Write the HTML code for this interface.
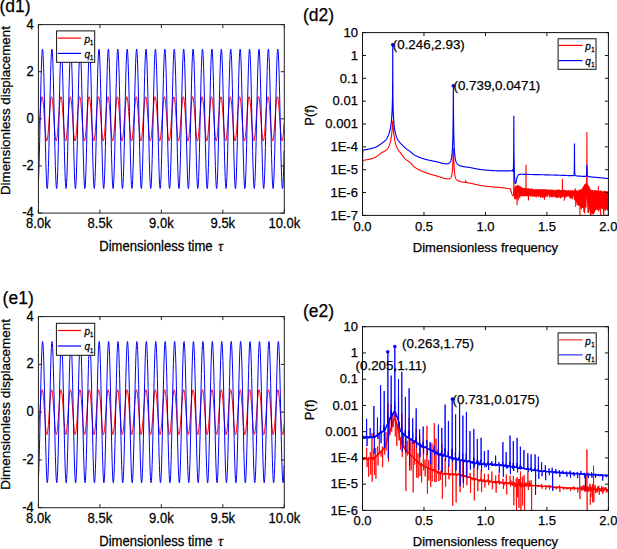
<!DOCTYPE html>
<html><head><meta charset="utf-8"><style>html,body{margin:0;padding:0;background:#fff;overflow:hidden}svg{display:block}</style></head>
<body>
<svg width="617" height="549" viewBox="0 0 617 549">
<rect width="617" height="549" fill="#fff"/>
<clipPath id="cd1"><rect x="38.4" y="24.6" width="245.9" height="188.5"/></clipPath>
<polyline points="38.4,136.19 38.65,133.66 38.9,130.72 39.15,127.45 39.4,123.93 39.65,120.28 39.9,116.59 40.15,112.96 40.4,109.5 40.65,106.29 40.9,103.44 41.15,101.01 41.4,99.08 41.65,97.69 41.9,96.9 42.15,96.71 42.4,97.14 42.65,98.18 42.9,99.79 43.15,101.92 43.4,104.53 43.65,107.54 43.9,110.86 44.15,114.4 44.4,118.07 44.65,121.75 44.9,125.36 45.15,128.79 45.4,131.94 45.65,134.72 45.9,137.07 46.15,138.91 46.4,140.19 46.65,140.88 46.9,140.96 47.15,140.42 47.4,139.28 47.65,137.58 47.9,135.35 48.15,132.67 48.4,129.6 48.65,126.23 48.9,122.66 49.15,118.98 49.4,115.3 49.65,111.72 49.9,108.34 50.15,105.24 50.4,102.53 50.65,100.27 50.9,98.52 51.15,97.34 51.4,96.76 51.65,96.8 51.9,97.44 52.15,98.68 52.4,100.48 52.65,102.79 52.9,105.55 53.15,108.67 53.4,112.08 53.65,115.68 53.9,119.37 54.15,123.04 54.4,126.59 54.65,129.93 54.9,132.96 55.15,135.6 55.4,137.78 55.65,139.43 55.9,140.5 56.15,140.98 56.4,140.84 56.65,140.08 56.9,138.74 57.15,136.85 57.4,134.45 57.65,131.63 57.9,128.44 58.15,124.99 58.4,121.37 58.65,117.68 58.9,114.02 59.15,110.5 59.4,107.21 59.65,104.24 59.9,101.68 60.15,99.59 60.4,98.04 60.65,97.07 60.9,96.7 61.15,96.95 61.4,97.81 61.65,99.25 61.9,101.24 62.15,103.71 62.4,106.61 62.65,109.85 62.9,113.33 63.15,116.97 63.4,120.67 63.65,124.31 63.9,127.8 64.15,131.04 64.4,133.94 64.65,136.43 64.9,138.42 65.15,139.87 65.4,140.74 65.65,141 65.9,140.64 66.15,139.68 66.4,138.14 66.65,136.06 66.9,133.5 67.15,130.54 67.4,127.25 67.65,123.73 67.9,120.08 68.15,116.39 68.4,112.76 68.65,109.31 68.9,106.12 69.15,103.29 69.4,100.89 69.65,98.98 69.9,97.63 70.15,96.87 70.4,96.72 70.65,97.19 70.9,98.25 71.15,99.89 71.4,102.06 71.65,104.69 71.9,107.72 72.15,111.05 72.4,114.6 72.65,118.27 72.9,121.96 73.15,125.56 73.4,128.97 73.65,132.1 73.9,134.87 74.15,137.19 74.4,139 74.65,140.24 74.9,140.9 75.15,140.94 75.4,140.37 75.65,139.2 75.9,137.46 76.15,135.21 76.4,132.5 76.65,129.42 76.9,126.04 77.15,122.46 77.4,118.78 77.65,115.1 77.9,111.52 78.15,108.15 78.4,105.08 78.65,102.39 78.9,100.16 79.15,98.44 79.4,97.3 79.65,96.75 79.9,96.82 80.15,97.49 80.4,98.77 80.65,100.6 80.9,102.93 81.15,105.71 81.4,108.86 81.65,112.28 81.9,115.89 82.15,119.57 82.4,123.24 82.65,126.79 82.9,130.11 83.15,133.12 83.4,135.74 83.65,137.88 83.9,139.5 84.15,140.54 84.4,140.98 84.65,140.81 84.9,140.02 85.15,138.65 85.4,136.73 85.65,134.31 85.9,131.46 86.15,128.26 86.4,124.79 86.65,121.17 86.9,117.48 87.15,113.82 87.4,110.31 87.65,107.03 87.9,104.09 88.15,101.55 88.4,99.49 88.65,97.97 88.9,97.03 89.15,96.7 89.4,96.98 89.65,97.88 89.9,99.35 90.15,101.36 90.4,103.87 90.65,106.78 90.9,110.04 91.15,113.54 91.4,117.18 91.65,120.87 91.9,124.51 92.15,127.99 92.4,131.21 92.65,134.09 92.9,136.55 93.15,138.52 93.4,139.94 93.65,140.77 93.9,140.99 94.15,140.6 94.4,139.61 94.65,138.03 94.9,135.93 95.15,133.35 95.4,130.37 95.65,127.06 95.9,123.53 96.15,119.87 96.4,116.18 96.65,112.56 96.9,109.12 97.15,105.95 97.4,103.14 97.65,100.77 97.9,98.89 98.15,97.57 98.4,96.85 98.65,96.73 98.9,97.23 99.15,98.33 99.4,100 99.65,102.19 99.9,104.85 100.15,107.9 100.4,111.25 100.65,114.81 100.9,118.48 101.15,122.16 101.4,125.76 101.65,129.16 101.9,132.27 102.15,135.01 102.4,137.3 102.65,139.08 102.9,140.3 103.15,140.92 103.4,140.93 103.65,140.32 103.9,139.12 104.15,137.35 104.4,135.07 104.65,132.34 104.9,129.23 105.15,125.84 105.4,122.25 105.65,118.57 105.9,114.89 106.15,111.33 106.4,107.97 106.65,104.92 106.9,102.25 107.15,100.05 107.4,98.36 107.65,97.25 107.9,96.74 108.15,96.84 108.4,97.55 108.65,98.85 108.9,100.71 109.15,103.08 109.4,105.88 109.65,109.04 109.9,112.48 110.15,116.09 110.4,119.78 110.65,123.44 110.9,126.98 111.15,130.29 111.4,133.28 111.65,135.87 111.9,137.99 112.15,139.58 112.4,140.58 112.65,140.99 112.9,140.78 113.15,139.96 113.4,138.56 113.65,136.6 113.9,134.16 114.15,131.29 114.4,128.07 114.65,124.59 114.9,120.96 115.15,117.27 115.4,113.62 115.65,110.12 115.9,106.86 116.15,103.93 116.4,101.42 116.65,99.39 116.9,97.9 117.15,97 117.4,96.7 117.65,97.02 117.9,97.94 118.15,99.45 118.4,101.49 118.65,104.02 118.9,106.96 119.15,110.23 119.4,113.74 119.65,117.39 119.9,121.08 120.15,124.71 120.4,128.18 120.65,131.38 120.9,134.24 121.15,136.67 121.4,138.61 121.65,140 121.9,140.8 122.15,140.99 122.4,140.56 122.65,139.53 122.9,137.93 123.15,135.8 123.4,133.19 123.65,130.19 123.9,126.87 124.15,123.33 124.4,119.66 124.65,115.97 124.9,112.37 125.15,108.94 125.4,105.79 125.65,103 125.9,100.65 126.15,98.8 126.4,97.52 126.65,96.82 126.9,96.74 127.15,97.28 127.4,98.41 127.65,100.11 127.9,102.33 128.15,105.01 128.4,108.08 128.65,111.44 128.9,115.01 129.15,118.69 129.4,122.37 129.65,125.95 129.9,129.34 130.15,132.43 130.4,135.15 130.65,137.42 130.9,139.16 131.15,140.35 131.4,140.93 131.65,140.91 131.9,140.27 132.15,139.03 132.4,137.24 132.65,134.93 132.9,132.18 133.15,129.05 133.4,125.64 133.65,122.05 133.9,118.36 134.15,114.69 134.4,111.13 134.65,107.79 134.9,104.76 135.15,102.12 135.4,99.94 135.65,98.29 135.9,97.2 136.15,96.73 136.4,96.86 136.65,97.61 136.9,98.94 137.15,100.83 137.4,103.23 137.65,106.05 137.9,109.23 138.15,112.68 138.4,116.3 138.65,119.99 138.9,123.65 139.15,127.17 139.4,130.47 139.65,133.44 139.9,136 140.15,138.09 140.4,139.65 140.65,140.62 140.9,141 141.15,140.75 141.4,139.9 141.65,138.46 141.9,136.48 142.15,134.01 142.4,131.11 142.65,127.88 142.9,124.39 143.15,120.76 143.4,117.06 143.65,113.42 143.9,109.93 144.15,106.69 144.4,103.78 144.65,101.29 144.9,99.29 145.15,97.84 145.4,96.97 145.65,96.7 145.9,97.05 146.15,98.01 146.4,99.55 146.65,101.62 146.9,104.17 147.15,107.13 147.4,110.42 147.65,113.94 147.9,117.59 148.15,121.28 148.4,124.91 148.65,128.36 148.9,131.55 149.15,134.39 149.4,136.8 149.65,138.7 149.9,140.06 150.15,140.82 150.4,140.98 150.65,140.52 150.9,139.46 151.15,137.82 151.4,135.66 151.65,133.03 151.9,130.01 152.15,126.68 152.4,123.13 152.65,119.46 152.9,115.77 153.15,112.17 153.4,108.75 153.65,105.62 153.9,102.85 154.15,100.53 154.4,98.72 154.65,97.46 154.9,96.8 155.15,96.76 155.4,97.32 155.65,98.49 155.9,100.22 156.15,102.47 156.4,105.17 156.65,108.26 156.9,111.64 157.15,115.21 157.4,118.89 157.65,122.57 157.9,126.15 158.15,129.52 158.4,132.6 158.65,135.29 158.9,137.53 159.15,139.25 159.4,140.4 159.65,140.95 159.9,140.89 160.15,140.21 160.4,138.95 160.65,137.12 160.9,134.79 161.15,132.01 161.4,128.87 161.65,125.45 161.9,121.84 162.15,118.16 162.4,114.49 162.65,110.94 162.9,107.61 163.15,104.6 163.4,101.98 163.65,99.83 163.9,98.21 164.15,97.16 164.4,96.72 164.65,96.89 164.9,97.67 165.15,99.04 165.4,100.96 165.65,103.37 165.9,106.22 166.15,109.42 166.4,112.88 166.65,116.5 166.9,120.19 167.15,123.85 167.4,127.36 167.65,130.64 167.9,133.59 168.15,136.13 168.4,138.19 168.65,139.72 168.9,140.66 169.15,141 169.4,140.72 169.65,139.83 169.9,138.36 170.15,136.35 170.4,133.86 170.65,130.94 170.9,127.69 171.15,124.19 171.4,120.55 171.65,116.86 171.9,113.22 172.15,109.74 172.4,106.51 172.65,103.63 172.9,101.17 173.15,99.2 173.4,97.77 173.65,96.94 173.9,96.71 174.15,97.09 174.4,98.08 174.65,99.65 174.9,101.75 175.15,104.33 175.4,107.31 175.65,110.61 175.9,114.14 176.15,117.8 176.4,121.49 176.65,125.11 176.9,128.55 177.15,131.72 177.4,134.54 177.65,136.92 177.9,138.79 178.15,140.12 178.4,140.85 178.65,140.97 178.9,140.48 179.15,139.38 179.4,137.72 179.65,135.53 179.9,132.87 180.15,129.83 180.4,126.48 180.65,122.92 180.9,119.25 181.15,115.56 181.4,111.97 181.65,108.57 181.9,105.45 182.15,102.71 182.4,100.41 182.65,98.63 182.9,97.41 183.15,96.78 183.4,96.77 183.65,97.37 183.9,98.57 184.15,100.33 184.4,102.61 184.65,105.34 184.9,108.44 185.15,111.83 185.4,115.42 185.65,119.1 185.9,122.78 186.15,126.34 186.4,129.7 186.65,132.76 186.9,135.43 187.15,137.64 187.4,139.33 187.65,140.44 187.9,140.96 188.15,140.87 188.4,140.16 188.65,138.86 188.9,137 189.15,134.64 189.4,131.84 189.65,128.68 189.9,125.25 190.15,121.64 190.4,117.95 190.65,114.28 190.9,110.75 191.15,107.44 191.4,104.44 191.65,101.85 191.9,99.73 192.15,98.14 192.4,97.12 192.65,96.71 192.9,96.91 193.15,97.73 193.4,99.13 193.65,101.08 193.9,103.52 194.15,106.39 194.4,109.61 194.65,113.08 194.9,116.71 195.15,120.4 195.4,124.05 195.65,127.55 195.9,130.82 196.15,133.75 196.4,136.26 196.65,138.29 196.9,139.79 197.15,140.7 197.4,141 197.65,140.69 197.9,139.77 198.15,138.27 198.4,136.23 198.65,133.7 198.9,130.77 199.15,127.5 199.4,123.99 199.65,120.34 199.9,116.65 200.15,113.02 200.4,109.55 200.65,106.34 200.9,103.48 201.15,101.04 201.4,99.1 201.65,97.71 201.9,96.91 202.15,96.71 202.4,97.13 202.65,98.16 202.9,99.76 203.15,101.89 203.4,104.49 203.65,107.49 203.9,110.8 204.15,114.34 204.4,118.01 204.65,121.7 204.9,125.31 205.15,128.74 205.4,131.89 205.65,134.68 205.9,137.04 206.15,138.88 206.4,140.17 206.65,140.87 206.9,140.96 207.15,140.43 207.4,139.3 207.65,137.61 207.9,135.39 208.15,132.71 208.4,129.65 208.65,126.29 208.9,122.72 209.15,119.04 209.4,115.36 209.65,111.78 209.9,108.39 210.15,105.29 210.4,102.57 210.65,100.3 210.9,98.55 211.15,97.36 211.4,96.77 211.65,96.79 211.9,97.43 212.15,98.66 212.4,100.45 212.65,102.75 212.9,105.5 213.15,108.62 213.4,112.03 213.65,115.62 213.9,119.31 214.15,122.98 214.4,126.54 214.65,129.88 214.9,132.92 215.15,135.57 215.4,137.75 215.65,139.4 215.9,140.49 216.15,140.97 216.4,140.84 216.65,140.1 216.9,138.77 217.15,136.88 217.4,134.5 217.65,131.67 217.9,128.5 218.15,125.05 218.4,121.43 218.65,117.74 218.9,114.08 219.15,110.56 219.4,107.26 219.65,104.28 219.9,101.72 220.15,99.62 220.4,98.06 220.65,97.08 220.9,96.71 221.15,96.94 221.4,97.79 221.65,99.22 221.9,101.2 222.15,103.67 222.4,106.56 222.65,109.79 222.9,113.28 223.15,116.92 223.4,120.61 223.65,124.25 223.9,127.74 224.15,130.99 224.4,133.9 224.65,136.39 224.9,138.39 225.15,139.85 225.4,140.73 225.65,141 225.9,140.65 226.15,139.7 226.4,138.17 226.65,136.1 226.9,133.55 227.15,130.59 227.4,127.31 227.65,123.79 227.9,120.14 228.15,116.44 228.4,112.82 228.65,109.36 228.9,106.17 229.15,103.33 229.4,100.92 229.65,99.01 229.9,97.65 230.15,96.88 230.4,96.72 230.65,97.17 230.9,98.23 231.15,99.86 231.4,102.02 231.65,104.64 231.9,107.66 232.15,111 232.4,114.55 232.65,118.21 232.9,121.9 233.15,125.5 233.4,128.92 233.65,132.06 233.9,134.83 234.15,137.15 234.4,138.97 234.65,140.23 234.9,140.89 235.15,140.95 235.4,140.38 235.65,139.22 235.9,137.5 236.15,135.25 236.4,132.55 236.65,129.47 236.9,126.09 237.15,122.51 237.4,118.84 237.65,115.16 237.9,111.58 238.15,108.21 238.4,105.13 238.65,102.43 238.9,100.19 239.15,98.47 239.4,97.31 239.65,96.75 239.9,96.81 240.15,97.48 240.4,98.74 240.65,100.56 240.9,102.89 241.15,105.67 241.4,108.81 241.65,112.23 241.9,115.83 242.15,119.52 242.4,123.18 242.65,126.73 242.9,130.06 243.15,133.08 243.4,135.7 243.65,137.85 243.9,139.48 244.15,140.53 244.4,140.98 244.65,140.82 244.9,140.04 245.15,138.68 245.4,136.76 245.65,134.35 245.9,131.5 246.15,128.31 246.4,124.85 246.65,121.23 246.9,117.53 247.15,113.88 247.4,110.36 247.65,107.08 247.9,104.13 248.15,101.58 248.4,99.52 248.65,97.99 248.9,97.04 249.15,96.7 249.4,96.98 249.65,97.86 249.9,99.32 250.15,101.33 250.4,103.82 250.65,106.73 250.9,109.98 251.15,113.48 251.4,117.12 251.65,120.81 251.9,124.45 252.15,127.93 252.4,131.16 252.65,134.05 252.9,136.52 253.15,138.49 253.4,139.92 253.65,140.76 253.9,140.99 254.15,140.61 254.4,139.63 254.65,138.06 254.9,135.97 255.15,133.39 255.4,130.42 255.65,127.12 255.9,123.59 256.15,119.93 256.4,116.24 256.65,112.62 256.9,109.18 257.15,106 257.4,103.18 257.65,100.8 257.9,98.92 258.15,97.59 258.4,96.85 258.65,96.73 258.9,97.22 259.15,98.31 259.4,99.97 259.65,102.15 259.9,104.8 260.15,107.84 260.4,111.19 260.65,114.75 260.9,118.42 261.15,122.11 261.4,125.7 261.65,129.1 261.9,132.22 262.15,134.97 262.4,137.27 262.65,139.06 262.9,140.28 263.15,140.91 263.4,140.93 263.65,140.33 263.9,139.14 264.15,137.38 264.4,135.11 264.65,132.39 264.9,129.29 265.15,125.9 265.4,122.31 265.65,118.63 265.9,114.95 266.15,111.38 266.4,108.02 266.65,104.96 266.9,102.29 267.15,100.08 267.4,98.39 267.65,97.26 267.9,96.74 268.15,96.83 268.4,97.53 268.65,98.83 268.9,100.68 269.15,103.04 269.4,105.83 269.65,108.99 269.9,112.42 270.15,116.03 270.4,119.72 270.65,123.39 270.9,126.92 271.15,130.24 271.4,133.24 271.65,135.83 271.9,137.96 272.15,139.55 272.4,140.57 272.65,140.99 272.9,140.79 273.15,139.98 273.4,138.58 273.65,136.64 273.9,134.2 274.15,131.33 274.4,128.12 274.65,124.65 274.9,121.02 275.15,117.33 275.4,113.68 275.65,110.17 275.9,106.91 276.15,103.98 276.4,101.46 276.65,99.42 276.9,97.92 277.15,97.01 277.4,96.7 277.65,97.01 277.9,97.92 278.15,99.42 278.4,101.46 278.65,103.98 278.9,106.91 279.15,110.17 279.4,113.68 279.65,117.33 279.9,121.02 280.15,124.65 280.4,128.12 280.65,131.33 280.9,134.2 281.15,136.64 281.4,138.58 281.65,139.98 281.9,140.79 282.15,140.99 282.4,140.57 282.65,139.55 282.9,137.96 283.15,135.83 283.4,133.24 283.65,130.24 283.9,126.92 284.15,123.39" fill="none" stroke="#ff0000" stroke-width="1.0" stroke-linejoin="round" clip-path="url(#cd1)"/>
<polyline points="38.4,182.97 38.65,177.51 38.9,170.43 39.15,161.92 39.4,152.21 39.65,141.57 39.9,130.3 40.15,118.71 40.4,107.13 40.65,95.87 40.9,85.25 41.15,75.56 41.4,67.08 41.65,60.04 41.9,54.63 42.15,51 42.4,49.26 42.65,49.45 42.9,51.58 43.15,55.57 43.4,61.32 43.65,68.67 43.9,77.41 44.15,87.31 44.4,98.08 44.65,109.43 44.9,121.04 45.15,132.59 45.4,143.76 45.65,154.23 45.9,163.72 46.15,171.97 46.4,178.74 46.65,183.85 46.9,187.14 47.15,188.55 47.4,188.01 47.65,185.55 47.9,181.24 48.15,175.2 48.4,167.59 48.65,158.62 48.9,148.55 49.15,137.66 49.4,126.24 49.65,114.62 49.9,103.11 50.15,92.04 50.4,81.72 50.65,72.43 50.9,64.42 51.15,57.94 51.4,53.14 51.65,50.17 51.9,49.11 52.15,49.98 52.4,52.77 52.65,57.4 52.9,63.73 53.15,71.6 53.4,80.78 53.65,91.01 53.9,102.02 54.15,113.5 54.4,125.13 54.65,136.58 54.9,147.54 55.15,157.7 55.4,166.78 55.65,174.53 55.9,180.74 56.15,185.22 56.4,187.86 56.65,188.58 56.9,187.36 57.15,184.24 57.4,179.31 57.65,172.69 57.9,164.57 58.15,155.19 58.4,144.8 58.65,133.68 58.9,122.15 59.15,110.54 59.4,99.15 59.65,88.31 59.9,78.32 60.15,69.45 60.4,61.96 60.65,56.05 60.9,51.88 61.15,49.57 61.4,49.19 61.65,50.75 61.9,54.2 62.15,59.44 62.4,66.34 62.65,74.69 62.9,84.27 63.15,94.82 63.4,106.03 63.65,117.59 63.9,129.19 64.15,140.51 64.4,151.22 64.65,161.03 64.9,169.67 65.15,176.9 65.4,182.52 65.65,186.36 65.9,188.33 66.15,188.37 66.4,186.48 66.65,182.71 66.9,177.16 67.15,169.99 67.4,161.4 67.65,151.63 67.9,140.95 68.15,129.65 68.4,118.06 68.65,106.48 68.9,95.25 69.15,84.68 69.4,75.05 69.65,66.65 69.9,59.69 70.15,54.37 70.4,50.85 70.65,49.22 70.9,49.52 71.15,51.75 71.4,55.85 71.65,61.69 71.9,69.12 72.15,77.94 72.4,87.89 72.65,98.7 72.9,110.07 73.15,121.69 73.4,133.23 73.65,144.36 73.9,154.79 74.15,164.22 74.4,172.39 74.65,179.07 74.9,184.08 75.15,187.27 75.4,188.57 75.65,187.92 75.9,185.36 76.15,180.95 76.4,174.81 76.65,167.12 76.9,158.09 77.15,147.96 77.4,137.03 77.65,125.59 77.9,113.97 78.15,102.48 78.4,91.44 78.65,81.17 78.9,71.94 79.15,64.02 79.4,57.62 79.65,52.92 79.9,50.06 80.15,49.11 80.4,50.09 80.65,52.98 80.9,57.71 81.15,64.14 81.4,72.08 81.65,81.32 81.9,91.61 82.15,102.66 82.4,114.15 82.65,125.78 82.9,137.21 83.15,148.13 83.4,158.24 83.65,167.25 83.9,174.92 84.15,181.03 84.4,185.42 84.65,187.95 84.9,188.56 85.15,187.24 85.4,184.01 85.65,178.98 85.9,172.27 86.15,164.08 86.4,154.63 86.65,144.19 86.9,133.04 87.15,121.5 87.4,109.89 87.65,98.52 87.9,87.72 88.15,77.79 88.4,68.99 88.65,61.58 88.9,55.77 89.15,51.7 89.4,49.5 89.65,49.23 89.9,50.89 90.15,54.45 90.4,59.79 90.65,66.77 90.9,75.2 91.15,84.84 91.4,95.43 91.65,106.67 91.9,118.24 92.15,129.84 92.4,141.13 92.65,151.8 92.9,161.55 93.15,170.12 93.4,177.26 93.65,182.78 93.9,186.52 94.15,188.39 94.4,188.32 94.65,186.32 94.9,182.44 95.15,176.8 95.4,169.55 95.65,160.89 95.9,151.06 96.15,140.33 96.4,129.01 96.65,117.41 96.9,105.84 97.15,94.64 97.4,84.11 97.65,74.55 97.9,66.22 98.15,59.34 98.4,54.13 98.65,50.71 98.9,49.19 99.15,49.6 99.4,51.93 99.65,56.13 99.9,62.07 100.15,69.58 100.4,78.47 100.65,88.47 100.9,99.33 101.15,110.72 101.4,122.34 101.65,133.86 101.9,144.97 102.15,155.35 102.4,164.71 102.65,172.81 102.9,179.4 103.15,184.31 103.4,187.4 103.65,188.58 103.9,187.83 104.15,185.16 104.4,180.65 104.65,174.42 104.9,166.65 105.15,157.54 105.4,147.37 105.65,136.4 105.9,124.94 106.15,113.32 106.4,101.84 106.65,90.84 106.9,80.62 107.15,71.46 107.4,63.62 107.65,57.31 107.9,52.71 108.15,49.95 108.4,49.11 108.65,50.2 108.9,53.2 109.15,58.03 109.4,64.54 109.65,72.57 109.9,81.88 110.15,92.21 110.4,103.29 110.65,114.8 110.9,126.42 111.15,137.84 111.4,148.72 111.65,158.78 111.9,167.72 112.15,175.31 112.4,181.33 112.65,185.61 112.9,188.03 113.15,188.54 113.4,187.11 113.65,183.78 113.9,178.64 114.15,171.85 114.4,163.58 114.65,154.07 114.9,143.58 115.15,132.41 115.4,120.85 115.65,109.24 115.9,97.9 116.15,87.14 116.4,77.26 116.65,68.54 116.9,61.21 117.15,55.49 117.4,51.53 117.65,49.44 117.9,49.27 118.15,51.04 118.4,54.7 118.65,60.14 118.9,67.2 119.15,75.71 119.4,85.41 119.65,96.04 119.9,107.31 120.15,118.9 120.4,130.48 120.65,141.74 120.9,152.37 121.15,162.06 121.4,170.56 121.65,177.61 121.9,183.04 122.15,186.68 122.4,188.43 122.65,188.25 122.9,186.15 123.15,182.17 123.4,176.43 123.65,169.1 123.9,160.36 124.15,150.48 124.4,139.71 124.65,128.36 124.9,116.76 125.15,105.2 125.4,94.03 125.65,83.55 125.9,74.05 126.15,65.79 126.4,59.01 126.65,53.89 126.9,50.57 127.15,49.16 127.4,49.68 127.65,52.12 127.9,56.42 128.15,62.45 128.4,70.05 128.65,79 128.9,89.06 129.15,99.95 129.4,111.37 129.65,122.99 129.9,134.5 130.15,145.57 130.4,155.9 130.65,165.2 130.9,173.22 131.15,179.72 131.4,184.53 131.65,187.51 131.9,188.59 132.15,187.73 132.4,184.96 132.65,180.34 132.9,174.02 133.15,166.17 133.4,157 133.65,146.77 133.9,135.77 134.15,124.29 134.4,112.67 134.65,101.21 134.9,90.25 135.15,80.08 135.4,70.99 135.65,63.22 135.9,57.01 136.15,52.51 136.4,49.86 136.65,49.12 136.9,50.32 137.15,53.43 137.4,58.35 137.65,64.95 137.9,73.06 138.15,82.43 138.4,92.82 138.65,103.93 138.9,115.45 139.15,127.07 139.4,138.46 139.65,149.31 139.9,159.31 140.15,168.18 140.4,175.69 140.65,181.61 140.9,185.79 141.15,188.11 141.4,188.51 141.65,186.97 141.9,183.54 142.15,178.31 142.4,171.42 142.65,163.08 142.9,153.51 143.15,142.97 143.4,131.77 143.65,120.2 143.9,108.6 144.15,97.28 144.4,86.56 144.65,76.74 144.9,68.09 145.15,60.85 145.4,55.22 145.65,51.36 145.9,49.38 146.15,49.32 146.4,51.2 146.65,54.96 146.9,60.49 147.15,67.64 147.4,76.22 147.65,85.99 147.9,96.66 148.15,107.95 148.4,119.55 148.65,131.12 148.9,142.36 149.15,152.94 149.4,162.57 149.65,170.99 149.9,177.96 150.15,183.29 150.4,186.83 150.65,188.47 150.9,188.19 151.15,185.97 151.4,181.89 151.65,176.06 151.9,168.64 152.15,159.84 152.4,149.89 152.65,139.09 152.9,127.72 153.15,116.1 153.4,104.56 153.65,93.42 153.9,82.99 154.15,73.55 154.4,65.37 154.65,58.68 154.9,53.65 155.15,50.44 155.4,49.14 155.65,49.76 155.9,52.31 156.15,56.71 156.4,62.83 156.65,70.51 156.9,79.54 157.15,89.65 157.4,100.58 157.65,112.02 157.9,123.64 158.15,135.13 158.4,146.17 158.65,156.45 158.9,165.69 159.15,173.62 159.4,180.03 159.65,184.75 159.9,187.63 160.15,188.59 160.4,187.63 160.65,184.75 160.9,180.03 161.15,173.62 161.4,165.69 161.65,156.45 161.9,146.17 162.15,135.13 162.4,123.64 162.65,112.02 162.9,100.58 163.15,89.65 163.4,79.54 163.65,70.51 163.9,62.83 164.15,56.71 164.4,52.31 164.65,49.76 164.9,49.14 165.15,50.44 165.4,53.65 165.65,58.68 165.9,65.37 166.15,73.55 166.4,82.99 166.65,93.42 166.9,104.56 167.15,116.1 167.4,127.72 167.65,139.09 167.9,149.89 168.15,159.84 168.4,168.64 168.65,176.06 168.9,181.89 169.15,185.97 169.4,188.19 169.65,188.47 169.9,186.83 170.15,183.29 170.4,177.96 170.65,170.99 170.9,162.57 171.15,152.94 171.4,142.36 171.65,131.12 171.9,119.55 172.15,107.95 172.4,96.66 172.65,85.99 172.9,76.22 173.15,67.64 173.4,60.49 173.65,54.96 173.9,51.2 174.15,49.32 174.4,49.38 174.65,51.36 174.9,55.22 175.15,60.85 175.4,68.09 175.65,76.74 175.9,86.56 176.15,97.28 176.4,108.6 176.65,120.2 176.9,131.77 177.15,142.97 177.4,153.51 177.65,163.08 177.9,171.42 178.15,178.31 178.4,183.54 178.65,186.97 178.9,188.51 179.15,188.11 179.4,185.79 179.65,181.61 179.9,175.69 180.15,168.18 180.4,159.31 180.65,149.31 180.9,138.46 181.15,127.07 181.4,115.45 181.65,103.93 181.9,92.82 182.15,82.43 182.4,73.06 182.65,64.95 182.9,58.35 183.15,53.43 183.4,50.32 183.65,49.12 183.9,49.86 184.15,52.51 184.4,57.01 184.65,63.22 184.9,70.99 185.15,80.08 185.4,90.25 185.65,101.21 185.9,112.67 186.15,124.29 186.4,135.77 186.65,146.77 186.9,157 187.15,166.17 187.4,174.02 187.65,180.34 187.9,184.96 188.15,187.73 188.4,188.59 188.65,187.51 188.9,184.53 189.15,179.72 189.4,173.22 189.65,165.2 189.9,155.9 190.15,145.57 190.4,134.5 190.65,122.99 190.9,111.37 191.15,99.95 191.4,89.06 191.65,79 191.9,70.05 192.15,62.45 192.4,56.42 192.65,52.12 192.9,49.68 193.15,49.16 193.4,50.57 193.65,53.89 193.9,59.01 194.15,65.79 194.4,74.05 194.65,83.55 194.9,94.03 195.15,105.2 195.4,116.76 195.65,128.36 195.9,139.71 196.15,150.48 196.4,160.36 196.65,169.1 196.9,176.43 197.15,182.17 197.4,186.15 197.65,188.25 197.9,188.43 198.15,186.68 198.4,183.04 198.65,177.61 198.9,170.56 199.15,162.06 199.4,152.37 199.65,141.74 199.9,130.48 200.15,118.9 200.4,107.31 200.65,96.04 200.9,85.41 201.15,75.71 201.4,67.2 201.65,60.14 201.9,54.7 202.15,51.04 202.4,49.27 202.65,49.44 202.9,51.53 203.15,55.49 203.4,61.21 203.65,68.54 203.9,77.26 204.15,87.14 204.4,97.9 204.65,109.24 204.9,120.85 205.15,132.41 205.4,143.58 205.65,154.07 205.9,163.58 206.15,171.85 206.4,178.64 206.65,183.78 206.9,187.11 207.15,188.54 207.4,188.03 207.65,185.61 207.9,181.33 208.15,175.31 208.4,167.72 208.65,158.78 208.9,148.72 209.15,137.84 209.4,126.42 209.65,114.8 209.9,103.29 210.15,92.21 210.4,81.88 210.65,72.57 210.9,64.54 211.15,58.03 211.4,53.2 211.65,50.2 211.9,49.11 212.15,49.95 212.4,52.71 212.65,57.31 212.9,63.62 213.15,71.46 213.4,80.62 213.65,90.84 213.9,101.84 214.15,113.32 214.4,124.94 214.65,136.4 214.9,147.37 215.15,157.54 215.4,166.65 215.65,174.42 215.9,180.65 216.15,185.16 216.4,187.83 216.65,188.58 216.9,187.4 217.15,184.31 217.4,179.4 217.65,172.81 217.9,164.71 218.15,155.35 218.4,144.97 218.65,133.86 218.9,122.34 219.15,110.72 219.4,99.33 219.65,88.47 219.9,78.47 220.15,69.58 220.4,62.07 220.65,56.13 220.9,51.93 221.15,49.6 221.4,49.19 221.65,50.71 221.9,54.13 222.15,59.34 222.4,66.22 222.65,74.55 222.9,84.11 223.15,94.64 223.4,105.84 223.65,117.41 223.9,129.01 224.15,140.33 224.4,151.06 224.65,160.89 224.9,169.55 225.15,176.8 225.4,182.44 225.65,186.32 225.9,188.32 226.15,188.39 226.4,186.52 226.65,182.78 226.9,177.26 227.15,170.12 227.4,161.55 227.65,151.8 227.9,141.13 228.15,129.84 228.4,118.24 228.65,106.67 228.9,95.43 229.15,84.84 229.4,75.2 229.65,66.77 229.9,59.79 230.15,54.45 230.4,50.89 230.65,49.23 230.9,49.5 231.15,51.7 231.4,55.77 231.65,61.58 231.9,68.99 232.15,77.79 232.4,87.72 232.65,98.52 232.9,109.89 233.15,121.5 233.4,133.04 233.65,144.19 233.9,154.63 234.15,164.08 234.4,172.27 234.65,178.98 234.9,184.01 235.15,187.24 235.4,188.56 235.65,187.95 235.9,185.42 236.15,181.03 236.4,174.92 236.65,167.25 236.9,158.24 237.15,148.13 237.4,137.21 237.65,125.78 237.9,114.15 238.15,102.66 238.4,91.61 238.65,81.32 238.9,72.08 239.15,64.14 239.4,57.71 239.65,52.98 239.9,50.09 240.15,49.11 240.4,50.06 240.65,52.92 240.9,57.62 241.15,64.02 241.4,71.94 241.65,81.17 241.9,91.44 242.15,102.48 242.4,113.97 242.65,125.59 242.9,137.03 243.15,147.96 243.4,158.09 243.65,167.12 243.9,174.81 244.15,180.95 244.4,185.36 244.65,187.92 244.9,188.57 245.15,187.27 245.4,184.08 245.65,179.07 245.9,172.39 246.15,164.22 246.4,154.79 246.65,144.36 246.9,133.23 247.15,121.69 247.4,110.07 247.65,98.7 247.9,87.89 248.15,77.94 248.4,69.12 248.65,61.69 248.9,55.85 249.15,51.75 249.4,49.52 249.65,49.22 249.9,50.85 250.15,54.37 250.4,59.69 250.65,66.65 250.9,75.05 251.15,84.68 251.4,95.25 251.65,106.48 251.9,118.06 252.15,129.65 252.4,140.95 252.65,151.63 252.9,161.4 253.15,169.99 253.4,177.16 253.65,182.71 253.9,186.48 254.15,188.37 254.4,188.33 254.65,186.36 254.9,182.52 255.15,176.9 255.4,169.67 255.65,161.03 255.9,151.22 256.15,140.51 256.4,129.19 256.65,117.59 256.9,106.03 257.15,94.82 257.4,84.27 257.65,74.69 257.9,66.34 258.15,59.44 258.4,54.2 258.65,50.75 258.9,49.19 259.15,49.57 259.4,51.88 259.65,56.05 259.9,61.96 260.15,69.45 260.4,78.32 260.65,88.31 260.9,99.15 261.15,110.54 261.4,122.15 261.65,133.68 261.9,144.8 262.15,155.19 262.4,164.57 262.65,172.69 262.9,179.31 263.15,184.24 263.4,187.36 263.65,188.58 263.9,187.86 264.15,185.22 264.4,180.74 264.65,174.53 264.9,166.78 265.15,157.7 265.4,147.54 265.65,136.58 265.9,125.13 266.15,113.5 266.4,102.02 266.65,91.01 266.9,80.78 267.15,71.6 267.4,63.73 267.65,57.4 267.9,52.77 268.15,49.98 268.4,49.11 268.65,50.17 268.9,53.14 269.15,57.94 269.4,64.42 269.65,72.43 269.9,81.72 270.15,92.04 270.4,103.11 270.65,114.62 270.9,126.24 271.15,137.66 271.4,148.55 271.65,158.62 271.9,167.59 272.15,175.2 272.4,181.24 272.65,185.55 272.9,188.01 273.15,188.55 273.4,187.14 273.65,183.85 273.9,178.74 274.15,171.97 274.4,163.72 274.65,154.23 274.9,143.76 275.15,132.59 275.4,121.04 275.65,109.43 275.9,98.08 276.15,87.31 276.4,77.41 276.65,68.67 276.9,61.32 277.15,55.57 277.4,51.58 277.65,49.45 277.9,49.26 278.15,51 278.4,54.63 278.65,60.04 278.9,67.08 279.15,75.56 279.4,85.25 279.65,95.87 279.9,107.13 280.15,118.71 280.4,130.3 280.65,141.57 280.9,152.21 281.15,161.92 281.4,170.43 281.65,177.51 281.9,182.97 282.15,186.63 282.4,188.42 282.65,188.27 282.9,186.2 283.15,182.25 283.4,176.54 283.65,169.23 283.9,160.51 284.15,150.64" fill="none" stroke="#0000ff" stroke-width="1.0" stroke-linejoin="round" clip-path="url(#cd1)"/>
<rect x="56.6" y="30.9" width="38.1" height="31.4" fill="#fff" stroke="#111" stroke-width="1.0"/>
<line x1="57.8" y1="38.1" x2="81.1" y2="38.1" stroke="#ff0000" stroke-width="1.2"/>
<line x1="57.8" y1="53.4" x2="81.1" y2="53.4" stroke="#0000ff" stroke-width="1.2"/>
<text transform="translate(84.4,42.5) scale(1,1.1)" font-family='"Liberation Sans", sans-serif' font-size="10" text-anchor="start" stroke="#000" stroke-width="0.25" font-style="italic">p</text>
<text transform="translate(89.9,44.9) scale(1,1.1)" font-family='"Liberation Sans", sans-serif' font-size="6" text-anchor="start" stroke="#000" stroke-width="0.25">1</text>
<text transform="translate(84.4,57.6) scale(1,1.1)" font-family='"Liberation Sans", sans-serif' font-size="10" text-anchor="start" stroke="#000" stroke-width="0.25" font-style="italic">q</text>
<text transform="translate(89.9,60) scale(1,1.1)" font-family='"Liberation Sans", sans-serif' font-size="6" text-anchor="start" stroke="#000" stroke-width="0.25">1</text>
<rect x="38.4" y="24.6" width="245.9" height="188.5" fill="none" stroke="#222" stroke-width="1.0"/>
<path d="M38.4,213.1v-3.5M38.4,24.6v3.5M99.88,213.1v-3.5M99.88,24.6v3.5M161.35,213.1v-3.5M161.35,24.6v3.5M222.83,213.1v-3.5M222.83,24.6v3.5M284.3,213.1v-3.5M284.3,24.6v3.5M38.4,24.6h3.5M284.3,24.6h-3.5M38.4,71.72h3.5M284.3,71.72h-3.5M38.4,118.85h3.5M284.3,118.85h-3.5M38.4,165.97h3.5M284.3,165.97h-3.5M38.4,213.1h3.5M284.3,213.1h-3.5" stroke="#222" stroke-width="1.0" fill="none"/>
<text transform="translate(38.4,228.1) scale(1,1.07)" font-family='"Liberation Sans", sans-serif' font-size="13" text-anchor="middle" stroke="#000" stroke-width="0.25">8.0k</text>
<text transform="translate(99.88,228.1) scale(1,1.07)" font-family='"Liberation Sans", sans-serif' font-size="13" text-anchor="middle" stroke="#000" stroke-width="0.25">8.5k</text>
<text transform="translate(161.35,228.1) scale(1,1.07)" font-family='"Liberation Sans", sans-serif' font-size="13" text-anchor="middle" stroke="#000" stroke-width="0.25">9.0k</text>
<text transform="translate(222.83,228.1) scale(1,1.07)" font-family='"Liberation Sans", sans-serif' font-size="13" text-anchor="middle" stroke="#000" stroke-width="0.25">9.5k</text>
<text transform="translate(284.3,228.1) scale(1,1.07)" font-family='"Liberation Sans", sans-serif' font-size="13" text-anchor="middle" stroke="#000" stroke-width="0.25">10.0k</text>
<text transform="translate(33.8,28.6) scale(1,1.07)" font-family='"Liberation Sans", sans-serif' font-size="13" text-anchor="end" stroke="#000" stroke-width="0.25">4</text>
<text transform="translate(33.8,75.72) scale(1,1.07)" font-family='"Liberation Sans", sans-serif' font-size="13" text-anchor="end" stroke="#000" stroke-width="0.25">2</text>
<text transform="translate(33.8,122.85) scale(1,1.07)" font-family='"Liberation Sans", sans-serif' font-size="13" text-anchor="end" stroke="#000" stroke-width="0.25">0</text>
<text transform="translate(33.8,169.97) scale(1,1.07)" font-family='"Liberation Sans", sans-serif' font-size="13" text-anchor="end" stroke="#000" stroke-width="0.25">-2</text>
<text transform="translate(33.8,217.1) scale(1,1.07)" font-family='"Liberation Sans", sans-serif' font-size="13" text-anchor="end" stroke="#000" stroke-width="0.25">-4</text>
<text transform="translate(99.2,251.4) scale(1,1.07)" font-family='"Liberation Sans", sans-serif' font-size="13.1" text-anchor="start" stroke="#000" stroke-width="0.25">Dimensionless time</text>
<text transform="translate(218.3,251.4) scale(1,1.07)" font-family='"Liberation Serif", serif' font-size="13.5" text-anchor="start" stroke="#000" stroke-width="0.25" font-style="italic">&#964;</text>
<text transform="translate(10.2,110.6) rotate(-90) scale(1.0262,1)" font-family='"Liberation Sans", sans-serif' font-size="13" text-anchor="middle" stroke="#000" stroke-width="0.25">Dimensionless displacement</text>
<text transform="translate(-0.6,12.2) scale(1,1.0)" font-family='"Liberation Sans", sans-serif' font-size="17.5" text-anchor="start" stroke="#000" stroke-width="0.25">(d1)</text>
<clipPath id="cd2"><rect x="362.5" y="32.6" width="245.9" height="182.8"/></clipPath>
<polyline points="362.5,168.56 362.7,163.32 362.9,160.55 363.1,160.48 363.3,160.41 363.5,160.35 363.7,160.29 363.9,160.23 364.1,160.18 364.3,160.14 364.5,160.1 364.7,160.06 364.9,160.02 365.1,159.99 365.3,159.95 365.5,159.92 365.7,159.89 365.9,159.87 366.1,159.84 366.3,159.81 366.5,159.78 366.7,159.76 366.9,159.73 367.1,159.7 367.3,159.67 367.5,159.64 367.7,159.61 367.9,159.57 368.1,159.53 368.3,159.49 368.5,159.45 368.7,159.41 368.9,159.36 369.1,159.31 369.3,159.26 369.5,159.21 369.7,159.16 369.9,159.11 370.1,159.06 370.3,159.01 370.5,158.96 370.7,158.91 370.9,158.86 371.1,158.8 371.3,158.75 371.5,158.69 371.7,158.64 371.9,158.58 372.1,158.52 372.3,158.46 372.5,158.4 372.7,158.33 372.9,158.27 373.1,158.21 373.3,158.14 373.5,158.07 373.7,158 373.9,157.93 374.1,157.86 374.3,157.78 374.5,157.71 374.7,157.63 374.9,157.55 375.1,157.46 375.3,157.36 375.5,157.26 375.7,157.15 375.9,157.03 376.1,156.91 376.3,156.78 376.5,156.65 376.7,156.51 376.9,156.37 377.1,156.22 377.3,156.07 377.5,155.92 377.7,155.76 377.9,155.6 378.1,155.44 378.3,155.28 378.5,155.12 378.7,154.96 378.9,154.79 379.1,154.63 379.3,154.47 379.5,154.31 379.7,154.15 379.9,153.99 380.1,153.83 380.3,153.67 380.5,153.52 380.7,153.37 380.9,153.23 381.1,153.08 381.3,152.94 381.5,152.81 381.7,152.68 381.9,152.55 382.1,152.43 382.3,152.32 382.5,152.2 382.7,152.1 382.9,152 383.1,151.9 383.3,151.81 383.5,151.72 383.7,151.62 383.9,151.52 384.1,151.41 384.3,151.3 384.5,151.19 384.7,151.07 384.9,150.94 385.1,150.81 385.3,150.68 385.5,150.54 385.7,150.39 385.9,150.23 386.1,150.06 386.3,149.89 386.5,149.7 386.7,149.51 386.9,149.3 387.1,149.08 387.3,148.85 387.5,148.6 387.7,148.34 387.9,148.05 388.1,147.75 388.3,147.43 388.5,147.08 388.7,146.7 388.9,146.3 389.1,145.86 389.3,145.39 389.5,144.87 389.7,144.31 389.9,143.7 390.1,143.03 390.3,142.29 390.5,141.48 390.7,140.58 390.9,139.57 391.1,138.44 391.3,137.17 391.5,135.72 391.7,134.06 391.9,132.13 392.1,129.89 392.3,127.28 392.5,124.31 392.7,121.48 392.75,121.13 392.9,122.84 393.1,125.77 393.3,128.49 393.5,130.87 393.7,132.91 393.9,134.69 394.1,136.25 394.3,137.62 394.5,138.84 394.7,139.94 394.9,140.93 395.1,141.83 395.3,142.65 395.5,143.41 395.7,144.11 395.9,144.75 396.1,145.35 396.3,145.91 396.5,146.43 396.7,146.92 396.9,147.39 397.1,147.82 397.3,148.24 397.5,148.63 397.7,149 397.9,149.36 398.1,149.7 398.3,150.02 398.5,150.33 398.7,150.63 398.9,150.92 399.1,151.2 399.3,151.47 399.5,151.72 399.7,151.97 399.9,152.22 400.1,152.45 400.3,152.7 400.5,152.94 400.7,153.2 400.9,153.45 401.1,153.72 401.3,153.98 401.5,154.25 401.7,154.53 401.9,154.8 402.1,155.08 402.3,155.36 402.5,155.63 402.7,155.91 402.9,156.18 403.1,156.45 403.3,156.72 403.5,156.98 403.7,157.24 403.9,157.49 404.1,157.73 404.3,157.96 404.5,158.18 404.7,158.4 404.9,158.6 405.1,158.79 405.3,158.97 405.5,159.14 405.7,159.31 405.9,159.48 406.1,159.63 406.3,159.79 406.5,159.94 406.7,160.09 406.9,160.23 407.1,160.37 407.3,160.51 407.5,160.65 407.7,160.78 407.9,160.92 408.1,161.05 408.3,161.19 408.5,161.33 408.7,161.46 408.9,161.6 409.1,161.74 409.3,161.89 409.5,162.04 409.7,162.19 409.9,162.34 410.1,162.5 410.3,162.68 410.5,162.86 410.7,163.05 410.9,163.25 411.1,163.46 411.3,163.67 411.5,163.89 411.7,164.11 411.9,164.34 412.1,164.56 412.3,164.79 412.5,165.02 412.7,165.24 412.9,165.46 413.1,165.68 413.3,165.89 413.5,166.1 413.7,166.31 413.9,166.5 414.1,166.69 414.3,166.87 414.5,167.04 414.7,167.2 414.9,167.35 415.1,167.48 415.3,167.62 415.5,167.75 415.7,167.88 415.9,168.01 416.1,168.14 416.3,168.27 416.5,168.39 416.7,168.51 416.9,168.63 417.1,168.75 417.3,168.87 417.5,168.98 417.7,169.1 417.9,169.21 418.1,169.32 418.3,169.43 418.5,169.54 418.7,169.65 418.9,169.76 419.1,169.86 419.3,169.96 419.5,170.06 419.7,170.17 419.9,170.26 420.1,170.36 420.3,170.46 420.5,170.56 420.7,170.65 420.9,170.74 421.1,170.84 421.3,170.93 421.5,171.02 421.7,171.11 421.9,171.2 422.1,171.28 422.3,171.37 422.5,171.46 422.7,171.54 422.9,171.62 423.1,171.71 423.3,171.79 423.5,171.87 423.7,171.95 423.9,172.03 424.1,172.11 424.3,172.19 424.5,172.27 424.7,172.34 424.9,172.42 425.1,172.5 425.3,172.57 425.5,172.64 425.7,172.72 425.9,172.79 426.1,172.86 426.3,172.93 426.5,173 426.7,173.07 426.9,173.13 427.1,173.2 427.3,173.27 427.5,173.33 427.7,173.4 427.9,173.46 428.1,173.52 428.3,173.59 428.5,173.65 428.7,173.71 428.9,173.77 429.1,173.83 429.3,173.89 429.5,173.95 429.7,174.01 429.9,174.07 430.1,174.13 430.3,174.18 430.5,174.24 430.7,174.3 430.9,174.35 431.1,174.41 431.3,174.47 431.5,174.52 431.7,174.58 431.9,174.63 432.1,174.69 432.3,174.75 432.5,174.8 432.7,174.86 432.9,174.91 433.1,174.97 433.3,175.02 433.5,175.08 433.7,175.13 433.9,175.19 434.1,175.25 434.3,175.3 434.5,175.36 434.7,175.41 434.9,175.47 435.1,175.53 435.3,175.59 435.5,175.64 435.7,175.7 435.9,175.76 436.1,175.82 436.3,175.88 436.5,175.94 436.7,176 436.9,176.06 437.1,176.12 437.3,176.19 437.5,176.25 437.7,176.31 437.9,176.38 438.1,176.44 438.3,176.51 438.5,176.57 438.7,176.64 438.9,176.7 439.1,176.77 439.3,176.84 439.5,176.9 439.7,176.97 439.9,177.03 440.1,177.1 440.3,177.17 440.5,177.23 440.7,177.3 440.9,177.36 441.1,177.42 441.3,177.49 441.5,177.55 441.7,177.61 441.9,177.68 442.1,177.74 442.3,177.8 442.5,177.86 442.7,177.91 442.9,177.97 443.1,178.03 443.3,178.08 443.5,178.14 443.7,178.19 443.9,178.24 444.1,178.29 444.3,178.34 444.5,178.39 444.7,178.43 444.9,178.48 445.1,178.52 445.3,178.56 445.5,178.6 445.7,178.64 445.9,178.67 446.1,178.71 446.3,178.74 446.5,178.77 446.7,178.8 446.9,178.83 447.1,178.86 447.3,178.88 447.5,178.9 447.7,178.92 447.9,178.93 448.1,178.94 448.3,178.94 448.5,178.94 448.7,178.93 448.9,178.91 449.1,178.88 449.3,178.84 449.5,178.79 449.7,178.72 449.9,178.63 450.1,178.52 450.3,178.38 450.5,178.2 450.7,177.98 450.9,177.7 451.1,177.34 451.3,176.89 451.5,176.3 451.7,175.54 451.9,174.54 452.1,173.21 452.3,171.42 452.5,168.96 452.7,165.57 452.9,160.86 453.1,154.66 453.3,149.11 453.36,148.66 453.5,150.85 453.7,157.3 453.9,162.96 454.1,167.14 454.3,170.17 454.5,172.41 454.7,174.08 454.9,175.35 455.1,176.33 455.3,177.11 455.5,177.73 455.7,178.24 455.9,178.66 456.1,179.01 456.3,179.31 456.5,179.56 456.7,179.78 456.9,179.98 457.1,180.15 457.3,180.3 457.5,180.44 457.7,180.56 457.9,180.67 458.1,180.78 458.3,180.87 458.5,180.96 458.7,181.04 458.9,181.11 459.1,181.19 459.3,181.25 459.5,181.31 459.7,181.37 459.9,181.43 460.1,181.48 460.3,181.53 460.5,181.58 460.7,181.63 460.9,181.67 461.1,181.72 461.3,181.76 461.5,181.8 461.7,181.84 461.9,181.87 462.1,181.91 462.3,181.94 462.5,181.98 462.7,182.01 462.9,182.04 463.1,182.08 463.3,182.11 463.5,182.14 463.7,182.17 463.9,182.2 464.1,182.23 464.3,182.25 464.5,182.28 464.7,182.31 464.9,182.33 465.1,182.35 465.3,182.36 465.5,182.21 465.7,180.58 465.9,182.39 466.1,182.48 466.3,182.52 466.5,182.56 466.7,182.59 466.9,182.62 467.1,182.65 467.3,182.68 467.5,182.71 467.7,182.74 467.9,182.77 468.1,182.8 468.3,182.83 468.5,182.86 468.7,182.9 468.9,182.93 469.1,182.97 469.3,183 469.5,183.04 469.7,183.08 469.9,183.12 470.1,183.15 470.3,183.19 470.5,183.23 470.7,183.28 470.9,183.32 471.1,183.36 471.3,183.4 471.5,183.44 471.7,183.49 471.9,183.53 472.1,183.58 472.3,183.62 472.5,183.67 472.7,183.71 472.9,183.76 473.1,183.8 473.3,183.85 473.5,183.9 473.7,183.94 473.9,183.99 474.1,184.04 474.3,184.08 474.5,184.13 474.7,184.18 474.9,184.22 475.1,184.27 475.3,184.32 475.5,184.37 475.7,184.41 475.9,184.46 476.1,184.51 476.3,184.55 476.5,184.6 476.7,184.65 476.9,184.69 477.1,184.74 477.3,184.78 477.5,184.83 477.7,184.87 477.9,184.92 478.1,184.96 478.3,185 478.5,185.05 478.7,185.09 478.9,185.13 479.1,185.17 479.3,185.21 479.5,185.25 479.7,185.29 479.9,185.33 480.1,185.37 480.3,185.41 480.5,185.44 480.7,185.48 480.9,185.52 481.1,185.55 481.3,185.58 481.5,185.62 481.7,185.65 481.9,185.68 482.1,185.71 482.3,185.74 482.5,185.77 482.7,185.8 482.9,185.82 483.1,185.85 483.3,185.88 483.5,185.91 483.7,185.93 483.9,185.96 484.1,185.99 484.3,186.01 484.5,186.04 484.7,186.06 484.9,186.09 485.1,186.11 485.3,186.14 485.5,186.16 485.7,186.18 485.9,186.21 486.1,186.23 486.3,186.25 486.5,186.28 486.7,186.3 486.9,186.32 487.1,186.34 487.3,186.36 487.5,186.38 487.7,186.4 487.9,186.42 488.1,186.45 488.3,186.47 488.5,186.49 488.7,186.5 488.9,186.52 489.1,186.54 489.3,186.56 489.5,186.58 489.7,186.6 489.9,186.62 490.1,186.64 490.3,186.66 490.5,186.67 490.7,186.69 490.9,186.71 491.1,186.73 491.3,186.75 491.5,186.76 491.7,186.78 491.9,186.8 492.1,186.82 492.3,186.83 492.5,186.85 492.7,186.87 492.9,186.88 493.1,186.9 493.3,186.92 493.5,186.94 493.7,186.95 493.9,186.97 494.1,186.99 494.3,187 494.5,187.02 494.7,187.04 494.9,187.05 495.1,187.07 495.3,187.09 495.5,187.1 495.7,187.12 495.9,187.14 496.1,187.15 496.3,187.17 496.5,187.19 496.7,187.21 496.9,187.22 497.1,187.24 497.3,187.26 497.5,187.28 497.7,187.29 497.9,187.31 498.1,187.33 498.3,187.35 498.5,187.36 498.7,187.38 498.9,187.4 499.1,187.42 499.3,187.44 499.5,187.46 499.7,187.48 499.9,187.5 500.1,187.52 500.3,187.54 500.5,187.56 500.7,187.58 500.9,187.6 501.1,187.62 501.3,187.64 501.5,187.66 501.7,187.68 501.9,187.7 502.1,187.72 502.3,187.75 502.5,187.77 502.7,187.79 502.9,187.82 503.1,187.84 503.3,187.86 503.5,187.89 503.7,187.91 503.9,187.94 504.1,187.96 504.3,187.99 504.5,188.01 504.7,188.04 504.9,188.07 505.1,188.09 505.3,188.12 505.5,188.15 505.7,188.18 505.9,188.2 506.1,188.23 506.3,188.26 506.5,188.29 506.7,188.32 506.9,188.35 507.1,188.38 507.3,188.42 507.5,188.45 507.7,188.48 507.9,188.51 508.1,188.55 508.3,188.58 508.5,188.61 508.7,188.65 508.9,188.68 509.1,188.72 509.3,188.76 509.5,188.79 509.7,188.83 509.9,188.87 510.1,188.91 510.3,189.11 510.5,189.48 510.7,190 510.9,190.61 511.1,191.28 511.3,191.98 511.5,192.66 511.7,193.32 511.9,193.91 512.1,194.44 512.3,194.89 512.5,195.26 512.7,195.54 512.9,195.74 513.1,195.81 513.3,195.66 513.5,194.85 513.7,190.06 513.85,169.06 513.9,177.47 513.97,188.07 514.04,190.2 514.1,190.07 514.16,189.25 514.22,192.51 514.29,189.89 514.35,190.55 514.41,194.41 514.47,189.98 514.54,196.97 514.6,198.37 514.66,189.04 514.72,194.06 514.79,188.84 514.85,188.32 514.91,189.99 514.97,191.77 515.04,197.92 515.1,188.04 515.16,193.02 515.22,189.43 515.29,187.87 515.35,198.96 515.41,192.79 515.47,186.73 515.54,196.21 515.6,187.34 515.66,187.25 515.72,187.42 515.79,197.44 515.85,185.84 515.91,196.56 515.97,190.69 516.04,185.97 516.1,190.01 516.16,188.66 516.22,189.01 516.29,192.48 516.35,190.95 516.41,197.99 516.47,193.24 516.54,193.55 516.6,187.52 516.66,193.09 516.72,194.69 516.79,197.4 516.85,186.21 516.91,187.36 516.97,196.88 517.04,204.8 517.1,187.01 517.16,197 517.22,187.15 517.29,186.5 517.35,192.97 517.41,187.59 517.47,187.26 517.54,187.16 517.6,187.94 517.66,185.4 517.72,185.31 517.79,192.25 517.85,189.44 517.91,191.39 517.97,193.24 518.04,186.26 518.1,186.32 518.16,186.11 518.22,186.79 518.29,200.05 518.35,187.01 518.41,187.55 518.47,190.09 518.54,186.17 518.6,186.31 518.66,191.48 518.72,192.11 518.79,187.45 518.85,190.33 518.91,186.2 518.97,188.39 519.04,190.38 519.1,187.45 519.16,187.48 519.22,190.6 519.29,190.47 519.35,186.42 519.41,192.33 519.47,186.25 519.54,197.12 519.6,186.77 519.66,186.99 519.72,186.72 519.79,197.8 519.85,187.16 519.91,190.89 519.97,196.78 520.04,196.04 520.1,186.75 520.16,190.09 520.22,189.98 520.29,192.2 520.35,187.91 520.41,188.64 520.47,187.61 520.54,187.1 520.6,189.98 520.66,187.09 520.72,187.66 520.79,187.82 520.85,187.8 520.91,187.72 520.97,195.08 521.04,188.58 521.1,188.51 521.16,191.49 521.22,187.62 521.29,187.71 521.35,195.64 521.41,194.54 521.47,191.14 521.54,187.87 521.6,188.44 521.66,188.44 521.72,188.18 521.79,188 521.85,188.3 521.91,190.89 521.97,188.62 522.04,188.01 522.1,194.28 522.16,189.03 522.22,188.87 522.29,188.94 522.35,192.81 522.41,195.95 522.47,190.47 522.54,191.48 522.6,188.3 522.66,189.34 522.72,191.33 522.79,194.89 522.85,192.91 522.91,191.68 522.97,190.12 523.04,188.31 523.1,193.8 523.16,188.78 523.22,189.21 523.29,192.33 523.35,193.37 523.41,192.88 523.47,190.48 523.54,189.01 523.6,189.19 523.66,194.01 523.72,195.85 523.79,189.24 523.85,193.58 523.91,189.4 523.97,188.77 524.04,190.83 524.1,193.65 524.16,190.05 524.22,188.54 524.29,191.76 524.35,190.28 524.41,193.97 524.47,194.13 524.54,188.87 524.6,189.37 524.66,195.44 524.72,189.89 524.79,188.6 524.85,188.57 524.91,195.97 524.97,191.1 525.04,188.71 525.1,190.89 525.16,190.3 525.22,189.76 525.29,195.65 525.35,195.7 525.41,189.34 525.47,188.58 525.54,189.51 525.6,193.69 525.66,191.97 525.72,192.64 525.79,191.17 525.85,188.91 525.91,191.4 525.97,177.8 526.02,165.02 526.04,167.3 526.1,184.58 526.16,195.41 526.22,190.65 526.29,188.67 526.35,190.6 526.41,191.9 526.47,188.7 526.54,188.88 526.6,189.3 526.66,191.22 526.72,189.91 526.79,190.44 526.85,189.65 526.91,192.4 526.97,189.22 527.04,195.16 527.1,196.06 527.16,190.82 527.22,190.34 527.29,193.84 527.35,189.72 527.41,193.88 527.47,190.02 527.54,192.16 527.6,189.25 527.66,191.58 527.72,195.54 527.79,188.59 527.85,193.72 527.91,190.68 527.97,194.85 528.04,189.64 528.1,188.63 528.16,189.78 528.22,195.77 528.29,189.06 528.35,191.68 528.41,199.91 528.47,195.64 528.54,194.44 528.6,193.73 528.66,189.07 528.72,196.1 528.79,189.83 528.85,194.55 528.91,194.05 528.97,192.24 529.04,190.55 529.1,189.21 529.16,190.93 529.22,189.8 529.29,189.09 529.35,189.21 529.41,193.79 529.47,195.21 529.54,189.07 529.6,189.12 529.66,189.48 529.72,189.09 529.79,189.54 529.85,191.47 529.91,190.24 529.97,190.62 530.04,189.85 530.1,192.38 530.16,189.57 530.22,190.74 530.29,190.17 530.35,195.43 530.41,189.54 530.47,192.68 530.54,190.25 530.6,195.14 530.66,190.8 530.72,191.37 530.79,194.3 530.85,192.36 530.91,189.69 530.97,188.97 531.04,196.47 531.1,189.93 531.16,189.59 531.22,195.51 531.29,189.14 531.35,189.34 531.41,189.39 531.47,189.36 531.54,191.17 531.6,191.71 531.66,190.1 531.72,189.03 531.79,193.47 531.85,194.41 531.91,191.29 531.97,190.05 532.04,191.13 532.1,192.22 532.16,190.76 532.22,194.21 532.29,189.89 532.35,191.06 532.41,189.12 532.47,191.3 532.54,193.15 532.6,192.9 532.66,194.13 532.72,196.36 532.79,192.82 532.85,190.6 532.91,190.78 532.97,193.17 533.04,190.27 533.1,192.16 533.16,193.51 533.22,190.68 533.29,194.39 533.35,190.47 533.41,191.38 533.47,189.94 533.54,195.95 533.6,190.39 533.66,192.36 533.72,190.46 533.79,195.61 533.85,195.94 533.91,189.92 533.97,196.24 534.04,192.5 534.1,189.64 534.16,191.04 534.22,189.89 534.29,191.32 534.35,190.09 534.41,190.37 534.47,194.48 534.54,191.68 534.6,194.01 534.66,196.31 534.72,190.4 534.79,191.69 534.85,194.31 534.91,190.99 534.97,195.87 535.04,190.34 535.1,194.42 535.16,192.64 535.22,189.93 535.29,193.55 535.35,190.18 535.41,195.44 535.47,189.68 535.54,190.04 535.6,194.04 535.66,190.58 535.72,189.54 535.79,191.51 535.85,190.13 535.91,191.44 535.97,193.47 536.04,195.06 536.1,190.23 536.16,192.51 536.22,197 536.29,190.87 536.35,194.21 536.41,190.04 536.47,194.69 536.54,192.45 536.6,194.98 536.66,194.19 536.72,195.23 536.79,190.25 536.85,193.38 536.91,190.53 536.97,189.66 537.04,189.86 537.1,195.96 537.16,192.43 537.22,195.8 537.29,189.32 537.35,189.65 537.41,190.65 537.47,194.27 537.54,192.01 537.6,191.4 537.66,194.13 537.72,192.91 537.79,190.27 537.85,189.68 537.91,190.79 537.97,194.96 538.04,191.95 538.1,193.95 538.16,190.63 538.22,190.67 538.29,191.55 538.35,192.46 538.41,196.27 538.47,190.03 538.54,190.63 538.6,191.99 538.66,194.9 538.72,193.13 538.79,190.84 538.85,193.98 538.91,191.53 538.97,196.32 539.04,190.49 539.1,189.9 539.16,194.59 539.22,190.14 539.29,194.72 539.35,192.24 539.41,191.3 539.47,190.28 539.54,193.77 539.6,189.58 539.66,196.27 539.72,195.53 539.79,190.8 539.85,190.04 539.91,195.16 539.97,191.47 540.04,190.34 540.1,191.14 540.16,190.42 540.22,191.13 540.29,192.44 540.35,195.34 540.41,194.38 540.47,189.71 540.54,191.16 540.6,191.45 540.66,197.37 540.72,189.55 540.79,191.05 540.85,195.79 540.91,191.37 540.97,189.78 541.04,192.04 541.1,189.97 541.16,195.99 541.22,189.53 541.29,190.34 541.35,189.82 541.41,193.47 541.47,190.15 541.54,195.08 541.6,195.11 541.66,195.82 541.72,189.93 541.79,189.62 541.85,190.89 541.91,196.39 541.97,194.25 542.04,189.98 542.1,193.27 542.16,196.05 542.22,196.95 542.29,193.46 542.35,194.56 542.41,194.77 542.47,190.19 542.54,190.15 542.6,193 542.66,190.13 542.72,190.46 542.79,197.4 542.85,191.51 542.91,191.87 542.97,196.51 543.04,190.19 543.1,197.16 543.16,195.58 543.22,190.5 543.29,190.34 543.35,189.54 543.41,196.03 543.47,189.71 543.54,189.68 543.6,195.01 543.66,192.65 543.72,193 543.79,193.56 543.85,190.14 543.91,190.43 543.97,191.71 544.04,190.07 544.1,191.39 544.16,193.66 544.22,193.41 544.29,192.56 544.35,190.04 544.41,190.8 544.47,199.32 544.54,189.63 544.6,192.16 544.66,190.58 544.72,195.68 544.79,189.67 544.85,190.5 544.91,192.03 544.97,193.06 545.04,196.25 545.1,193.86 545.16,190.22 545.22,190.53 545.29,193.09 545.35,196.76 545.41,189.93 545.47,193.92 545.54,190.14 545.6,190.81 545.66,191.71 545.72,192.24 545.79,196.81 545.85,192.8 545.91,190.82 545.97,193.7 546.04,191.98 546.1,190.78 546.16,191.31 546.22,191.74 546.29,190.1 546.35,189.88 546.41,190.68 546.47,190.98 546.54,190.16 546.6,195.06 546.66,195.25 546.72,191.26 546.79,192.59 546.85,195.52 546.91,190.68 546.97,191.73 547.04,191.48 547.1,193.38 547.16,196.08 547.22,190.12 547.29,196.48 547.35,192.55 547.41,194.51 547.47,193.3 547.54,195.08 547.6,191.03 547.66,193.91 547.72,190.29 547.79,192.24 547.85,193.48 547.91,190.56 547.97,189.86 548.04,194.11 548.1,194.13 548.16,193.5 548.22,191.13 548.29,192.51 548.35,190.27 548.41,192.7 548.47,192.59 548.54,192.71 548.6,191.91 548.66,190.74 548.72,193.21 548.79,191.37 548.85,193.97 548.91,191.45 548.97,190.11 549.04,191.69 549.1,192.45 549.16,195.78 549.22,195.21 549.29,190.07 549.35,193.9 549.41,190.62 549.47,193.85 549.54,191.59 549.6,190.44 549.66,191.77 549.72,192.18 549.79,197.17 549.85,192.89 549.91,192.89 549.97,190.96 550.04,193.02 550.1,191.3 550.16,192.29 550.22,191.58 550.29,192.34 550.35,190.08 550.41,192.28 550.47,190.34 550.54,190.94 550.6,190.53 550.66,193.04 550.72,195.98 550.79,190.61 550.85,189.94 550.91,193 550.97,190.25 551.04,196.12 551.1,190.07 551.16,190.75 551.22,192.2 551.29,190.22 551.35,190.43 551.41,190.4 551.47,193.93 551.54,196.8 551.6,191.14 551.66,194.85 551.72,194.72 551.79,192.72 551.85,191.98 551.91,190.56 551.97,195.28 552.04,194.05 552.1,190.09 552.16,190.39 552.22,194.63 552.29,196.76 552.35,193.02 552.41,195.55 552.47,196.54 552.54,194.37 552.6,193.11 552.66,190.55 552.72,190.74 552.79,192.79 552.85,196.71 552.91,190.97 552.97,191.23 553.04,190.5 553.1,193.57 553.16,191.68 553.22,194.26 553.29,190.27 553.35,192.61 553.41,193.67 553.47,191.11 553.54,190.29 553.6,191.43 553.66,194.02 553.72,191.04 553.79,190.11 553.85,191.24 553.91,190.31 553.97,194.65 554.04,194.62 554.1,196.48 554.16,195.35 554.22,192.88 554.29,190.79 554.35,194.38 554.41,193.92 554.47,194.53 554.54,194.06 554.6,195.11 554.66,191.47 554.72,193.02 554.79,191.83 554.85,191.02 554.91,195.19 554.97,190.93 555.04,191.84 555.1,190.71 555.16,191.72 555.22,194.99 555.29,193.87 555.35,193.09 555.41,196.9 555.47,190.3 555.54,191.8 555.6,190.63 555.66,191.09 555.72,196.13 555.79,190.61 555.85,194.5 555.91,195.06 555.97,191.96 556.04,194.19 556.1,191.08 556.16,191.05 556.22,191.79 556.29,191.12 556.35,190.46 556.41,191.18 556.47,197.49 556.54,191.04 556.6,190.78 556.66,196.23 556.72,190.32 556.79,196.38 556.85,195.84 556.91,192.63 556.97,191.17 557.04,190.98 557.1,190.53 557.16,190.59 557.22,190.98 557.29,191.1 557.35,196.66 557.41,191.86 557.47,197.05 557.54,194.18 557.6,190.42 557.66,192.94 557.72,190.3 557.79,190.59 557.85,196.65 557.91,191.19 557.97,191.05 558.04,190.09 558.1,193.3 558.16,192.15 558.22,190.06 558.29,193.91 558.35,190.85 558.41,194.45 558.47,192.04 558.54,192.46 558.6,192.04 558.66,193.94 558.72,197.48 558.79,195.34 558.85,190.8 558.91,191.79 558.97,190.48 559.04,190.16 559.1,190.53 559.16,190.49 559.22,197.08 559.29,194.41 559.35,195.57 559.41,193.6 559.47,191.12 559.54,191.22 559.6,192.23 559.66,190.53 559.72,191.45 559.79,194.59 559.85,190.29 559.91,191.44 559.97,191.98 560.04,193.4 560.1,192.77 560.16,193.79 560.22,190.8 560.29,194.69 560.35,190.65 560.41,191.17 560.47,194.15 560.54,197.85 560.6,193.86 560.66,190.92 560.72,191.59 560.79,195.28 560.85,196.28 560.91,192.95 560.97,191.08 561.04,191.04 561.1,192.87 561.16,195.25 561.22,191.03 561.29,190.55 561.35,195.04 561.41,190.49 561.47,195.03 561.54,193.06 561.6,197.14 561.66,190.93 561.72,191.14 561.79,194.96 561.85,193.13 561.91,190.71 561.97,192.06 562.04,193.07 562.1,193.79 562.16,191.86 562.22,190.4 562.29,196.61 562.35,192.41 562.41,179.38 562.47,192.7 562.54,190.66 562.6,191.41 562.66,190.4 562.72,190.9 562.79,191 562.85,192.08 562.91,190.78 562.97,191.34 563.04,195.19 563.1,190.85 563.16,190.39 563.22,195.17 563.29,192.74 563.35,192.17 563.41,190.83 563.47,192.52 563.54,190.79 563.6,195.64 563.66,195.18 563.72,191.86 563.79,190.22 563.85,196.68 563.91,190.74 563.97,193.08 564.04,195.45 564.1,194.81 564.16,196.26 564.22,192.64 564.29,200.31 564.35,191.95 564.41,190.62 564.47,192.35 564.54,191.9 564.6,194.28 564.66,195.87 564.72,190.34 564.79,191.21 564.85,191.66 564.91,192.58 564.97,197.63 565.04,196.47 565.1,197.36 565.16,194.05 565.22,193.75 565.29,190.73 565.35,191.48 565.41,190.73 565.47,194.99 565.54,191.23 565.6,191.32 565.66,190.9 565.72,191.95 565.79,194.31 565.85,190.52 565.91,191.67 565.97,196.38 566.04,195.79 566.1,193.27 566.16,193.27 566.22,190.7 566.29,195.81 566.35,194.5 566.41,192 566.47,191.4 566.54,191.11 566.6,191.84 566.66,196.2 566.72,190.9 566.79,191.61 566.85,192.14 566.91,191.35 566.97,191.53 567.04,191.22 567.1,191.57 567.16,193.64 567.22,192.05 567.29,191.67 567.35,194.9 567.41,192.29 567.47,191.76 567.54,194.18 567.6,194.57 567.66,196.09 567.72,195.87 567.79,193.58 567.85,194.75 567.91,190.83 567.97,194.07 568.04,190.86 568.1,191.75 568.16,190.86 568.22,192.11 568.29,190.41 568.35,194 568.41,194.41 568.47,194.98 568.54,191.23 568.6,193.27 568.66,195.84 568.72,191.35 568.79,190.77 568.85,191.32 568.91,191.92 568.97,190.71 569.04,192.8 569.1,191.61 569.16,193.97 569.22,193.17 569.29,194.35 569.35,191.13 569.41,194.32 569.47,194.83 569.54,194.88 569.6,191.22 569.66,197.35 569.72,192.72 569.79,191.83 569.85,191.9 569.91,192.58 569.97,193.14 570.04,191.01 570.1,191.87 570.16,191.48 570.22,194.72 570.29,192.2 570.35,191.36 570.41,192.17 570.47,191.63 570.54,190.91 570.6,198.24 570.66,195.4 570.72,192.63 570.79,191.36 570.85,191.33 570.91,196.74 570.97,197.46 571.04,190.93 571.1,192.38 571.16,192.44 571.22,190.71 571.29,193.76 571.35,195.69 571.41,195.41 571.47,194.54 571.54,190.75 571.6,191.42 571.66,192.28 571.72,194.33 571.79,192.06 571.85,192.05 571.91,195.94 571.97,190.93 572.04,191.01 572.1,191.07 572.16,198.55 572.22,190.8 572.29,191.66 572.35,192.61 572.41,194.47 572.47,191.54 572.54,195.48 572.6,190.87 572.66,198.63 572.72,190.88 572.79,196.13 572.85,191.8 572.91,195.24 572.97,196.37 573.04,191.2 573.1,191.57 573.16,193.74 573.22,192.51 573.29,192.15 573.35,194.95 573.41,192.37 573.47,193.08 573.54,192.16 573.6,192.35 573.66,191.98 573.72,191.73 573.79,191.25 573.85,191.72 573.91,191.29 573.97,195.59 574.04,191.59 574.1,191.76 574.16,193.42 574.22,191.53 574.29,191.25 574.35,191.65 574.41,192.67 574.47,190.04 574.47,199.2 574.54,196.51 574.6,192.14 574.66,193 574.72,192.74 574.79,192.1 574.85,199 574.91,190.7 574.97,191.82 575.04,194.66 575.1,200 575.16,191.22 575.22,188.84 575.29,192.67 575.35,194.54 575.41,191.33 575.47,198.97 575.54,191.39 575.6,192.11 575.66,198.6 575.72,206.48 575.79,206 575.85,197.94 575.91,191.3 575.97,191.17 576.04,193.04 576.1,191 576.16,201.95 576.22,191.75 576.29,191.69 576.35,191.57 576.41,190.95 576.43,193.59 576.47,190.75 576.5,200.11 576.54,195.91 576.58,192.16 576.61,199.61 576.65,198.07 576.68,192.73 576.72,200.05 576.75,201.4 576.79,195.77 576.83,193.02 576.86,200.68 576.9,202.29 576.93,192.45 576.97,191.11 577,200.3 577.04,195.98 577.08,191.95 577.11,194.61 577.15,192.16 577.18,202.55 577.22,192.34 577.25,191.43 577.29,191.79 577.33,192.63 577.36,204.35 577.4,191.44 577.43,193.85 577.47,203.82 577.5,191.34 577.54,192.1 577.58,199.67 577.61,191.8 577.65,203.23 577.68,201.12 577.72,191.24 577.75,195.42 577.79,194.68 577.83,197.31 577.86,192.06 577.9,192.57 577.93,191.53 577.97,191.88 578,191.87 578.04,202.69 578.08,202.67 578.11,192.13 578.15,197.28 578.18,194.66 578.22,191.44 578.25,192.02 578.29,204.85 578.33,192.18 578.36,195.16 578.4,204.45 578.43,192.14 578.47,200.15 578.5,191.1 578.54,198.63 578.58,200.92 578.61,200.88 578.65,205.28 578.68,198.3 578.72,205.22 578.75,192.16 578.79,195.12 578.83,191.13 578.86,191.15 578.9,193.09 578.93,199.05 578.97,199.71 579,190.15 579.04,204.51 579.08,191.39 579.11,191.24 579.15,202.24 579.18,203.77 579.22,199.21 579.25,192.24 579.29,193.58 579.33,202.37 579.36,192.56 579.4,201.05 579.43,200.25 579.47,193.35 579.5,203.87 579.54,192.43 579.58,199.24 579.61,197.48 579.65,191.7 579.68,194.86 579.72,195.8 579.75,194.97 579.79,190.68 579.83,207.49 579.86,207.61 579.9,189.95 579.93,216.96 579.97,195.11 580,190.28 580.04,202.6 580.08,192.88 580.11,198.83 580.15,202.7 580.18,195.39 580.22,190.65 580.25,202.19 580.29,198.66 580.33,205.48 580.36,191.39 580.4,201.04 580.43,204.74 580.47,192.3 580.5,192.42 580.54,191.57 580.58,189.84 580.61,191.29 580.65,191.68 580.68,190.27 580.72,201.47 580.75,192.89 580.79,196.2 580.83,190.95 580.86,191.48 580.9,200.26 580.93,193.94 580.97,196.25 581,193.29 581.04,195.52 581.08,206.23 581.11,190.76 581.15,194.78 581.18,199.1 581.22,189.71 581.25,208.95 581.29,194.66 581.33,191.15 581.36,201.09 581.4,202.69 581.43,197.7 581.47,207.11 581.5,190.12 581.54,195 581.58,200.47 581.61,207.64 581.65,197.53 581.68,196.63 581.72,192.35 581.75,195.64 581.79,195.63 581.83,206.68 581.86,203.47 581.9,200.48 581.93,207.55 581.97,189.13 582,201.47 582.04,193.17 582.08,201.15 582.11,190.27 582.15,193.33 582.18,203.82 582.22,188.91 582.25,189.41 582.29,192.61 582.33,204.76 582.36,189.4 582.4,203.86 582.43,189.12 582.47,190.11 582.5,194.21 582.54,197.46 582.58,206.34 582.61,206.27 582.65,188.87 582.68,200.36 582.72,196.66 582.75,190.53 582.79,201.49 582.83,207.26 582.86,192.84 582.9,207.42 582.93,187.96 582.97,188.42 583,200.84 583.04,189.55 583.08,195.25 583.11,193.01 583.15,187.08 583.18,201.05 583.22,200.61 583.25,187.11 583.29,188.44 583.33,201.96 583.36,207.71 583.4,205.79 583.43,192.67 583.47,189.97 583.5,190.78 583.54,186.77 583.58,192.47 583.61,187.03 583.65,186.66 583.68,189.25 583.72,186.77 583.75,191.25 583.79,198.51 583.83,196.68 583.86,211.48 583.9,206.64 583.93,196.21 583.97,206.58 584,190.31 584.04,202.22 584.08,187.72 584.11,192.68 584.15,211.45 584.18,194.16 584.22,191.29 584.25,201.63 584.29,187.98 584.33,203 584.36,185.15 584.4,186.19 584.43,185.87 584.47,186.61 584.5,208.53 584.54,184.95 584.58,186.89 584.61,193.02 584.65,212.95 584.68,200.02 584.72,188.39 584.75,186.56 584.79,204.25 584.83,185.28 584.86,184.73 584.9,185.85 584.93,190.8 584.97,208.15 585,198.26 585.04,192.7 585.08,207.32 585.11,197.1 585.15,193.8 585.18,186.92 585.22,184.31 585.25,185.46 585.29,200.28 585.33,194.08 585.36,200.21 585.4,184.48 585.43,205.26 585.47,187.28 585.5,206.77 585.54,193.34 585.58,191.22 585.61,201.66 585.65,193.58 585.68,195.3 585.72,184.19 585.75,192.57 585.79,187.13 585.83,184.03 585.86,184.05 585.9,189.81 585.93,185.74 585.97,198.46 586,184.01 586.04,183.86 586.08,207.07 586.11,185.7 586.15,189.5 586.18,184.84 586.22,183.97 586.25,187.72 586.29,199.22 586.33,183.42 586.36,198.42 586.4,197.01 586.43,191.57 586.47,186.09 586.5,184.92 586.54,184.34 586.58,186.23 586.61,185.52 586.65,182.74 586.68,179.52 586.72,175.67 586.75,170.91 586.79,164.69 586.83,155.76 586.86,141.16 586.88,132.58 586.9,136.69 586.93,152.92 586.97,162.85 587,169.57 587.04,174.62 587.08,178.65 587.11,182.01 587.15,184.88 587.18,187.39 587.22,189.62 587.25,191.63 587.29,193.45 587.33,184.93 587.36,196.58 587.4,184.5 587.43,186.14 587.47,190.06 587.5,184.72 587.54,201.48 587.58,195.25 587.61,198.58 587.65,188.51 587.68,204.4 587.72,185.58 587.75,192.04 587.79,193.15 587.83,208.31 587.86,185.83 587.9,207.05 587.93,212.25 587.97,187.84 588,199 588.04,203.13 588.08,195.97 588.11,187.85 588.15,195.72 588.18,205.73 588.22,186.15 588.25,190.76 588.29,185.56 588.33,204.19 588.36,201.78 588.4,186.19 588.43,200.57 588.47,198.45 588.5,186.19 588.54,192.33 588.58,197.61 588.61,188.55 588.65,192.74 588.68,212.14 588.72,196.51 588.75,192.81 588.79,186.87 588.83,186.99 588.86,205.73 588.9,200.43 588.93,205.23 588.97,194.75 589,195.07 589.04,193.25 589.08,201.16 589.11,188.95 589.15,193.16 589.18,192.67 589.22,197.62 589.25,188.59 589.29,187.48 589.33,187.62 589.36,187.77 589.4,206.34 589.43,200.09 589.47,201.71 589.5,192.34 589.54,188.21 589.58,193 589.61,206.87 589.65,193.77 589.68,197.95 589.72,191.68 589.75,188.26 589.79,197.53 589.83,209.13 589.86,191.45 589.9,189.22 589.93,200.72 589.97,190.97 590,196.18 590.04,190.25 590.08,202.55 590.11,191.99 590.15,193.93 590.18,211.35 590.22,201.45 590.25,202.6 590.29,207.08 590.33,206.61 590.36,192.99 590.4,213.98 590.43,209.98 590.47,200.26 590.5,206.95 590.54,196.43 590.58,202.68 590.61,190.52 590.65,214.46 590.68,205.76 590.72,190.63 590.75,191.56 590.79,197.48 590.83,204.2 590.86,190.15 590.9,212.76 590.93,192.34 590.97,215.41 591,203.68 591.04,196.11 591.08,192.82 591.11,190.47 591.15,191.26 591.18,199.68 591.22,204.57 591.25,211.1 591.29,193.22 591.33,212.74 591.36,192.29 591.4,212.66 591.43,211.16 591.47,191.76 591.5,208.18 591.54,202.59 591.58,201.82 591.61,207.38 591.65,197.19 591.68,196.36 591.72,193.73 591.75,208.65 591.79,209.78 591.83,190.75 591.86,204.74 591.9,192.4 591.93,191.54 591.97,191.56 592,198.4 592.04,192.11 592.08,192.42 592.11,190.66 592.15,193.12 592.18,204.88 592.22,190.51 592.25,195.97 592.29,198.39 592.33,190.44 592.36,192.42 592.4,210.03 592.43,213.78 592.47,207.79 592.5,190.83 592.54,203.55 592.58,194.78 592.61,191.26 592.65,195.33 592.68,209.78 592.72,207.92 592.75,193.6 592.79,191.19 592.83,209.05 592.86,213.45 592.9,196.12 592.93,191.63 592.97,196.54 593,200.92 593.04,195.99 593.08,193.2 593.11,191.8 593.15,192.21 593.18,191.43 593.22,192.32 593.25,211.45 593.29,191.32 593.33,201.82 593.36,204.54 593.4,193.55 593.43,198.3 593.47,191.59 593.5,213.68 593.54,201.06 593.58,202.07 593.61,195.83 593.65,212.18 593.68,206.9 593.72,197.08 593.75,200.05 593.79,192.48 593.83,210.73 593.86,198.79 593.9,207.93 593.93,192.06 593.97,212.45 594,190.76 594.04,195.9 594.08,204.48 594.11,192.16 594.15,203.27 594.18,190.65 594.22,193.53 594.25,204.49 594.29,206.47 594.33,191.42 594.36,192.49 594.4,206.12 594.43,200.66 594.47,200.88 594.5,212 594.54,204.27 594.58,200.19 594.61,202.46 594.65,202.24 594.68,200.84 594.72,190.75 594.75,190.78 594.79,203.06 594.83,198.45 594.86,192.59 594.9,191.56 594.93,196.04 594.97,191 595,201.64 595.04,193.07 595.08,204.44 595.11,191.51 595.15,195.36 595.18,190.84 595.22,203.31 595.25,197.24 595.29,192.25 595.33,209.52 595.36,199.7 595.4,193.05 595.43,205.88 595.47,193.22 595.5,208.65 595.54,192.01 595.58,209.87 595.61,190.88 595.65,201.59 595.68,192.65 595.72,194.11 595.75,198.36 595.79,190.9 595.83,192.18 595.86,191.27 595.9,200.78 595.93,192.01 595.97,195.95 596,192.36 596.04,192.54 596.08,207.49 596.11,195.31 596.15,199.25 596.18,200.69 596.22,203.39 596.25,192.45 596.29,191.38 596.33,194.7 596.36,191.9 596.4,191.34 596.43,207 596.47,198.11 596.5,194.22 596.54,191.57 596.58,201.88 596.61,196.32 596.65,191.2 596.68,209.3 596.72,208 596.75,207.74 596.79,203.87 596.83,196.41 596.86,193.13 596.9,198.32 596.93,191.38 596.97,197.81 597,191.32 597.04,191.69 597.08,200.6 597.11,192.84 597.15,200.16 597.18,202.22 597.22,204.3 597.25,197.43 597.29,204.71 597.33,198.93 597.36,207.76 597.4,206.52 597.43,191.35 597.47,192.59 597.5,193.25 597.54,192.48 597.58,191.83 597.61,205.8 597.65,191.16 597.68,191.25 597.72,202.3 597.75,192.36 597.79,192.8 597.83,209.14 597.86,202.33 597.9,195.01 597.93,191.58 597.97,192.82 598,210.11 598.04,202.33 598.08,190.93 598.11,200.16 598.15,193.57 598.18,200.81 598.22,192.69 598.25,191.95 598.29,191.65 598.33,186.43 598.36,198.08 598.4,206.67 598.43,199.91 598.47,200.9 598.5,191.99 598.54,192.86 598.58,206.52 598.61,210.51 598.65,194.05 598.68,202.68 598.72,207.8 598.75,210.94 598.79,193.07 598.83,198.38 598.86,193.92 598.9,206.81 598.93,194.6 598.97,192.74 599,191.08 599.04,201.69 599.08,199.79 599.11,204.19 599.15,192.2 599.18,191.87 599.22,197.41 599.25,207.92 599.29,195.26 599.33,192.47 599.36,197.6 599.4,209.17 599.43,204.96 599.47,206.69 599.5,193.71 599.54,192.82 599.58,205.58 599.61,202.29 599.65,205.2 599.68,193.85 599.72,192.6 599.75,191.75 599.79,205.94 599.83,207.28 599.86,193.93 599.9,205.13 599.93,205.35 599.97,194.53 600,196.92 600.04,192.26 600.08,192.85 600.11,192.95 600.15,192.03 600.18,196.28 600.22,191.12 600.25,201.91 600.29,191.62 600.33,194.39 600.36,198.93 600.4,191.76 600.43,193.99 600.47,197.16 600.5,197.06 600.54,206.42 600.58,202.79 600.61,192.06 600.65,215.35 600.68,197.13 600.72,199.18 600.75,191.29 600.79,195.48 600.83,199.76 600.86,202.83 600.9,203.3 600.93,191.7 600.97,204.08 601,196.79 601.04,198.84 601.08,204.92 601.11,194.04 601.15,206.87 601.18,206.18 601.22,203.24 601.25,193.22 601.29,207.96 601.33,191.81 601.36,201.38 601.4,205.96 601.43,191.58 601.47,200.89 601.5,199.8 601.54,191.16 601.58,206.83 601.61,195.47 601.65,192.19 601.68,190.99 601.72,202.17 601.75,193.04 601.79,195.52 601.83,192.17 601.86,198.28 601.9,194.4 601.93,203.28 601.97,199.61 602,201.1 602.04,192.61 602.08,191.95 602.11,205.66 602.15,208.14 602.18,198.74 602.22,207.6 602.25,200.62 602.29,197.34 602.33,194.74 602.36,192.99 602.4,195.41 602.43,192.38 602.47,194.86 602.5,195.32 602.54,203.09 602.58,193.83 602.61,192.25 602.65,198.31 602.68,203.65 602.72,197.57 602.75,199.64 602.79,197.51 602.83,192.25 602.86,204.88 602.9,204.06 602.93,208.73 602.97,192.59 603,192.08 603.04,208.5 603.08,205.47 603.11,197.71 603.15,203.42 603.18,197.82 603.22,206.22 603.25,191.91 603.29,195.28 603.33,199.26 603.36,192.62 603.4,200.52 603.43,192.17 603.47,200.44 603.5,214.12 603.54,194.02 603.58,209.43 603.61,198.36 603.65,201.52 603.68,191.48 603.72,192.35 603.75,200.9 603.79,219.58 603.83,198.11 603.86,207.27 603.9,191.94 603.93,206.24 603.97,205.4 604,198.09 604.04,194.51 604.08,200.09 604.11,192.97 604.15,199.34 604.18,200.27 604.22,196.97 604.25,192.81 604.29,191.32 604.33,192.02 604.36,204.7 604.4,191.81 604.43,191.46 604.47,192.71 604.5,196.53 604.54,197.85 604.58,205.96 604.61,205.15 604.65,208.96 604.68,205.44 604.72,195.11 604.75,191.5 604.79,208.93 604.83,192.05 604.86,197.75 604.9,193.31 604.93,203.29 604.97,192.39 605,194.02 605.04,192.97 605.08,204.56 605.11,198.45 605.15,210.05 605.18,192.99 605.22,191.61 605.25,204.48 605.29,201.56 605.33,201.48 605.36,210.26 605.4,197.41 605.43,192.35 605.47,198.13 605.5,192.64 605.54,206.87 605.58,195.69 605.61,197.56 605.65,207.21 605.68,203.8 605.72,194.73 605.75,203.44 605.79,204.77 605.83,202.63 605.86,197.34 605.9,207.02 605.93,195.54 605.97,191.45 606,192.67 606.04,198.69 606.08,194.57 606.11,194.39 606.15,194.72 606.18,192.03 606.22,192.46 606.25,191.85 606.29,199.94 606.33,193.5 606.36,195.44 606.4,207.29 606.43,197.98 606.47,203.32 606.5,202.44 606.54,208.95 606.58,192.15 606.61,194.22 606.65,207.81 606.68,206.83 606.72,208.43 606.75,192.45 606.79,192.3 606.83,206.03 606.86,194.62 606.9,196.24 606.93,208.11 606.97,192.08 607,209.29 607.04,194.75 607.08,192.89 607.11,192.27 607.15,196.71 607.18,194.89 607.22,205.69 607.25,192.33 607.29,192.03 607.33,192.01 607.36,198.35 607.4,202.76 607.43,195.13 607.47,197.89 607.5,199.21 607.54,192.28 607.58,192.28 607.61,210.21 607.65,193.78 607.68,207.99 607.72,195.29 607.75,192.51 607.79,192.44 607.83,192.84 607.86,193.13 607.9,195.34 607.93,195.26 607.97,196.6 608,195.24 608.04,191.6 608.08,192.85 608.11,208.61 608.15,191.72 608.18,201.66 608.22,195.84 608.25,200.49 608.29,194.12 608.33,194.23 608.36,196.77 608.4,207.19" fill="none" stroke="#ff0000" stroke-width="1.1" stroke-linejoin="round" clip-path="url(#cd2)"/>
<polyline points="362.5,159.42 362.7,153.74 362.9,150.27 363.1,150.21 363.3,150.16 363.5,150.11 363.7,150.06 363.9,150.01 364.1,149.96 364.3,149.92 364.5,149.88 364.7,149.84 364.9,149.8 365.1,149.77 365.3,149.73 365.5,149.7 365.7,149.66 365.9,149.63 366.1,149.59 366.3,149.56 366.5,149.53 366.7,149.5 366.9,149.46 367.1,149.43 367.3,149.39 367.5,149.36 367.7,149.32 367.9,149.29 368.1,149.25 368.3,149.21 368.5,149.17 368.7,149.12 368.9,149.08 369.1,149.04 369.3,148.99 369.5,148.95 369.7,148.91 369.9,148.86 370.1,148.82 370.3,148.77 370.5,148.73 370.7,148.68 370.9,148.63 371.1,148.59 371.3,148.54 371.5,148.49 371.7,148.44 371.9,148.39 372.1,148.34 372.3,148.29 372.5,148.24 372.7,148.18 372.9,148.13 373.1,148.07 373.3,148.01 373.5,147.95 373.7,147.89 373.9,147.83 374.1,147.77 374.3,147.7 374.5,147.64 374.7,147.57 374.9,147.5 375.1,147.42 375.3,147.34 375.5,147.26 375.7,147.17 375.9,147.08 376.1,146.98 376.3,146.88 376.5,146.77 376.7,146.66 376.9,146.55 377.1,146.44 377.3,146.32 377.5,146.2 377.7,146.08 377.9,145.95 378.1,145.83 378.3,145.7 378.5,145.57 378.7,145.43 378.9,145.3 379.1,145.17 379.3,145.03 379.5,144.89 379.7,144.76 379.9,144.62 380.1,144.48 380.3,144.34 380.5,144.2 380.7,144.06 380.9,143.91 381.1,143.77 381.3,143.63 381.5,143.49 381.7,143.34 381.9,143.2 382.1,143.05 382.3,142.91 382.5,142.76 382.7,142.62 382.9,142.47 383.1,142.32 383.3,142.17 383.5,142.02 383.7,141.85 383.9,141.69 384.1,141.51 384.3,141.33 384.5,141.14 384.7,140.95 384.9,140.75 385.1,140.53 385.3,140.31 385.5,140.08 385.7,139.85 385.9,139.6 386.1,139.33 386.3,139.06 386.5,138.77 386.7,138.47 386.9,138.16 387.1,137.83 387.3,137.48 387.5,137.11 387.7,136.72 387.9,136.31 388.1,135.88 388.3,135.42 388.5,134.93 388.7,134.41 388.9,133.86 389.1,133.27 389.3,132.63 389.5,131.95 389.7,131.21 389.9,130.41 390.1,129.54 390.3,128.59 390.5,127.54 390.7,126.37 390.9,125.07 391.1,123.61 391.3,121.93 391.5,119.98 391.7,117.66 391.9,114.81 392.1,111.16 392.3,106.1 392.5,97.93 392.7,75.04 392.75,44.78 392.9,95.73 393.1,107.14 393.3,113.23 393.5,117.37 393.7,120.49 393.9,122.98 394.1,125.03 394.3,126.77 394.5,128.27 394.7,129.59 394.9,130.75 395.1,131.8 395.3,132.74 395.5,133.59 395.7,134.37 395.9,135.08 396.1,135.74 396.3,136.34 396.5,136.9 396.7,137.43 396.9,137.91 397.1,138.37 397.3,138.8 397.5,139.2 397.7,139.58 397.9,139.93 398.1,140.27 398.3,140.59 398.5,140.89 398.7,141.18 398.9,141.45 399.1,141.71 399.3,141.96 399.5,142.19 399.7,142.42 399.9,142.63 400.1,142.84 400.3,143.05 400.5,143.25 400.7,143.46 400.9,143.67 401.1,143.87 401.3,144.08 401.5,144.29 401.7,144.49 401.9,144.7 402.1,144.91 402.3,145.12 402.5,145.33 402.7,145.53 402.9,145.74 403.1,145.94 403.3,146.15 403.5,146.35 403.7,146.54 403.9,146.74 404.1,146.93 404.3,147.12 404.5,147.3 404.7,147.48 404.9,147.65 405.1,147.81 405.3,147.98 405.5,148.14 405.7,148.29 405.9,148.45 406.1,148.6 406.3,148.76 406.5,148.91 406.7,149.06 406.9,149.2 407.1,149.35 407.3,149.5 407.5,149.64 407.7,149.79 407.9,149.93 408.1,150.08 408.3,150.22 408.5,150.36 408.7,150.51 408.9,150.65 409.1,150.79 409.3,150.94 409.5,151.08 409.7,151.23 409.9,151.38 410.1,151.53 410.3,151.68 410.5,151.83 410.7,152 410.9,152.16 411.1,152.32 411.3,152.49 411.5,152.66 411.7,152.83 411.9,153 412.1,153.17 412.3,153.34 412.5,153.51 412.7,153.67 412.9,153.84 413.1,154 413.3,154.16 413.5,154.31 413.7,154.46 413.9,154.61 414.1,154.75 414.3,154.88 414.5,155.01 414.7,155.14 414.9,155.25 415.1,155.36 415.3,155.46 415.5,155.57 415.7,155.67 415.9,155.77 416.1,155.87 416.3,155.97 416.5,156.07 416.7,156.16 416.9,156.26 417.1,156.35 417.3,156.44 417.5,156.53 417.7,156.62 417.9,156.71 418.1,156.8 418.3,156.88 418.5,156.97 418.7,157.05 418.9,157.13 419.1,157.21 419.3,157.29 419.5,157.37 419.7,157.45 419.9,157.53 420.1,157.6 420.3,157.68 420.5,157.75 420.7,157.82 420.9,157.89 421.1,157.97 421.3,158.04 421.5,158.1 421.7,158.17 421.9,158.24 422.1,158.31 422.3,158.37 422.5,158.44 422.7,158.5 422.9,158.57 423.1,158.63 423.3,158.69 423.5,158.76 423.7,158.82 423.9,158.88 424.1,158.94 424.3,159 424.5,159.06 424.7,159.11 424.9,159.17 425.1,159.23 425.3,159.29 425.5,159.34 425.7,159.4 425.9,159.45 426.1,159.5 426.3,159.56 426.5,159.61 426.7,159.66 426.9,159.71 427.1,159.76 427.3,159.8 427.5,159.85 427.7,159.9 427.9,159.95 428.1,159.99 428.3,160.04 428.5,160.08 428.7,160.13 428.9,160.17 429.1,160.21 429.3,160.26 429.5,160.3 429.7,160.34 429.9,160.38 430.1,160.43 430.3,160.47 430.5,160.51 430.7,160.55 430.9,160.59 431.1,160.63 431.3,160.67 431.5,160.71 431.7,160.75 431.9,160.79 432.1,160.83 432.3,160.87 432.5,160.91 432.7,160.95 432.9,160.99 433.1,161.03 433.3,161.07 433.5,161.11 433.7,161.15 433.9,161.19 434.1,161.24 434.3,161.28 434.5,161.32 434.7,161.36 434.9,161.4 435.1,161.45 435.3,161.49 435.5,161.53 435.7,161.58 435.9,161.62 436.1,161.66 436.3,161.71 436.5,161.76 436.7,161.8 436.9,161.85 437.1,161.9 437.3,161.95 437.5,162 437.7,162.05 437.9,162.11 438.1,162.16 438.3,162.21 438.5,162.27 438.7,162.32 438.9,162.38 439.1,162.44 439.3,162.49 439.5,162.55 439.7,162.6 439.9,162.66 440.1,162.71 440.3,162.77 440.5,162.82 440.7,162.88 440.9,162.93 441.1,162.99 441.3,163.04 441.5,163.09 441.7,163.14 441.9,163.19 442.1,163.24 442.3,163.29 442.5,163.34 442.7,163.38 442.9,163.43 443.1,163.47 443.3,163.51 443.5,163.55 443.7,163.58 443.9,163.62 444.1,163.65 444.3,163.68 444.5,163.71 444.7,163.73 444.9,163.75 445.1,163.77 445.3,163.78 445.5,163.8 445.7,163.81 445.9,163.82 446.1,163.82 446.3,163.82 446.5,163.82 446.7,163.82 446.9,163.81 447.1,163.79 447.3,163.77 447.5,163.74 447.7,163.71 447.9,163.67 448.1,163.62 448.3,163.56 448.5,163.48 448.7,163.4 448.9,163.3 449.1,163.18 449.3,163.04 449.5,162.87 449.7,162.67 449.9,162.44 450.1,162.17 450.3,161.84 450.5,161.45 450.7,160.99 450.9,160.43 451.1,159.76 451.3,158.93 451.5,157.92 451.7,156.67 451.9,155.1 452.1,153.11 452.3,150.56 452.5,147.19 452.7,142.61 452.9,135.98 453.1,125.13 453.3,99.03 453.36,85.77 453.5,113.39 453.7,130.26 453.9,138.97 454.1,144.65 454.3,148.7 454.5,151.75 454.7,154.1 454.9,155.95 455.1,157.44 455.3,158.65 455.5,159.64 455.7,160.47 455.9,161.16 456.1,161.75 456.3,162.25 456.5,162.68 456.7,163.06 456.9,163.38 457.1,163.67 457.3,163.93 457.5,164.15 457.7,164.36 457.9,164.54 458.1,164.7 458.3,164.85 458.5,164.99 458.7,165.12 458.9,165.23 459.1,165.34 459.3,165.44 459.5,165.53 459.7,165.62 459.9,165.7 460.1,165.77 460.3,165.84 460.5,165.91 460.7,165.97 460.9,166.03 461.1,166.09 461.3,166.14 461.5,166.19 461.7,166.24 461.9,166.28 462.1,166.33 462.3,166.37 462.5,166.41 462.7,166.45 462.9,166.49 463.1,166.52 463.3,166.56 463.5,166.59 463.7,166.63 463.9,166.66 464.1,166.69 464.3,166.72 464.5,166.75 464.7,166.78 464.9,166.81 465.1,166.84 465.3,166.87 465.5,166.89 465.7,166.92 465.9,166.95 466.1,166.98 466.3,167 466.5,167.03 466.7,167.06 466.9,167.09 467.1,167.11 467.3,167.14 467.5,167.17 467.7,167.2 467.9,167.23 468.1,167.26 468.3,167.29 468.5,167.32 468.7,167.35 468.9,167.38 469.1,167.41 469.3,167.44 469.5,167.48 469.7,167.51 469.9,167.55 470.1,167.58 470.3,167.62 470.5,167.65 470.7,167.69 470.9,167.73 471.1,167.77 471.3,167.8 471.5,167.84 471.7,167.88 471.9,167.92 472.1,167.96 472.3,168 472.5,168.04 472.7,168.08 472.9,168.12 473.1,168.16 473.3,168.2 473.5,168.24 473.7,168.28 473.9,168.32 474.1,168.36 474.3,168.4 474.5,168.44 474.7,168.48 474.9,168.52 475.1,168.56 475.3,168.6 475.5,168.65 475.7,168.69 475.9,168.72 476.1,168.76 476.3,168.8 476.5,168.84 476.7,168.88 476.9,168.92 477.1,168.96 477.3,169 477.5,169.03 477.7,169.07 477.9,169.11 478.1,169.14 478.3,169.18 478.5,169.21 478.7,169.25 478.9,169.28 479.1,169.31 479.3,169.34 479.5,169.38 479.7,169.41 479.9,169.44 480.1,169.47 480.3,169.49 480.5,169.52 480.7,169.55 480.9,169.57 481.1,169.6 481.3,169.62 481.5,169.65 481.7,169.67 481.9,169.69 482.1,169.71 482.3,169.73 482.5,169.75 482.7,169.77 482.9,169.79 483.1,169.81 483.3,169.83 483.5,169.85 483.7,169.87 483.9,169.89 484.1,169.9 484.3,169.92 484.5,169.94 484.7,169.96 484.9,169.98 485.1,170 485.3,170.02 485.5,170.04 485.7,170.05 485.9,170.07 486.1,170.09 486.3,170.11 486.5,170.13 486.7,170.14 486.9,170.16 487.1,170.18 487.3,170.2 487.5,170.22 487.7,170.23 487.9,170.25 488.1,170.27 488.3,170.28 488.5,170.3 488.7,170.32 488.9,170.33 489.1,170.35 489.3,170.36 489.5,170.38 489.7,170.4 489.9,170.41 490.1,170.43 490.3,170.44 490.5,170.46 490.7,170.47 490.9,170.49 491.1,170.5 491.3,170.51 491.5,170.53 491.7,170.54 491.9,170.56 492.1,170.57 492.3,170.58 492.5,170.59 492.7,170.61 492.9,170.62 493.1,170.63 493.3,170.64 493.5,170.66 493.7,170.67 493.9,170.68 494.1,170.69 494.3,170.7 494.5,170.71 494.7,170.72 494.9,170.73 495.1,170.74 495.3,170.75 495.5,170.76 495.7,170.77 495.9,170.78 496.1,170.79 496.3,170.79 496.5,170.8 496.7,170.81 496.9,170.82 497.1,170.82 497.3,170.83 497.5,170.84 497.7,170.84 497.9,170.85 498.1,170.85 498.3,170.86 498.5,170.86 498.7,170.87 498.9,170.87 499.1,170.87 499.3,170.88 499.5,170.88 499.7,170.88 499.9,170.89 500.1,170.89 500.3,170.89 500.5,170.89 500.7,170.89 500.9,170.9 501.1,170.9 501.3,170.9 501.5,170.9 501.7,170.9 501.9,170.9 502.1,170.9 502.3,170.9 502.5,170.9 502.7,170.9 502.9,170.9 503.1,170.9 503.3,170.9 503.5,170.9 503.7,170.9 503.9,170.9 504.1,170.9 504.3,170.9 504.5,170.9 504.7,170.9 504.9,170.9 505.1,170.89 505.3,170.89 505.5,170.89 505.7,170.89 505.9,170.89 506.1,170.89 506.3,170.89 506.5,170.89 506.7,170.89 506.9,170.89 507.1,170.88 507.3,170.88 507.5,170.88 507.7,170.88 507.9,170.88 508.1,170.88 508.3,170.88 508.5,170.87 508.7,170.87 508.9,170.87 509.1,170.87 509.3,170.86 509.5,170.86 509.7,170.85 509.9,170.85 510.1,170.84 510.3,170.83 510.5,170.82 510.7,170.8 510.9,170.79 511.1,170.76 511.3,170.73 511.5,170.69 511.7,170.64 511.9,170.57 512.1,170.47 512.3,170.33 512.5,170.13 512.7,169.82 512.9,170.19 513.1,171.76 513.3,171.33 513.5,165.9 513.7,150.97 513.85,116.17 513.9,130.91 513.97,147.12 514.04,154.83 514.1,160.24 514.16,164.31 514.22,167.53 514.29,170.13 514.35,172.28 514.41,174.08 514.47,175.6 514.54,176.9 514.6,178.01 514.66,178.97 514.72,179.81 514.79,180.53 514.85,181.15 514.91,181.69 514.97,182.14 515.04,182.52 515.1,182.83 515.16,183.07 515.22,183.25 515.29,183.38 515.35,183.45 515.41,183.48 515.47,183.47 515.54,183.43 515.6,183.39 515.66,183.32 515.72,183.21 515.79,183.07 515.85,182.89 515.91,182.68 515.97,182.45 516.04,182.18 516.1,181.89 516.16,181.58 516.22,181.26 516.29,180.92 516.35,180.57 516.41,180.23 516.47,179.88 516.54,179.55 516.6,179.23 516.66,178.94 516.72,178.67 516.79,178.44 516.85,178.23 516.91,178.02 516.97,177.83 517.04,177.63 517.1,177.44 517.16,177.25 517.22,177.07 517.29,176.9 517.35,176.73 517.41,176.57 517.47,176.42 517.54,176.27 517.6,176.13 517.66,176 517.72,175.88 517.79,175.77 517.85,175.66 517.91,175.57 517.97,175.48 518.04,175.41 518.1,175.34 518.16,175.27 518.22,175.2 518.29,175.13 518.35,175.07 518.41,175.01 518.47,174.95 518.54,174.9 518.6,174.84 518.66,174.79 518.72,174.75 518.79,174.7 518.85,174.66 518.91,174.63 518.97,174.59 519.04,174.57 519.1,174.54 519.16,174.52 519.22,174.51 519.29,174.49 519.35,174.48 519.41,174.47 519.47,174.46 519.54,174.45 519.6,174.44 519.66,174.44 519.72,174.43 519.79,174.42 519.85,174.41 519.91,174.4 519.97,174.39 520.04,174.38 520.1,174.38 520.16,174.37 520.22,174.36 520.29,174.35 520.35,174.35 520.41,174.34 520.47,174.33 520.54,174.33 520.6,174.32 520.66,174.32 520.72,174.31 520.79,174.31 520.85,174.3 520.91,174.3 520.97,174.29 521.04,174.29 521.1,174.29 521.16,174.28 521.22,174.28 521.29,174.28 521.35,174.27 521.41,174.27 521.47,174.27 521.54,174.27 521.6,174.27 521.66,174.27 521.72,174.26 521.79,174.26 521.85,174.26 521.91,174.26 521.97,174.26 522.04,174.26 522.1,174.26 522.16,174.27 522.22,174.27 522.29,174.27 522.35,174.27 522.41,174.27 522.47,174.27 522.54,174.28 522.6,174.28 522.66,174.28 522.72,174.28 522.79,174.28 522.85,174.29 522.91,174.29 522.97,174.29 523.04,174.29 523.1,174.29 523.16,174.3 523.22,174.3 523.29,174.3 523.35,174.3 523.41,174.3 523.47,174.3 523.54,174.31 523.6,174.31 523.66,174.31 523.72,174.31 523.79,174.31 523.85,174.32 523.91,174.32 523.97,174.32 524.04,174.32 524.1,174.32 524.16,174.32 524.22,174.33 524.29,174.33 524.35,174.33 524.41,174.33 524.47,174.33 524.54,174.33 524.6,174.34 524.66,174.34 524.72,174.34 524.79,174.34 524.85,174.34 524.91,174.34 524.97,174.35 525.04,174.35 525.1,174.35 525.16,174.35 525.22,174.35 525.29,174.35 525.35,174.36 525.41,174.36 525.47,174.36 525.54,174.36 525.6,174.36 525.66,174.36 525.72,174.37 525.79,174.37 525.85,174.37 525.91,174.37 525.97,174.37 526.02,174.37 526.04,174.37 526.1,174.38 526.16,174.38 526.22,174.38 526.29,174.38 526.35,174.38 526.41,174.38 526.47,174.39 526.54,174.39 526.6,174.39 526.66,174.39 526.72,174.39 526.79,174.39 526.85,174.4 526.91,174.4 526.97,174.4 527.04,174.4 527.1,174.4 527.16,174.4 527.22,174.4 527.29,174.41 527.35,174.41 527.41,174.41 527.47,174.41 527.54,174.41 527.6,174.41 527.66,174.42 527.72,174.42 527.79,174.42 527.85,174.42 527.91,174.42 527.97,174.42 528.04,174.42 528.1,174.43 528.16,174.43 528.22,174.43 528.29,174.43 528.35,174.43 528.41,174.43 528.47,174.43 528.54,174.44 528.6,174.44 528.66,174.44 528.72,174.44 528.79,174.44 528.85,174.44 528.91,174.45 528.97,174.45 529.04,174.45 529.1,174.45 529.16,174.45 529.22,174.45 529.29,174.45 529.35,174.46 529.41,174.46 529.47,174.46 529.54,174.46 529.6,174.46 529.66,174.46 529.72,174.46 529.79,174.47 529.85,174.47 529.91,174.47 529.97,174.47 530.04,174.47 530.1,174.47 530.16,174.47 530.22,174.48 530.29,174.48 530.35,174.48 530.41,174.48 530.47,174.48 530.54,174.48 530.6,174.49 530.66,174.49 530.72,174.49 530.79,174.49 530.85,174.49 530.91,174.49 530.97,174.49 531.04,174.5 531.1,174.5 531.16,174.5 531.22,174.5 531.29,174.5 531.35,174.5 531.41,174.5 531.47,174.51 531.54,174.51 531.6,174.51 531.66,174.51 531.72,174.51 531.79,174.51 531.85,174.51 531.91,174.52 531.97,174.52 532.04,174.52 532.1,174.52 532.16,174.52 532.22,174.52 532.29,174.52 532.35,174.53 532.41,174.53 532.47,174.53 532.54,174.53 532.6,174.53 532.66,174.53 532.72,174.53 532.79,174.54 532.85,174.54 532.91,174.54 532.97,174.54 533.04,174.54 533.1,174.54 533.16,174.54 533.22,174.55 533.29,174.55 533.35,174.55 533.41,174.55 533.47,174.55 533.54,174.55 533.6,174.55 533.66,174.56 533.72,174.56 533.79,174.56 533.85,174.56 533.91,174.56 533.97,174.56 534.04,174.56 534.1,174.57 534.16,174.57 534.22,174.57 534.29,174.57 534.35,174.57 534.41,174.57 534.47,174.57 534.54,174.58 534.6,174.58 534.66,174.58 534.72,174.58 534.79,174.58 534.85,174.58 534.91,174.58 534.97,174.58 535.04,174.59 535.1,174.59 535.16,174.59 535.22,174.59 535.29,174.59 535.35,174.59 535.41,174.59 535.47,174.6 535.54,174.6 535.6,174.6 535.66,174.6 535.72,174.6 535.79,174.6 535.85,174.6 535.91,174.61 535.97,174.61 536.04,174.61 536.1,174.61 536.16,174.61 536.22,174.61 536.29,174.61 536.35,174.62 536.41,174.62 536.47,174.62 536.54,174.62 536.6,174.62 536.66,174.62 536.72,174.62 536.79,174.63 536.85,174.63 536.91,174.63 536.97,174.63 537.04,174.63 537.1,174.63 537.16,174.63 537.22,174.64 537.29,174.64 537.35,174.64 537.41,174.64 537.47,174.64 537.54,174.64 537.6,174.64 537.66,174.65 537.72,174.65 537.79,174.65 537.85,174.65 537.91,174.65 537.97,174.65 538.04,174.65 538.1,174.66 538.16,174.66 538.22,174.66 538.29,174.66 538.35,174.66 538.41,174.66 538.47,174.66 538.54,174.67 538.6,174.67 538.66,174.67 538.72,174.67 538.79,174.67 538.85,174.67 538.91,174.67 538.97,174.68 539.04,174.68 539.1,174.68 539.16,174.68 539.22,174.68 539.29,174.68 539.35,174.68 539.41,174.69 539.47,174.69 539.54,174.69 539.6,174.69 539.66,174.69 539.72,174.69 539.79,174.69 539.85,174.7 539.91,174.7 539.97,174.7 540.04,174.7 540.1,174.7 540.16,174.7 540.22,174.7 540.29,174.71 540.35,174.71 540.41,174.71 540.47,174.71 540.54,174.71 540.6,174.71 540.66,174.71 540.72,174.72 540.79,174.72 540.85,174.72 540.91,174.72 540.97,174.72 541.04,174.72 541.1,174.72 541.16,174.73 541.22,174.73 541.29,174.73 541.35,174.73 541.41,174.73 541.47,174.73 541.54,174.73 541.6,174.74 541.66,174.74 541.72,174.74 541.79,174.74 541.85,174.74 541.91,174.74 541.97,174.75 542.04,174.75 542.1,174.75 542.16,174.75 542.22,174.75 542.29,174.75 542.35,174.75 542.41,174.76 542.47,174.76 542.54,174.76 542.6,174.76 542.66,174.76 542.72,174.76 542.79,174.76 542.85,174.77 542.91,174.77 542.97,174.77 543.04,174.77 543.1,174.77 543.16,174.77 543.22,174.77 543.29,174.78 543.35,174.78 543.41,174.78 543.47,174.78 543.54,174.78 543.6,174.78 543.66,174.79 543.72,174.79 543.79,174.79 543.85,174.79 543.91,174.79 543.97,174.79 544.04,174.79 544.1,174.8 544.16,174.8 544.22,174.8 544.29,174.8 544.35,174.8 544.41,174.8 544.47,174.8 544.54,174.81 544.6,174.81 544.66,174.81 544.72,174.81 544.79,174.81 544.85,174.81 544.91,174.82 544.97,174.82 545.04,174.82 545.1,174.82 545.16,174.82 545.22,174.82 545.29,174.82 545.35,174.83 545.41,174.83 545.47,174.83 545.54,174.83 545.6,174.83 545.66,174.83 545.72,174.84 545.79,174.84 545.85,174.84 545.91,174.84 545.97,174.84 546.04,174.84 546.1,174.84 546.16,174.85 546.22,174.85 546.29,174.85 546.35,174.85 546.41,174.85 546.47,174.85 546.54,174.86 546.6,174.86 546.66,174.86 546.72,174.86 546.79,174.86 546.85,174.86 546.91,174.87 546.97,174.87 547.04,174.87 547.1,174.87 547.16,174.87 547.22,174.87 547.29,174.87 547.35,174.88 547.41,174.88 547.47,174.88 547.54,174.88 547.6,174.88 547.66,174.88 547.72,174.89 547.79,174.89 547.85,174.89 547.91,174.89 547.97,174.89 548.04,174.89 548.1,174.9 548.16,174.9 548.22,174.9 548.29,174.9 548.35,174.9 548.41,174.9 548.47,174.91 548.54,174.91 548.6,174.91 548.66,174.91 548.72,174.91 548.79,174.91 548.85,174.92 548.91,174.92 548.97,174.92 549.04,174.92 549.1,174.92 549.16,174.92 549.22,174.93 549.29,174.93 549.35,174.93 549.41,174.93 549.47,174.93 549.54,174.93 549.6,174.94 549.66,174.94 549.72,174.94 549.79,174.94 549.85,174.94 549.91,174.94 549.97,174.95 550.04,174.95 550.1,174.95 550.16,174.95 550.22,174.95 550.29,174.95 550.35,174.96 550.41,174.96 550.47,174.96 550.54,174.96 550.6,174.96 550.66,174.96 550.72,174.97 550.79,174.97 550.85,174.97 550.91,174.97 550.97,174.97 551.04,174.97 551.1,174.98 551.16,174.98 551.22,174.98 551.29,174.98 551.35,174.98 551.41,174.98 551.47,174.99 551.54,174.99 551.6,174.99 551.66,174.99 551.72,174.99 551.79,174.99 551.85,175 551.91,175 551.97,175 552.04,175 552.1,175 552.16,175.01 552.22,175.01 552.29,175.01 552.35,175.01 552.41,175.01 552.47,175.01 552.54,175.02 552.6,175.02 552.66,175.02 552.72,175.02 552.79,175.02 552.85,175.02 552.91,175.03 552.97,175.03 553.04,175.03 553.1,175.03 553.16,175.03 553.22,175.04 553.29,175.04 553.35,175.04 553.41,175.04 553.47,175.04 553.54,175.04 553.6,175.05 553.66,175.05 553.72,175.05 553.79,175.05 553.85,175.05 553.91,175.06 553.97,175.06 554.04,175.06 554.1,175.06 554.16,175.06 554.22,175.07 554.29,175.07 554.35,175.07 554.41,175.07 554.47,175.07 554.54,175.07 554.6,175.08 554.66,175.08 554.72,175.08 554.79,175.08 554.85,175.08 554.91,175.09 554.97,175.09 555.04,175.09 555.1,175.09 555.16,175.09 555.22,175.09 555.29,175.1 555.35,175.1 555.41,175.1 555.47,175.1 555.54,175.1 555.6,175.11 555.66,175.11 555.72,175.11 555.79,175.11 555.85,175.11 555.91,175.12 555.97,175.12 556.04,175.12 556.1,175.12 556.16,175.12 556.22,175.13 556.29,175.13 556.35,175.13 556.41,175.13 556.47,175.13 556.54,175.14 556.6,175.14 556.66,175.14 556.72,175.14 556.79,175.14 556.85,175.15 556.91,175.15 556.97,175.15 557.04,175.15 557.1,175.15 557.16,175.16 557.22,175.16 557.29,175.16 557.35,175.16 557.41,175.16 557.47,175.17 557.54,175.17 557.6,175.17 557.66,175.17 557.72,175.17 557.79,175.18 557.85,175.18 557.91,175.18 557.97,175.18 558.04,175.18 558.1,175.19 558.16,175.19 558.22,175.19 558.29,175.19 558.35,175.19 558.41,175.2 558.47,175.2 558.54,175.2 558.6,175.2 558.66,175.2 558.72,175.21 558.79,175.21 558.85,175.21 558.91,175.21 558.97,175.21 559.04,175.22 559.1,175.22 559.16,175.22 559.22,175.22 559.29,175.22 559.35,175.23 559.41,175.23 559.47,175.23 559.54,175.23 559.6,175.24 559.66,175.24 559.72,175.24 559.79,175.24 559.85,175.24 559.91,175.25 559.97,175.25 560.04,175.25 560.1,175.25 560.16,175.25 560.22,175.26 560.29,175.26 560.35,175.26 560.41,175.26 560.47,175.27 560.54,175.27 560.6,175.27 560.66,175.27 560.72,175.27 560.79,175.28 560.85,175.28 560.91,175.28 560.97,175.28 561.04,175.28 561.1,175.29 561.16,175.29 561.22,175.29 561.29,175.29 561.35,175.3 561.41,175.3 561.47,175.3 561.54,175.3 561.6,175.3 561.66,175.31 561.72,175.31 561.79,175.31 561.85,175.31 561.91,175.32 561.97,175.32 562.04,175.32 562.1,175.32 562.16,175.33 562.22,175.33 562.29,175.33 562.35,175.33 562.41,175.33 562.47,175.34 562.54,175.34 562.6,175.34 562.66,175.34 562.72,175.35 562.79,175.35 562.85,175.35 562.91,175.35 562.97,175.35 563.04,175.36 563.1,175.36 563.16,175.36 563.22,175.36 563.29,175.37 563.35,175.37 563.41,175.37 563.47,175.37 563.54,175.38 563.6,175.38 563.66,175.38 563.72,175.38 563.79,175.39 563.85,175.39 563.91,175.39 563.97,175.39 564.04,175.39 564.1,175.4 564.16,175.4 564.22,175.4 564.29,175.4 564.35,175.41 564.41,175.41 564.47,175.41 564.54,175.41 564.6,175.42 564.66,175.42 564.72,175.42 564.79,175.42 564.85,175.43 564.91,175.43 564.97,175.43 565.04,175.43 565.1,175.44 565.16,175.44 565.22,175.44 565.29,175.44 565.35,175.45 565.41,175.45 565.47,175.45 565.54,175.45 565.6,175.45 565.66,175.46 565.72,175.46 565.79,175.46 565.85,175.46 565.91,175.47 565.97,175.47 566.04,175.47 566.1,175.47 566.16,175.48 566.22,175.48 566.29,175.48 566.35,175.48 566.41,175.49 566.47,175.49 566.54,175.49 566.6,175.49 566.66,175.5 566.72,175.5 566.79,175.5 566.85,175.5 566.91,175.51 566.97,175.51 567.04,175.51 567.1,175.51 567.16,175.52 567.22,175.52 567.29,175.52 567.35,175.52 567.41,175.53 567.47,175.53 567.54,175.53 567.6,175.54 567.66,175.54 567.72,175.54 567.79,175.54 567.85,175.55 567.91,175.55 567.97,175.55 568.04,175.55 568.1,175.56 568.16,175.56 568.22,175.56 568.29,175.56 568.35,175.57 568.41,175.57 568.47,175.57 568.54,175.57 568.6,175.58 568.66,175.58 568.72,175.58 568.79,175.58 568.85,175.59 568.91,175.59 568.97,175.59 569.04,175.59 569.1,175.6 569.16,175.6 569.22,175.6 569.29,175.6 569.35,175.61 569.41,175.61 569.47,175.61 569.54,175.61 569.6,175.62 569.66,175.62 569.72,175.62 569.79,175.62 569.85,175.63 569.91,175.63 569.97,175.63 570.04,175.63 570.1,175.64 570.16,175.64 570.22,175.64 570.29,175.64 570.35,175.65 570.41,175.65 570.47,175.65 570.54,175.65 570.6,175.66 570.66,175.66 570.72,175.66 570.79,175.66 570.85,175.66 570.91,175.67 570.97,175.67 571.04,175.67 571.1,175.67 571.16,175.67 571.22,175.68 571.29,175.68 571.35,175.68 571.41,175.68 571.47,175.68 571.54,175.69 571.6,175.69 571.66,175.69 571.72,175.69 571.79,175.69 571.85,175.69 571.91,175.69 571.97,175.69 572.04,175.69 572.1,175.69 572.16,175.7 572.22,175.7 572.29,175.69 572.35,175.69 572.41,175.69 572.47,175.69 572.54,175.69 572.6,175.69 572.66,175.69 572.72,175.68 572.79,175.68 572.85,175.67 572.91,175.67 572.97,175.66 573.04,175.65 573.1,175.65 573.16,175.63 573.22,175.62 573.29,175.6 573.35,175.58 573.41,175.56 573.47,175.53 573.54,175.5 573.6,175.45 573.66,175.4 573.72,175.33 573.79,175.24 573.85,175.13 573.91,174.97 573.97,174.75 574.04,174.44 574.1,173.97 574.16,173.24 574.22,172.01 574.29,169.76 574.35,165.25 574.41,155.33 574.47,143.84 574.47,144.43 574.54,158.9 574.6,166.85 574.66,170.54 574.72,172.44 574.79,173.5 574.85,174.15 574.91,174.58 574.97,174.86 575.04,175.07 575.1,175.22 575.16,175.34 575.22,175.43 575.29,175.5 575.35,175.55 575.41,175.6 575.47,175.64 575.54,175.67 575.6,175.7 575.66,175.73 575.72,175.75 575.79,175.77 575.85,175.79 575.91,175.8 575.97,175.82 576.04,175.83 576.1,175.84 576.16,175.85 576.22,175.86 576.29,175.87 576.35,175.88 576.41,175.89 576.43,175.89 576.47,175.9 576.5,175.9 576.54,175.9 576.58,175.91 576.61,175.91 576.65,175.92 576.68,175.92 576.72,175.92 576.75,175.93 576.79,175.93 576.83,175.93 576.86,175.94 576.9,175.94 576.93,175.94 576.97,175.95 577,175.95 577.04,175.95 577.08,175.96 577.11,175.96 577.15,175.96 577.18,175.97 577.22,175.97 577.25,175.97 577.29,175.98 577.33,175.98 577.36,175.98 577.4,175.98 577.43,175.99 577.47,175.99 577.5,175.99 577.54,175.99 577.58,176 577.61,176 577.65,176 577.68,176 577.72,176.01 577.75,176.01 577.79,176.01 577.83,176.01 577.86,176.02 577.9,176.02 577.93,176.02 577.97,176.02 578,176.03 578.04,176.03 578.08,176.03 578.11,176.03 578.15,176.04 578.18,176.04 578.22,176.04 578.25,176.04 578.29,176.05 578.33,176.05 578.36,176.05 578.4,176.05 578.43,176.06 578.47,176.06 578.5,176.06 578.54,176.06 578.58,176.07 578.61,176.07 578.65,176.07 578.68,176.07 578.72,176.07 578.75,176.08 578.79,176.08 578.83,176.08 578.86,176.08 578.9,176.09 578.93,176.09 578.97,176.09 579,176.09 579.04,176.09 579.08,176.1 579.11,176.1 579.15,176.1 579.18,176.1 579.22,176.11 579.25,176.11 579.29,176.11 579.33,176.11 579.36,176.11 579.4,176.12 579.43,176.12 579.47,176.12 579.5,176.12 579.54,176.13 579.58,176.13 579.61,176.13 579.65,176.13 579.68,176.13 579.72,176.14 579.75,176.14 579.79,176.14 579.83,176.14 579.86,176.15 579.9,176.15 579.93,176.15 579.97,176.15 580,176.15 580.04,176.16 580.08,176.16 580.11,176.16 580.15,176.16 580.18,176.17 580.22,176.17 580.25,176.17 580.29,176.17 580.33,176.17 580.36,176.18 580.4,176.18 580.43,176.18 580.47,176.18 580.5,176.18 580.54,176.19 580.58,176.19 580.61,176.19 580.65,176.19 580.68,176.2 580.72,176.2 580.75,176.2 580.79,176.2 580.83,176.2 580.86,176.21 580.9,176.21 580.93,176.21 580.97,176.21 581,176.21 581.04,176.22 581.08,176.22 581.11,176.22 581.15,176.22 581.18,176.23 581.22,176.23 581.25,176.23 581.29,176.23 581.33,176.23 581.36,176.24 581.4,176.24 581.43,176.24 581.47,176.24 581.5,176.25 581.54,176.25 581.58,176.25 581.61,176.25 581.65,176.25 581.68,176.26 581.72,176.26 581.75,176.26 581.79,176.26 581.83,176.26 581.86,176.27 581.9,176.27 581.93,176.27 581.97,176.27 582,176.27 582.04,176.28 582.08,176.28 582.11,176.28 582.15,176.28 582.18,176.29 582.22,176.29 582.25,176.29 582.29,176.29 582.33,176.29 582.36,176.3 582.4,176.3 582.43,176.3 582.47,176.3 582.5,176.3 582.54,176.31 582.58,176.31 582.61,176.31 582.65,176.31 582.68,176.31 582.72,176.32 582.75,176.32 582.79,176.32 582.83,176.32 582.86,176.32 582.9,176.33 582.93,176.33 582.97,176.33 583,176.33 583.04,176.33 583.08,176.34 583.11,176.34 583.15,176.34 583.18,176.34 583.22,176.34 583.25,176.35 583.29,176.35 583.33,176.35 583.36,176.35 583.4,176.35 583.43,176.36 583.47,176.36 583.5,176.36 583.54,176.36 583.58,176.36 583.61,176.36 583.65,176.37 583.68,176.37 583.72,176.37 583.75,176.37 583.79,176.37 583.83,176.37 583.86,176.38 583.9,176.38 583.93,176.38 583.97,176.38 584,176.38 584.04,176.38 584.08,176.39 584.11,176.39 584.15,176.39 584.18,176.39 584.22,176.39 584.25,176.39 584.29,176.39 584.33,176.39 584.36,176.4 584.4,176.4 584.43,176.4 584.47,176.4 584.5,176.4 584.54,176.4 584.58,176.4 584.61,176.4 584.65,176.4 584.68,176.4 584.72,176.4 584.75,176.4 584.79,176.4 584.83,176.4 584.86,176.4 584.9,176.4 584.93,176.4 584.97,176.4 585,176.4 585.04,176.4 585.08,176.4 585.11,176.4 585.15,176.4 585.18,176.4 585.22,176.39 585.25,176.39 585.29,176.39 585.33,176.39 585.36,176.38 585.4,176.38 585.43,176.38 585.47,176.37 585.5,176.37 585.54,176.36 585.58,176.35 585.61,176.35 585.65,176.34 585.68,176.33 585.72,176.32 585.75,176.31 585.79,176.3 585.83,176.28 585.86,176.27 585.9,176.25 585.93,176.23 585.97,176.21 586,176.18 586.04,176.15 586.08,176.12 586.11,176.08 586.15,176.04 586.18,175.99 586.22,175.93 586.25,175.87 586.29,175.79 586.33,175.69 586.36,175.58 586.4,175.45 586.43,175.29 586.47,175.09 586.5,174.85 586.54,174.54 586.58,174.15 586.61,173.66 586.65,173.02 586.68,172.18 586.72,171.11 586.75,169.75 586.79,168.14 586.83,166.49 586.86,165.29 586.88,165.05 586.9,165.14 586.93,166.13 586.97,167.74 587,169.39 587.04,170.82 587.08,171.97 587.11,172.86 587.15,173.54 587.18,174.08 587.22,174.49 587.25,174.82 587.29,175.09 587.33,175.3 587.36,175.48 587.4,175.62 587.43,175.74 587.47,175.84 587.5,175.93 587.54,176.01 587.58,176.07 587.61,176.13 587.65,176.18 587.68,176.22 587.72,176.26 587.75,176.29 587.79,176.33 587.83,176.35 587.86,176.38 587.9,176.4 587.93,176.42 587.97,176.44 588,176.46 588.04,176.48 588.08,176.49 588.11,176.51 588.15,176.52 588.18,176.53 588.22,176.55 588.25,176.56 588.29,176.57 588.33,176.58 588.36,176.59 588.4,176.6 588.43,176.6 588.47,176.61 588.5,176.62 588.54,176.63 588.58,176.64 588.61,176.64 588.65,176.65 588.68,176.66 588.72,176.66 588.75,176.67 588.79,176.67 588.83,176.68 588.86,176.68 588.9,176.69 588.93,176.7 588.97,176.7 589,176.71 589.04,176.71 589.08,176.71 589.11,176.72 589.15,176.72 589.18,176.73 589.22,176.73 589.25,176.74 589.29,176.74 589.33,176.75 589.36,176.75 589.4,176.75 589.43,176.76 589.47,176.76 589.5,176.77 589.54,176.77 589.58,176.77 589.61,176.78 589.65,176.78 589.68,176.79 589.72,176.79 589.75,176.79 589.79,176.8 589.83,176.8 589.86,176.8 589.9,176.81 589.93,176.81 589.97,176.81 590,176.82 590.04,176.82 590.08,176.82 590.11,176.83 590.15,176.83 590.18,176.83 590.22,176.84 590.25,176.84 590.29,176.84 590.33,176.85 590.36,176.85 590.4,176.85 590.43,176.86 590.47,176.86 590.5,176.86 590.54,176.87 590.58,176.87 590.61,176.87 590.65,176.88 590.68,176.88 590.72,176.88 590.75,176.89 590.79,176.89 590.83,176.89 590.86,176.9 590.9,176.9 590.93,176.9 590.97,176.91 591,176.91 591.04,176.91 591.08,176.92 591.11,176.92 591.15,176.92 591.18,176.92 591.22,176.93 591.25,176.93 591.29,176.93 591.33,176.94 591.36,176.94 591.4,176.94 591.43,176.95 591.47,176.95 591.5,176.95 591.54,176.96 591.58,176.96 591.61,176.96 591.65,176.96 591.68,176.97 591.72,176.97 591.75,176.97 591.79,176.98 591.83,176.98 591.86,176.98 591.9,176.99 591.93,176.99 591.97,176.99 592,177 592.04,177 592.08,177 592.11,177 592.15,177.01 592.18,177.01 592.22,177.01 592.25,177.02 592.29,177.02 592.33,177.02 592.36,177.03 592.4,177.03 592.43,177.03 592.47,177.03 592.5,177.04 592.54,177.04 592.58,177.04 592.61,177.05 592.65,177.05 592.68,177.05 592.72,177.06 592.75,177.06 592.79,177.06 592.83,177.07 592.86,177.07 592.9,177.07 592.93,177.07 592.97,177.08 593,177.08 593.04,177.08 593.08,177.09 593.11,177.09 593.15,177.09 593.18,177.1 593.22,177.1 593.25,177.1 593.29,177.1 593.33,177.11 593.36,177.11 593.4,177.11 593.43,177.12 593.47,177.12 593.5,177.12 593.54,177.13 593.58,177.13 593.61,177.13 593.65,177.14 593.68,177.14 593.72,177.14 593.75,177.14 593.79,177.15 593.83,177.15 593.86,177.15 593.9,177.16 593.93,177.16 593.97,177.16 594,177.17 594.04,177.17 594.08,177.17 594.11,177.18 594.15,177.18 594.18,177.18 594.22,177.19 594.25,177.19 594.29,177.19 594.33,177.19 594.36,177.2 594.4,177.2 594.43,177.2 594.47,177.21 594.5,177.21 594.54,177.21 594.58,177.22 594.61,177.22 594.65,177.22 594.68,177.23 594.72,177.23 594.75,177.23 594.79,177.23 594.83,177.24 594.86,177.24 594.9,177.24 594.93,177.25 594.97,177.25 595,177.25 595.04,177.26 595.08,177.26 595.11,177.26 595.15,177.27 595.18,177.27 595.22,177.27 595.25,177.28 595.29,177.28 595.33,177.28 595.36,177.29 595.4,177.29 595.43,177.29 595.47,177.29 595.5,177.3 595.54,177.3 595.58,177.3 595.61,177.31 595.65,177.31 595.68,177.31 595.72,177.32 595.75,177.32 595.79,177.32 595.83,177.33 595.86,177.33 595.9,177.33 595.93,177.34 595.97,177.34 596,177.34 596.04,177.35 596.08,177.35 596.11,177.35 596.15,177.36 596.18,177.36 596.22,177.36 596.25,177.36 596.29,177.37 596.33,177.37 596.36,177.37 596.4,177.38 596.43,177.38 596.47,177.38 596.5,177.39 596.54,177.39 596.58,177.39 596.61,177.4 596.65,177.4 596.68,177.4 596.72,177.41 596.75,177.41 596.79,177.41 596.83,177.42 596.86,177.42 596.9,177.42 596.93,177.43 596.97,177.43 597,177.43 597.04,177.44 597.08,177.44 597.11,177.44 597.15,177.45 597.18,177.45 597.22,177.45 597.25,177.46 597.29,177.46 597.33,177.46 597.36,177.47 597.4,177.47 597.43,177.47 597.47,177.48 597.5,177.48 597.54,177.48 597.58,177.49 597.61,177.49 597.65,177.49 597.68,177.5 597.72,177.5 597.75,177.5 597.79,177.51 597.83,177.51 597.86,177.51 597.9,177.52 597.93,177.52 597.97,177.52 598,177.53 598.04,177.53 598.08,177.53 598.11,177.54 598.15,177.54 598.18,177.54 598.22,177.55 598.25,177.55 598.29,177.55 598.33,177.56 598.36,177.56 598.4,177.56 598.43,177.57 598.47,177.57 598.5,177.57 598.54,177.58 598.58,177.58 598.61,177.58 598.65,177.59 598.68,177.59 598.72,177.59 598.75,177.6 598.79,177.6 598.83,177.6 598.86,177.61 598.9,177.61 598.93,177.61 598.97,177.62 599,177.62 599.04,177.62 599.08,177.63 599.11,177.63 599.15,177.63 599.18,177.64 599.22,177.64 599.25,177.64 599.29,177.65 599.33,177.65 599.36,177.65 599.4,177.66 599.43,177.66 599.47,177.66 599.5,177.67 599.54,177.67 599.58,177.67 599.61,177.68 599.65,177.68 599.68,177.69 599.72,177.69 599.75,177.69 599.79,177.7 599.83,177.7 599.86,177.7 599.9,177.71 599.93,177.71 599.97,177.71 600,177.72 600.04,177.72 600.08,177.72 600.11,177.73 600.15,177.73 600.18,177.73 600.22,177.74 600.25,177.74 600.29,177.74 600.33,177.75 600.36,177.75 600.4,177.75 600.43,177.76 600.47,177.76 600.5,177.77 600.54,177.77 600.58,177.77 600.61,177.78 600.65,177.78 600.68,177.78 600.72,177.79 600.75,177.79 600.79,177.79 600.83,177.8 600.86,177.8 600.9,177.8 600.93,177.81 600.97,177.81 601,177.81 601.04,177.82 601.08,177.82 601.11,177.83 601.15,177.83 601.18,177.83 601.22,177.84 601.25,177.84 601.29,177.84 601.33,177.85 601.36,177.85 601.4,177.85 601.43,177.86 601.47,177.86 601.5,177.86 601.54,177.87 601.58,177.87 601.61,177.88 601.65,177.88 601.68,177.88 601.72,177.89 601.75,177.89 601.79,177.89 601.83,177.9 601.86,177.9 601.9,177.9 601.93,177.91 601.97,177.91 602,177.92 602.04,177.92 602.08,177.92 602.11,177.93 602.15,177.93 602.18,177.93 602.22,177.94 602.25,177.94 602.29,177.94 602.33,177.95 602.36,177.95 602.4,177.96 602.43,177.96 602.47,177.96 602.5,177.97 602.54,177.97 602.58,177.97 602.61,177.98 602.65,177.98 602.68,177.99 602.72,177.99 602.75,177.99 602.79,178 602.83,178 602.86,178 602.9,178.01 602.93,178.01 602.97,178.01 603,178.02 603.04,178.02 603.08,178.03 603.11,178.03 603.15,178.03 603.18,178.04 603.22,178.04 603.25,178.04 603.29,178.05 603.33,178.05 603.36,178.06 603.4,178.06 603.43,178.06 603.47,178.07 603.5,178.07 603.54,178.07 603.58,178.08 603.61,178.08 603.65,178.09 603.68,178.09 603.72,178.09 603.75,178.1 603.79,178.1 603.83,178.1 603.86,178.11 603.9,178.11 603.93,178.12 603.97,178.12 604,178.12 604.04,178.13 604.08,178.13 604.11,178.13 604.15,178.14 604.18,178.14 604.22,178.15 604.25,178.15 604.29,178.15 604.33,178.16 604.36,178.16 604.4,178.17 604.43,178.17 604.47,178.17 604.5,178.18 604.54,178.18 604.58,178.18 604.61,178.19 604.65,178.19 604.68,178.2 604.72,178.2 604.75,178.2 604.79,178.21 604.83,178.21 604.86,178.22 604.9,178.22 604.93,178.22 604.97,178.23 605,178.23 605.04,178.23 605.08,178.24 605.11,178.24 605.15,178.25 605.18,178.25 605.22,178.25 605.25,178.26 605.29,178.26 605.33,178.27 605.36,178.27 605.4,178.27 605.43,178.28 605.47,178.28 605.5,178.28 605.54,178.29 605.58,178.29 605.61,178.3 605.65,178.3 605.68,178.3 605.72,178.31 605.75,178.31 605.79,178.32 605.83,178.32 605.86,178.32 605.9,178.33 605.93,178.33 605.97,178.34 606,178.34 606.04,178.34 606.08,178.35 606.11,178.35 606.15,178.36 606.18,178.36 606.22,178.36 606.25,178.37 606.29,178.37 606.33,178.38 606.36,178.38 606.4,178.38 606.43,178.39 606.47,178.39 606.5,178.4 606.54,178.4 606.58,178.4 606.61,178.41 606.65,178.41 606.68,178.42 606.72,178.42 606.75,178.42 606.79,178.43 606.83,178.43 606.86,178.44 606.9,178.44 606.93,178.44 606.97,178.45 607,178.45 607.04,178.46 607.08,178.46 607.11,178.46 607.15,178.47 607.18,178.47 607.22,178.48 607.25,178.48 607.29,178.48 607.33,178.49 607.36,178.49 607.4,178.5 607.43,178.5 607.47,178.5 607.5,178.51 607.54,178.51 607.58,178.52 607.61,178.52 607.65,178.52 607.68,178.53 607.72,178.53 607.75,178.54 607.79,178.54 607.83,178.55 607.86,178.55 607.9,178.55 607.93,178.56 607.97,178.56 608,178.57 608.04,178.57 608.08,178.57 608.11,178.58 608.15,178.58 608.18,178.59 608.22,178.59 608.25,178.59 608.29,178.6 608.33,178.6 608.36,178.61 608.4,178.61" fill="none" stroke="#0000ff" stroke-width="1.15" stroke-linejoin="round" clip-path="url(#cd2)"/>
<circle cx="392.75" cy="44.78" r="1.8" fill="#0000ff"/>
<text transform="translate(392.8,49.1) scale(1,1.0)" font-family='"Liberation Sans", sans-serif' font-size="13.35" text-anchor="start" stroke="#000" stroke-width="0.25">(0.246,2.93)</text>
<circle cx="453.36" cy="85.77" r="1.8" fill="#0000ff"/>
<text transform="translate(453.5,89.6) scale(1,1.0)" font-family='"Liberation Sans", sans-serif' font-size="13.35" text-anchor="start" stroke="#000" stroke-width="0.25">(0.739,0.0471)</text>
<rect x="558.1" y="38.75" width="37.9" height="30.55" fill="#fff" stroke="#111" stroke-width="1.0"/>
<line x1="558.7" y1="45.4" x2="582.6" y2="45.4" stroke="#ff0000" stroke-width="1.2"/>
<line x1="558.7" y1="60.6" x2="582.6" y2="60.6" stroke="#0000ff" stroke-width="1.2"/>
<text transform="translate(585.3,49.7) scale(1,1.1)" font-family='"Liberation Sans", sans-serif' font-size="10" text-anchor="start" stroke="#000" stroke-width="0.25" font-style="italic">p</text>
<text transform="translate(591.3,52.1) scale(1,1.1)" font-family='"Liberation Sans", sans-serif' font-size="6" text-anchor="start" stroke="#000" stroke-width="0.25">1</text>
<text transform="translate(585.3,64.7) scale(1,1.1)" font-family='"Liberation Sans", sans-serif' font-size="10" text-anchor="start" stroke="#000" stroke-width="0.25" font-style="italic">q</text>
<text transform="translate(591.3,67.1) scale(1,1.1)" font-family='"Liberation Sans", sans-serif' font-size="6" text-anchor="start" stroke="#000" stroke-width="0.25">1</text>
<rect x="362.5" y="32.6" width="245.9" height="182.8" fill="none" stroke="#111" stroke-width="1.0"/>
<path d="M362.5,215.4v-3.5M362.5,32.6v3.5M423.98,215.4v-3.5M423.98,32.6v3.5M485.45,215.4v-3.5M485.45,32.6v3.5M546.92,215.4v-3.5M546.92,32.6v3.5M608.4,215.4v-3.5M608.4,32.6v3.5M362.5,32.6h3.5M608.4,32.6h-3.5M362.5,55.45h3.5M608.4,55.45h-3.5M362.5,78.3h3.5M608.4,78.3h-3.5M362.5,101.15h3.5M608.4,101.15h-3.5M362.5,124h3.5M608.4,124h-3.5M362.5,146.85h3.5M608.4,146.85h-3.5M362.5,169.7h3.5M608.4,169.7h-3.5M362.5,192.55h3.5M608.4,192.55h-3.5M362.5,215.4h3.5M608.4,215.4h-3.5" stroke="#111" stroke-width="1.0" fill="none"/>
<text transform="translate(362.5,231.2) scale(1,1.0)" font-family='"Liberation Sans", sans-serif' font-size="13" text-anchor="middle" stroke="#000" stroke-width="0.25">0.0</text>
<text transform="translate(423.98,231.2) scale(1,1.0)" font-family='"Liberation Sans", sans-serif' font-size="13" text-anchor="middle" stroke="#000" stroke-width="0.25">0.5</text>
<text transform="translate(485.45,231.2) scale(1,1.0)" font-family='"Liberation Sans", sans-serif' font-size="13" text-anchor="middle" stroke="#000" stroke-width="0.25">1.0</text>
<text transform="translate(546.92,231.2) scale(1,1.0)" font-family='"Liberation Sans", sans-serif' font-size="13" text-anchor="middle" stroke="#000" stroke-width="0.25">1.5</text>
<text transform="translate(608.4,231.2) scale(1,1.0)" font-family='"Liberation Sans", sans-serif' font-size="13" text-anchor="middle" stroke="#000" stroke-width="0.25">2.0</text>
<text transform="translate(357.9,36.9) scale(1,1.0)" font-family='"Liberation Sans", sans-serif' font-size="13" text-anchor="end" stroke="#000" stroke-width="0.25">10</text>
<text transform="translate(357.9,59.75) scale(1,1.0)" font-family='"Liberation Sans", sans-serif' font-size="13" text-anchor="end" stroke="#000" stroke-width="0.25">1</text>
<text transform="translate(357.9,82.6) scale(1,1.0)" font-family='"Liberation Sans", sans-serif' font-size="13" text-anchor="end" stroke="#000" stroke-width="0.25">0.1</text>
<text transform="translate(357.9,105.45) scale(1,1.0)" font-family='"Liberation Sans", sans-serif' font-size="13" text-anchor="end" stroke="#000" stroke-width="0.25">0.01</text>
<text transform="translate(357.9,128.3) scale(1,1.0)" font-family='"Liberation Sans", sans-serif' font-size="13" text-anchor="end" stroke="#000" stroke-width="0.25">0.001</text>
<text transform="translate(357.9,151.15) scale(1,1.0)" font-family='"Liberation Sans", sans-serif' font-size="13" text-anchor="end" stroke="#000" stroke-width="0.25">1E-4</text>
<text transform="translate(357.9,174) scale(1,1.0)" font-family='"Liberation Sans", sans-serif' font-size="13" text-anchor="end" stroke="#000" stroke-width="0.25">1E-5</text>
<text transform="translate(357.9,196.85) scale(1,1.0)" font-family='"Liberation Sans", sans-serif' font-size="13" text-anchor="end" stroke="#000" stroke-width="0.25">1E-6</text>
<text transform="translate(357.9,219.7) scale(1,1.0)" font-family='"Liberation Sans", sans-serif' font-size="13" text-anchor="end" stroke="#000" stroke-width="0.25">1E-7</text>
<text transform="translate(485.45,251.5) scale(1,1.0)" font-family='"Liberation Sans", sans-serif' font-size="13" text-anchor="middle" stroke="#000" stroke-width="0.25">Dimensionless frequency</text>
<text transform="translate(314,115.3) rotate(-90)" font-family='"Liberation Sans", sans-serif' font-size="13" text-anchor="middle" stroke="#000" stroke-width="0.25">P(f)</text>
<text transform="translate(303,21) scale(1,1.0)" font-family='"Liberation Sans", sans-serif' font-size="17.5" text-anchor="start" stroke="#000" stroke-width="0.25">(d2)</text>
<clipPath id="ce1"><rect x="38.4" y="316.6" width="245.9" height="191.1"/></clipPath>
<polyline points="38.4,430.56 38.65,428.17 38.9,425.34 39.15,422.15 39.4,418.67 39.65,415.02 39.9,411.29 40.15,407.58 40.4,404 40.65,400.64 40.9,397.61 41.15,394.97 41.4,392.81 41.65,391.19 41.9,390.14 42.15,389.71 42.4,389.89 42.65,390.7 42.9,392.09 43.15,394.05 43.4,396.5 43.65,399.39 43.9,402.62 44.15,406.13 44.4,409.8 44.65,413.53 44.9,417.23 45.15,420.79 45.4,424.1 45.65,427.09 45.9,429.66 46.15,431.75 46.4,433.3 46.65,434.26 46.9,434.6 47.15,434.33 47.4,433.44 47.65,431.96 47.9,429.94 48.15,427.42 48.4,424.48 48.65,421.2 48.9,417.67 49.15,413.98 49.4,410.24 49.65,406.56 49.9,403.03 50.15,399.76 50.4,396.82 50.65,394.31 50.9,392.3 51.15,390.83 51.4,389.96 51.65,389.7 51.9,390.06 52.15,391.03 52.4,392.59 52.65,394.68 52.9,397.27 53.15,400.26 53.4,403.58 53.65,407.14 53.9,410.84 54.15,414.58 54.4,418.24 54.65,421.74 54.9,424.98 55.15,427.85 55.4,430.3 55.65,432.24 55.9,433.62 56.15,434.41 56.4,434.59 56.65,434.14 56.9,433.09 57.15,431.45 57.4,429.28 57.65,426.64 57.9,423.59 58.15,420.23 58.4,416.65 58.65,412.94 58.9,409.2 59.15,405.55 59.4,402.09 59.65,398.9 59.9,396.08 60.15,393.7 60.4,391.83 60.65,390.53 60.9,389.82 61.15,389.74 61.4,390.27 61.65,391.41 61.9,393.12 62.15,395.36 62.4,398.07 62.65,401.16 62.9,404.56 63.15,408.17 63.4,411.89 63.65,415.61 63.9,419.25 64.15,422.68 64.4,425.82 64.65,428.59 64.9,430.9 65.15,432.69 65.4,433.91 65.65,434.53 65.9,434.53 66.15,433.91 66.4,432.69 66.65,430.9 66.9,428.59 67.15,425.82 67.4,422.68 67.65,419.25 67.9,415.61 68.15,411.89 68.4,408.17 68.65,404.56 68.9,401.16 69.15,398.07 69.4,395.36 69.65,393.12 69.9,391.41 70.15,390.27 70.4,389.74 70.65,389.82 70.9,390.53 71.15,391.83 71.4,393.7 71.65,396.08 71.9,398.9 72.15,402.09 72.4,405.55 72.65,409.2 72.9,412.94 73.15,416.65 73.4,420.23 73.65,423.59 73.9,426.64 74.15,429.28 74.4,431.45 74.65,433.09 74.9,434.14 75.15,434.59 75.4,434.41 75.65,433.62 75.9,432.24 76.15,430.3 76.4,427.85 76.65,424.98 76.9,421.74 77.15,418.24 77.4,414.58 77.65,410.84 77.9,407.14 78.15,403.58 78.4,400.26 78.65,397.27 78.9,394.68 79.15,392.59 79.4,391.03 79.65,390.06 79.9,389.7 80.15,389.96 80.4,390.83 80.65,392.3 80.9,394.31 81.15,396.82 81.4,399.76 81.65,403.03 81.9,406.56 82.15,410.24 82.4,413.98 82.65,417.67 82.9,421.2 83.15,424.48 83.4,427.42 83.65,429.94 83.9,431.96 84.15,433.44 84.4,434.33 84.65,434.6 84.9,434.26 85.15,433.3 85.4,431.75 85.65,429.66 85.9,427.09 86.15,424.1 86.4,420.79 86.65,417.23 86.9,413.53 87.15,409.8 87.4,406.13 87.65,402.62 87.9,399.39 88.15,396.5 88.4,394.05 88.65,392.09 88.9,390.7 89.15,389.89 89.4,389.71 89.65,390.14 89.9,391.19 90.15,392.81 90.4,394.97 90.65,397.61 90.9,400.64 91.15,404 91.4,407.58 91.65,411.29 91.9,415.02 92.15,418.67 92.4,422.15 92.65,425.34 92.9,428.17 93.15,430.56 93.4,432.44 93.65,433.75 93.9,434.47 94.15,434.57 94.4,434.05 94.65,432.92 94.9,431.22 95.15,428.99 95.4,426.29 95.65,423.2 95.9,419.81 96.15,416.2 96.4,412.49 96.65,408.76 96.9,405.13 97.15,401.69 97.4,398.54 97.65,395.77 97.9,393.45 98.15,391.65 98.4,390.41 98.65,389.78 98.9,389.77 99.15,390.37 99.4,391.58 99.65,393.36 99.9,395.66 100.15,398.42 100.4,401.55 100.65,404.98 100.9,408.61 101.15,412.34 101.4,416.06 101.65,419.67 101.9,423.07 102.15,426.18 102.4,428.89 102.65,431.14 102.9,432.86 103.15,434.01 103.4,434.56 103.65,434.48 103.9,433.79 104.15,432.5 104.4,430.64 104.65,428.28 104.9,425.46 105.15,422.28 105.4,418.82 105.65,415.17 105.9,411.44 106.15,407.73 106.4,404.14 106.65,400.77 106.9,397.72 107.15,395.07 107.4,392.89 107.65,391.24 107.9,390.17 108.15,389.71 108.4,389.88 108.65,390.65 108.9,392.03 109.15,393.96 109.4,396.39 109.65,399.26 109.9,402.49 110.15,405.98 110.4,409.65 110.65,413.38 110.9,417.08 111.15,420.65 111.4,423.98 111.65,426.98 111.9,429.57 112.15,431.68 112.4,433.24 112.65,434.23 112.9,434.6 113.15,434.35 113.4,433.49 113.65,432.03 113.9,430.03 114.15,427.53 114.4,424.61 114.65,421.34 114.9,417.81 115.15,414.13 115.4,410.39 115.65,406.71 115.9,403.17 116.15,399.88 116.4,396.93 116.65,394.41 116.9,392.37 117.15,390.88 117.4,389.98 117.65,389.7 117.9,390.03 118.15,390.98 118.4,392.51 118.65,394.59 118.9,397.15 119.15,400.13 119.4,403.44 119.65,407 119.9,410.69 120.15,414.43 120.4,418.1 120.65,421.61 120.9,424.85 121.15,427.75 121.4,430.21 121.65,432.17 121.9,433.58 122.15,434.4 122.4,434.59 122.65,434.17 122.9,433.14 123.15,431.53 123.4,429.38 123.65,426.75 123.9,423.72 124.15,420.37 124.4,416.79 124.65,413.08 124.9,409.35 125.15,405.7 125.4,402.22 125.65,399.02 125.9,396.18 126.15,393.78 126.4,391.9 126.65,390.57 126.9,389.84 127.15,389.73 127.4,390.24 127.65,391.35 127.9,393.04 128.15,395.26 128.4,397.95 128.65,401.03 128.9,404.42 129.15,408.02 129.4,411.74 129.65,415.47 129.9,419.1 130.15,422.55 130.4,425.7 130.65,428.48 130.9,430.81 131.15,432.62 131.4,433.87 131.65,434.51 131.9,434.54 132.15,433.94 132.4,432.75 132.65,430.98 132.9,428.69 133.15,425.94 133.4,422.81 133.65,419.39 133.9,415.76 134.15,412.04 134.4,408.32 134.65,404.7 134.9,401.29 135.15,398.18 135.4,395.46 135.65,393.2 135.9,391.47 136.15,390.3 136.4,389.75 136.65,389.81 136.9,390.49 137.15,391.77 137.4,393.61 137.65,395.97 137.9,398.78 138.15,401.95 138.4,405.41 138.65,409.06 138.9,412.79 139.15,416.5 139.4,420.09 139.65,423.46 139.9,426.52 140.15,429.18 140.4,431.37 140.65,433.03 140.9,434.11 141.15,434.58 141.4,434.43 141.65,433.67 141.9,432.31 142.15,430.39 142.4,427.96 142.65,425.1 142.9,421.88 143.15,418.39 143.4,414.73 143.65,410.99 143.9,407.29 144.15,403.72 144.4,400.39 144.65,397.38 144.9,394.78 145.15,392.66 145.4,391.08 145.65,390.09 145.9,389.7 146.15,389.94 146.4,390.79 146.65,392.23 146.9,394.22 147.15,396.71 147.4,399.63 147.65,402.9 147.9,406.42 148.15,410.1 148.4,413.83 148.65,417.52 148.9,421.06 149.15,424.36 149.4,427.31 149.65,429.85 149.9,431.89 150.15,433.39 150.4,434.31 150.65,434.6 150.9,434.28 151.15,433.35 151.4,431.82 151.65,429.76 151.9,427.2 152.15,424.23 152.4,420.92 152.65,417.38 152.9,413.68 153.15,409.95 153.4,406.27 153.65,402.76 153.9,399.51 154.15,396.61 154.4,394.13 154.65,392.16 154.9,390.74 155.15,389.92 155.4,389.7 155.65,390.11 155.9,391.13 156.15,392.74 156.4,394.87 156.65,397.49 156.9,400.52 157.15,403.86 157.4,407.44 157.65,411.14 157.9,414.87 158.15,418.53 158.4,422.01 158.65,425.22 158.9,428.07 159.15,430.47 159.4,432.37 159.65,433.71 159.9,434.45 160.15,434.58 160.4,434.08 160.65,432.98 160.9,431.3 161.15,429.09 161.4,426.41 161.65,423.33 161.9,419.95 162.15,416.35 162.4,412.64 162.65,408.91 162.9,405.27 163.15,401.82 163.4,398.66 163.65,395.87 163.9,393.53 164.15,391.71 164.4,390.45 164.65,389.79 164.9,389.76 165.15,390.34 165.4,391.53 165.65,393.28 165.9,395.56 166.15,398.3 166.4,401.42 166.65,404.84 166.9,408.46 167.15,412.19 167.4,415.91 167.65,419.53 167.9,422.94 168.15,426.06 168.4,428.79 168.65,431.06 168.9,432.8 169.15,433.98 169.4,434.55 169.65,434.5 169.9,433.83 170.15,432.56 170.4,430.73 170.65,428.38 170.9,425.58 171.15,422.41 171.4,418.96 171.65,415.32 171.9,411.59 172.15,407.87 172.4,404.28 172.65,400.9 172.9,397.83 173.15,395.16 173.4,392.96 173.65,391.3 173.9,390.2 174.15,389.72 174.4,389.86 174.65,390.61 174.9,391.96 175.15,393.87 175.4,396.29 175.65,399.14 175.9,402.35 176.15,405.84 176.4,409.5 176.65,413.23 176.9,416.94 177.15,420.51 177.4,423.85 177.65,426.86 177.9,429.47 178.15,431.6 178.4,433.19 178.65,434.2 178.9,434.6 179.15,434.37 179.4,433.54 179.65,432.1 179.9,430.12 180.15,427.64 180.4,424.73 180.65,421.47 180.9,417.96 181.15,414.28 181.4,410.54 181.65,406.85 181.9,403.31 182.15,400.01 182.4,397.04 182.65,394.5 182.9,392.44 183.15,390.93 183.4,390.01 183.65,389.7 183.9,390.01 184.15,390.93 184.4,392.44 184.65,394.5 184.9,397.04 185.15,400.01 185.4,403.31 185.65,406.85 185.9,410.54 186.15,414.28 186.4,417.96 186.65,421.47 186.9,424.73 187.15,427.64 187.4,430.12 187.65,432.1 187.9,433.54 188.15,434.37 188.4,434.6 188.65,434.2 188.9,433.19 189.15,431.6 189.4,429.47 189.65,426.86 189.9,423.85 190.15,420.51 190.4,416.94 190.65,413.23 190.9,409.5 191.15,405.84 191.4,402.35 191.65,399.14 191.9,396.29 192.15,393.87 192.4,391.96 192.65,390.61 192.9,389.86 193.15,389.72 193.4,390.2 193.65,391.3 193.9,392.96 194.15,395.16 194.4,397.83 194.65,400.9 194.9,404.28 195.15,407.87 195.4,411.59 195.65,415.32 195.9,418.96 196.15,422.41 196.4,425.58 196.65,428.38 196.9,430.73 197.15,432.56 197.4,433.83 197.65,434.5 197.9,434.55 198.15,433.98 198.4,432.8 198.65,431.06 198.9,428.79 199.15,426.06 199.4,422.94 199.65,419.53 199.9,415.91 200.15,412.19 200.4,408.46 200.65,404.84 200.9,401.42 201.15,398.3 201.4,395.56 201.65,393.28 201.9,391.53 202.15,390.34 202.4,389.76 202.65,389.79 202.9,390.45 203.15,391.71 203.4,393.53 203.65,395.87 203.9,398.66 204.15,401.82 204.4,405.27 204.65,408.91 204.9,412.64 205.15,416.35 205.4,419.95 205.65,423.33 205.9,426.41 206.15,429.09 206.4,431.3 206.65,432.98 206.9,434.08 207.15,434.58 207.4,434.45 207.65,433.71 207.9,432.37 208.15,430.47 208.4,428.07 208.65,425.22 208.9,422.01 209.15,418.53 209.4,414.87 209.65,411.14 209.9,407.44 210.15,403.86 210.4,400.52 210.65,397.49 210.9,394.87 211.15,392.74 211.4,391.13 211.65,390.11 211.9,389.7 212.15,389.92 212.4,390.74 212.65,392.16 212.9,394.13 213.15,396.61 213.4,399.51 213.65,402.76 213.9,406.27 214.15,409.95 214.4,413.68 214.65,417.38 214.9,420.92 215.15,424.23 215.4,427.2 215.65,429.76 215.9,431.82 216.15,433.35 216.4,434.28 216.65,434.6 216.9,434.31 217.15,433.39 217.4,431.89 217.65,429.85 217.9,427.31 218.15,424.36 218.4,421.06 218.65,417.52 218.9,413.83 219.15,410.1 219.4,406.42 219.65,402.9 219.9,399.63 220.15,396.71 220.4,394.22 220.65,392.23 220.9,390.79 221.15,389.94 221.4,389.7 221.65,390.09 221.9,391.08 222.15,392.66 222.4,394.78 222.65,397.38 222.9,400.39 223.15,403.72 223.4,407.29 223.65,410.99 223.9,414.73 224.15,418.39 224.4,421.88 224.65,425.1 224.9,427.96 225.15,430.39 225.4,432.31 225.65,433.67 225.9,434.43 226.15,434.58 226.4,434.11 226.65,433.03 226.9,431.37 227.15,429.18 227.4,426.52 227.65,423.46 227.9,420.09 228.15,416.5 228.4,412.79 228.65,409.06 228.9,405.41 229.15,401.95 229.4,398.78 229.65,395.97 229.9,393.61 230.15,391.77 230.4,390.49 230.65,389.81 230.9,389.75 231.15,390.3 231.4,391.47 231.65,393.2 231.9,395.46 232.15,398.18 232.4,401.29 232.65,404.7 232.9,408.32 233.15,412.04 233.4,415.76 233.65,419.39 233.9,422.81 234.15,425.94 234.4,428.69 234.65,430.98 234.9,432.75 235.15,433.94 235.4,434.54 235.65,434.51 235.9,433.87 236.15,432.62 236.4,430.81 236.65,428.48 236.9,425.7 237.15,422.55 237.4,419.1 237.65,415.47 237.9,411.74 238.15,408.02 238.4,404.42 238.65,401.03 238.9,397.95 239.15,395.26 239.4,393.04 239.65,391.35 239.9,390.24 240.15,389.73 240.4,389.84 240.65,390.57 240.9,391.9 241.15,393.78 241.4,396.18 241.65,399.02 241.9,402.22 242.15,405.7 242.4,409.35 242.65,413.08 242.9,416.79 243.15,420.37 243.4,423.72 243.65,426.75 243.9,429.38 244.15,431.53 244.4,433.14 244.65,434.17 244.9,434.59 245.15,434.4 245.4,433.58 245.65,432.17 245.9,430.21 246.15,427.75 246.4,424.85 246.65,421.61 246.9,418.1 247.15,414.43 247.4,410.69 247.65,407 247.9,403.44 248.15,400.13 248.4,397.15 248.65,394.59 248.9,392.51 249.15,390.98 249.4,390.03 249.65,389.7 249.9,389.98 250.15,390.88 250.4,392.37 250.65,394.41 250.9,396.93 251.15,399.88 251.4,403.17 251.65,406.71 251.9,410.39 252.15,414.13 252.4,417.81 252.65,421.34 252.9,424.61 253.15,427.53 253.4,430.03 253.65,432.03 253.9,433.49 254.15,434.35 254.4,434.6 254.65,434.23 254.9,433.24 255.15,431.68 255.4,429.57 255.65,426.98 255.9,423.98 256.15,420.65 256.4,417.08 256.65,413.38 256.9,409.65 257.15,405.98 257.4,402.49 257.65,399.26 257.9,396.39 258.15,393.96 258.4,392.03 258.65,390.65 258.9,389.88 259.15,389.71 259.4,390.17 259.65,391.24 259.9,392.89 260.15,395.07 260.4,397.72 260.65,400.77 260.9,404.14 261.15,407.73 261.4,411.44 261.65,415.17 261.9,418.82 262.15,422.28 262.4,425.46 262.65,428.28 262.9,430.64 263.15,432.5 263.4,433.79 263.65,434.48 263.9,434.56 264.15,434.01 264.4,432.86 264.65,431.14 264.9,428.89 265.15,426.18 265.4,423.07 265.65,419.67 265.9,416.06 266.15,412.34 266.4,408.61 266.65,404.98 266.9,401.55 267.15,398.42 267.4,395.66 267.65,393.36 267.9,391.58 268.15,390.37 268.4,389.77 268.65,389.78 268.9,390.41 269.15,391.65 269.4,393.45 269.65,395.77 269.9,398.54 270.15,401.69 270.4,405.13 270.65,408.76 270.9,412.49 271.15,416.2 271.4,419.81 271.65,423.2 271.9,426.29 272.15,428.99 272.4,431.22 272.65,432.92 272.9,434.05 273.15,434.57 273.4,434.47 273.65,433.75 273.9,432.44 274.15,430.56 274.4,428.17 274.65,425.34 274.9,422.15 275.15,418.67 275.4,415.02 275.65,411.29 275.9,407.58 276.15,404 276.4,400.64 276.65,397.61 276.9,394.97 277.15,392.81 277.4,391.19 277.65,390.14 277.9,389.71 278.15,389.89 278.4,390.7 278.65,392.09 278.9,394.05 279.15,396.5 279.4,399.39 279.65,402.62 279.9,406.13 280.15,409.8 280.4,413.53 280.65,417.23 280.9,420.79 281.15,424.1 281.4,427.09 281.65,429.66 281.9,431.75 282.15,433.3 282.4,434.26 282.65,434.6 282.9,434.33 283.15,433.44 283.4,431.96 283.65,429.94 283.9,427.42 284.15,424.48" fill="none" stroke="#ff0000" stroke-width="1.0" stroke-linejoin="round" clip-path="url(#ce1)"/>
<polyline points="38.4,478.73 38.65,473.87 38.9,467.29 39.15,459.19 39.4,449.79 39.65,439.34 39.9,428.15 40.15,416.51 40.4,404.74 40.65,393.19 40.9,382.16 41.15,371.95 41.4,362.87 41.65,355.14 41.9,349 42.15,344.6 42.4,342.07 42.65,341.48 42.9,342.85 43.15,346.14 43.4,351.25 43.65,358.05 43.9,366.35 44.15,375.92 44.4,386.48 44.65,397.76 44.9,409.44 45.15,421.19 45.4,432.7 45.65,443.63 45.9,453.69 46.15,462.6 46.4,470.12 46.65,476.03 46.9,480.17 47.15,482.43 47.4,482.74 47.65,481.1 47.9,477.55 48.15,472.19 48.4,465.17 48.65,456.68 48.9,446.96 49.15,436.27 49.4,424.92 49.65,413.21 49.9,401.47 50.15,390.03 50.4,379.2 50.65,369.29 50.9,360.56 51.15,353.25 51.4,347.58 51.65,343.7 51.9,341.71 52.15,341.67 52.4,343.58 52.65,347.39 52.9,352.99 53.15,360.23 53.4,368.91 53.65,378.79 53.9,389.58 54.15,401.01 54.4,412.74 54.65,424.45 54.9,435.83 55.15,446.55 55.4,456.31 55.65,464.86 55.9,471.94 56.15,477.37 56.4,481 56.65,482.72 56.9,482.48 57.15,480.3 57.4,476.23 57.65,470.39 57.9,462.93 58.15,454.07 58.4,444.05 58.65,433.15 58.9,421.66 59.15,409.91 59.4,398.23 59.65,386.92 59.9,376.32 60.15,366.71 60.4,358.36 60.65,351.49 60.9,346.31 61.15,342.95 61.4,341.5 61.65,342.01 61.9,344.46 62.15,348.78 62.4,354.86 62.65,362.53 62.9,371.57 63.15,381.73 63.4,392.73 63.65,404.28 63.9,416.03 64.15,427.69 64.4,438.91 64.65,449.39 64.9,458.84 65.15,467 65.4,473.64 65.65,478.57 65.9,481.67 66.15,482.85 66.4,482.06 66.65,479.35 66.9,474.77 67.15,468.45 67.4,460.58 67.65,451.37 67.9,441.07 68.15,429.98 68.4,418.38 68.65,406.62 68.9,395.01 69.15,383.87 69.4,373.52 69.65,364.23 69.9,356.28 70.15,349.87 70.4,345.18 70.65,342.35 70.9,341.44 71.15,342.5 71.4,345.49 71.65,350.32 71.9,356.86 72.15,364.93 72.4,374.31 72.65,384.74 72.9,395.92 73.15,407.56 73.4,419.32 73.65,430.89 73.9,441.93 74.15,452.15 74.4,461.27 74.65,469.02 74.9,475.2 75.15,479.63 75.4,482.2 75.65,482.83 75.9,481.5 76.15,478.25 76.4,473.17 76.65,466.4 76.9,458.13 77.15,448.59 77.4,438.03 77.65,426.77 77.9,415.09 78.15,403.34 78.4,391.83 78.65,380.88 78.9,370.8 79.15,361.86 79.4,354.32 79.65,348.37 79.9,344.19 80.15,341.9 80.4,341.54 80.65,343.15 80.9,346.66 81.15,351.98 81.4,358.97 81.65,367.44 81.9,377.14 82.15,387.81 82.4,399.15 82.65,410.85 82.9,422.59 83.15,434.04 83.4,444.89 83.65,454.83 83.9,463.58 84.15,470.92 84.4,476.62 84.65,480.54 84.9,482.57 85.15,482.65 85.4,480.78 85.65,477 85.9,471.43 86.15,464.23 86.4,455.57 86.65,445.72 86.9,434.94 87.15,423.52 87.4,411.8 87.65,400.08 87.9,388.69 88.15,377.96 88.4,368.17 88.65,359.6 88.9,352.48 89.15,347.02 89.4,343.36 89.65,341.6 89.9,341.8 90.15,343.94 90.4,347.97 90.65,353.78 90.9,361.2 91.15,370.04 91.4,380.04 91.65,390.93 91.9,402.41 92.15,414.15 92.4,425.84 92.65,437.16 92.9,447.78 93.15,457.41 93.4,465.79 93.65,472.69 93.9,477.91 94.15,481.31 94.4,482.79 94.65,482.32 94.9,479.91 95.15,475.62 95.4,469.57 95.65,461.94 95.9,452.93 96.15,442.78 96.4,431.79 96.65,420.26 96.9,408.5 97.15,396.84 97.4,385.61 97.65,375.11 97.9,365.64 98.15,357.45 98.4,350.78 98.65,345.81 98.9,342.67 99.15,341.46 99.4,342.2 99.65,344.88 99.9,349.42 100.15,355.7 100.4,363.55 100.65,372.73 100.9,383.01 101.15,394.1 101.4,405.68 101.65,417.45 101.9,429.06 102.15,440.21 102.4,450.58 102.65,459.89 102.9,467.88 103.15,474.32 103.4,479.05 103.65,481.92 103.9,482.86 104.15,481.84 104.4,478.89 104.65,474.1 104.9,467.59 105.15,459.54 105.4,450.19 105.65,439.78 105.9,428.6 106.15,416.98 106.4,405.21 106.65,393.64 106.9,382.58 107.15,372.34 107.4,363.2 107.65,355.42 107.9,349.21 108.15,344.74 108.4,342.13 108.65,341.47 108.9,342.76 109.15,345.97 109.4,351.01 109.65,357.75 109.9,365.99 110.15,375.51 110.4,386.05 110.65,397.3 110.9,408.97 111.15,420.73 111.4,432.25 111.65,443.21 111.9,453.31 112.15,462.27 112.4,469.85 112.65,475.83 112.9,480.04 113.15,482.38 113.4,482.77 113.65,481.21 113.9,477.73 114.15,472.44 114.4,465.48 114.65,457.05 114.9,447.37 115.15,436.71 115.4,425.38 115.65,413.68 115.9,401.94 116.15,390.48 116.4,379.62 116.65,369.66 116.9,360.88 117.15,353.52 117.4,347.77 117.65,343.82 117.9,341.75 118.15,341.63 118.4,343.47 118.65,347.2 118.9,352.74 119.15,359.92 119.4,368.54 119.65,378.37 119.9,389.14 120.15,400.54 120.4,412.27 120.65,423.99 120.9,435.38 121.15,446.13 121.4,455.95 121.65,464.54 121.9,471.69 122.15,477.19 122.4,480.89 122.65,482.68 122.9,482.53 123.15,480.42 123.4,476.43 123.65,470.65 123.9,463.26 124.15,454.45 124.4,444.47 124.65,433.6 124.9,422.13 125.15,410.38 125.4,398.69 125.65,387.37 125.9,376.73 126.15,367.07 126.4,358.66 126.65,351.74 126.9,346.48 127.15,343.04 127.4,341.52 127.65,341.95 127.9,344.33 128.15,348.58 128.4,354.59 128.65,362.19 128.9,371.18 129.15,381.3 129.4,392.28 129.65,403.81 129.9,415.56 130.15,427.23 130.4,438.47 130.65,448.99 130.9,458.49 131.15,466.7 131.4,473.4 131.65,478.41 131.9,481.59 132.15,482.84 132.4,482.13 132.65,479.49 132.9,474.98 133.15,468.74 133.4,460.93 133.65,451.76 133.9,441.5 134.15,430.43 134.4,418.85 134.65,407.09 134.9,395.47 135.15,384.3 135.4,373.91 135.65,364.58 135.9,356.57 136.15,350.09 136.4,345.33 136.65,342.42 136.9,341.44 137.15,342.42 137.4,345.33 137.65,350.09 137.9,356.57 138.15,364.58 138.4,373.91 138.65,384.3 138.9,395.47 139.15,407.09 139.4,418.85 139.65,430.43 139.9,441.5 140.15,451.76 140.4,460.93 140.65,468.74 140.9,474.98 141.15,479.49 141.4,482.13 141.65,482.84 141.9,481.59 142.15,478.41 142.4,473.4 142.65,466.7 142.9,458.49 143.15,448.99 143.4,438.47 143.65,427.23 143.9,415.56 144.15,403.81 144.4,392.28 144.65,381.3 144.9,371.18 145.15,362.19 145.4,354.59 145.65,348.58 145.9,344.33 146.15,341.95 146.4,341.52 146.65,343.04 146.9,346.48 147.15,351.74 147.4,358.66 147.65,367.07 147.9,376.73 148.15,387.37 148.4,398.69 148.65,410.38 148.9,422.13 149.15,433.6 149.4,444.47 149.65,454.45 149.9,463.26 150.15,470.65 150.4,476.43 150.65,480.42 150.9,482.53 151.15,482.68 151.4,480.89 151.65,477.19 151.9,471.69 152.15,464.54 152.4,455.95 152.65,446.13 152.9,435.38 153.15,423.99 153.4,412.27 153.65,400.54 153.9,389.14 154.15,378.37 154.4,368.54 154.65,359.92 154.9,352.74 155.15,347.2 155.4,343.47 155.65,341.63 155.9,341.75 156.15,343.82 156.4,347.77 156.65,353.52 156.9,360.88 157.15,369.66 157.4,379.62 157.65,390.48 157.9,401.94 158.15,413.68 158.4,425.38 158.65,436.71 158.9,447.37 159.15,457.05 159.4,465.48 159.65,472.44 159.9,477.73 160.15,481.21 160.4,482.77 160.65,482.38 160.9,480.04 161.15,475.83 161.4,469.85 161.65,462.27 161.9,453.31 162.15,443.21 162.4,432.25 162.65,420.73 162.9,408.97 163.15,397.3 163.4,386.05 163.65,375.51 163.9,365.99 164.15,357.75 164.4,351.01 164.65,345.97 164.9,342.76 165.15,341.47 165.4,342.13 165.65,344.74 165.9,349.21 166.15,355.42 166.4,363.2 166.65,372.34 166.9,382.58 167.15,393.64 167.4,405.21 167.65,416.98 167.9,428.6 168.15,439.78 168.4,450.19 168.65,459.54 168.9,467.59 169.15,474.1 169.4,478.89 169.65,481.84 169.9,482.86 170.15,481.92 170.4,479.05 170.65,474.32 170.9,467.88 171.15,459.89 171.4,450.58 171.65,440.21 171.9,429.06 172.15,417.45 172.4,405.68 172.65,394.1 172.9,383.01 173.15,372.73 173.4,363.55 173.65,355.7 173.9,349.42 174.15,344.88 174.4,342.2 174.65,341.46 174.9,342.67 175.15,345.81 175.4,350.78 175.65,357.45 175.9,365.64 176.15,375.11 176.4,385.61 176.65,396.84 176.9,408.5 177.15,420.26 177.4,431.79 177.65,442.78 177.9,452.93 178.15,461.94 178.4,469.57 178.65,475.62 178.9,479.91 179.15,482.32 179.4,482.79 179.65,481.31 179.9,477.91 180.15,472.69 180.4,465.79 180.65,457.41 180.9,447.78 181.15,437.16 181.4,425.84 181.65,414.15 181.9,402.41 182.15,390.93 182.4,380.04 182.65,370.04 182.9,361.2 183.15,353.78 183.4,347.97 183.65,343.94 183.9,341.8 184.15,341.6 184.4,343.36 184.65,347.02 184.9,352.48 185.15,359.6 185.4,368.17 185.65,377.96 185.9,388.69 186.15,400.08 186.4,411.8 186.65,423.52 186.9,434.94 187.15,445.72 187.4,455.57 187.65,464.23 187.9,471.43 188.15,477 188.4,480.78 188.65,482.65 188.9,482.57 189.15,480.54 189.4,476.62 189.65,470.92 189.9,463.58 190.15,454.83 190.4,444.89 190.65,434.04 190.9,422.59 191.15,410.85 191.4,399.15 191.65,387.81 191.9,377.14 192.15,367.44 192.4,358.97 192.65,351.98 192.9,346.66 193.15,343.15 193.4,341.54 193.65,341.9 193.9,344.19 194.15,348.37 194.4,354.32 194.65,361.86 194.9,370.8 195.15,380.88 195.4,391.83 195.65,403.34 195.9,415.09 196.15,426.77 196.4,438.03 196.65,448.59 196.9,458.13 197.15,466.4 197.4,473.17 197.65,478.25 197.9,481.5 198.15,482.83 198.4,482.2 198.65,479.63 198.9,475.2 199.15,469.02 199.4,461.27 199.65,452.15 199.9,441.93 200.15,430.89 200.4,419.32 200.65,407.56 200.9,395.92 201.15,384.74 201.4,374.31 201.65,364.93 201.9,356.86 202.15,350.32 202.4,345.49 202.65,342.5 202.9,341.44 203.15,342.35 203.4,345.18 203.65,349.87 203.9,356.28 204.15,364.23 204.4,373.52 204.65,383.87 204.9,395.01 205.15,406.62 205.4,418.38 205.65,429.98 205.9,441.07 206.15,451.37 206.4,460.58 206.65,468.45 206.9,474.77 207.15,479.35 207.4,482.06 207.65,482.85 207.9,481.67 208.15,478.57 208.4,473.64 208.65,467 208.9,458.84 209.15,449.39 209.4,438.91 209.65,427.69 209.9,416.03 210.15,404.28 210.4,392.73 210.65,381.73 210.9,371.57 211.15,362.53 211.4,354.86 211.65,348.78 211.9,344.46 212.15,342.01 212.4,341.5 212.65,342.95 212.9,346.31 213.15,351.49 213.4,358.36 213.65,366.71 213.9,376.32 214.15,386.92 214.4,398.23 214.65,409.91 214.9,421.66 215.15,433.15 215.4,444.05 215.65,454.07 215.9,462.93 216.15,470.39 216.4,476.23 216.65,480.3 216.9,482.48 217.15,482.72 217.4,481 217.65,477.37 217.9,471.94 218.15,464.86 218.4,456.31 218.65,446.55 218.9,435.83 219.15,424.45 219.4,412.74 219.65,401.01 219.9,389.58 220.15,378.79 220.4,368.91 220.65,360.23 220.9,352.99 221.15,347.39 221.4,343.58 221.65,341.67 221.9,341.71 222.15,343.7 222.4,347.58 222.65,353.25 222.9,360.56 223.15,369.29 223.4,379.2 223.65,390.03 223.9,401.47 224.15,413.21 224.4,424.92 224.65,436.27 224.9,446.96 225.15,456.68 225.4,465.17 225.65,472.19 225.9,477.55 226.15,481.1 226.4,482.74 226.65,482.43 226.9,480.17 227.15,476.03 227.4,470.12 227.65,462.6 227.9,453.69 228.15,443.63 228.4,432.7 228.65,421.19 228.9,409.44 229.15,397.76 229.4,386.48 229.65,375.92 229.9,366.35 230.15,358.05 230.4,351.25 230.65,346.14 230.9,342.85 231.15,341.48 231.4,342.07 231.65,344.6 231.9,349 232.15,355.14 232.4,362.87 232.65,371.95 232.9,382.16 233.15,393.19 233.4,404.74 233.65,416.51 233.9,428.15 234.15,439.34 234.4,449.79 234.65,459.19 234.9,467.29 235.15,473.87 235.4,478.73 235.65,481.76 235.9,482.85 236.15,481.99 236.4,479.2 236.65,474.55 236.9,468.17 237.15,460.24 237.4,450.98 237.65,440.64 237.9,429.52 238.15,417.91 238.4,406.15 238.65,394.55 238.9,383.44 239.15,373.12 239.4,363.89 239.65,355.99 239.9,349.64 240.15,345.03 240.4,342.27 240.65,341.45 240.9,342.58 241.15,345.64 241.4,350.55 241.65,357.15 241.9,365.28 242.15,374.71 242.4,385.17 242.65,396.38 242.9,408.03 243.15,419.79 243.4,431.34 243.65,442.36 243.9,452.54 244.15,461.6 244.4,469.3 244.65,475.41 244.9,479.77 245.15,482.26 245.4,482.81 245.65,481.4 245.9,478.08 246.15,472.93 246.4,466.1 246.65,457.77 246.9,448.18 247.15,437.6 247.4,426.31 247.65,414.62 247.9,402.87 248.15,391.38 248.4,380.46 248.65,370.42 248.9,361.53 249.15,354.05 249.4,348.17 249.65,344.07 249.9,341.84 250.15,341.57 250.4,343.25 250.65,346.84 250.9,352.23 251.15,359.29 251.4,367.8 251.65,377.55 251.9,388.25 252.15,399.61 252.4,411.33 252.65,423.06 252.9,434.49 253.15,445.31 253.4,455.2 253.65,463.91 253.9,471.18 254.15,476.81 254.4,480.66 254.65,482.61 254.9,482.61 255.15,480.66 255.4,476.81 255.65,471.18 255.9,463.91 256.15,455.2 256.4,445.31 256.65,434.49 256.9,423.06 257.15,411.33 257.4,399.61 257.65,388.25 257.9,377.55 258.15,367.8 258.4,359.29 258.65,352.23 258.9,346.84 259.15,343.25 259.4,341.57 259.65,341.84 259.9,344.07 260.15,348.17 260.4,354.05 260.65,361.53 260.9,370.42 261.15,380.46 261.4,391.38 261.65,402.87 261.9,414.62 262.15,426.31 262.4,437.6 262.65,448.18 262.9,457.77 263.15,466.1 263.4,472.93 263.65,478.08 263.9,481.4 264.15,482.81 264.4,482.26 264.65,479.77 264.9,475.41 265.15,469.3 265.4,461.6 265.65,452.54 265.9,442.36 266.15,431.34 266.4,419.79 266.65,408.03 266.9,396.38 267.15,385.17 267.4,374.71 267.65,365.28 267.9,357.15 268.15,350.55 268.4,345.64 268.65,342.58 268.9,341.45 269.15,342.27 269.4,345.03 269.65,349.64 269.9,355.99 270.15,363.89 270.4,373.12 270.65,383.44 270.9,394.55 271.15,406.15 271.4,417.91 271.65,429.52 271.9,440.64 272.15,450.98 272.4,460.24 272.65,468.17 272.9,474.55 273.15,479.2 273.4,481.99 273.65,482.85 273.9,481.76 274.15,478.73 274.4,473.87 274.65,467.29 274.9,459.19 275.15,449.79 275.4,439.34 275.65,428.15 275.9,416.51 276.15,404.74 276.4,393.19 276.65,382.16 276.9,371.95 277.15,362.87 277.4,355.14 277.65,349 277.9,344.6 278.15,342.07 278.4,341.48 278.65,342.85 278.9,346.14 279.15,351.25 279.4,358.05 279.65,366.35 279.9,375.92 280.15,386.48 280.4,397.76 280.65,409.44 280.9,421.19 281.15,432.7 281.4,443.63 281.65,453.69 281.9,462.6 282.15,470.12 282.4,476.03 282.65,480.17 282.9,482.43 283.15,482.74 283.4,481.1 283.65,477.55 283.9,472.19 284.15,465.17" fill="none" stroke="#0000ff" stroke-width="1.0" stroke-linejoin="round" clip-path="url(#ce1)"/>
<rect x="56.4" y="323.3" width="38.3" height="32" fill="#fff" stroke="#111" stroke-width="1.0"/>
<line x1="57.8" y1="330.5" x2="81.1" y2="330.5" stroke="#ff0000" stroke-width="1.2"/>
<line x1="57.8" y1="346" x2="81.1" y2="346" stroke="#0000ff" stroke-width="1.2"/>
<text transform="translate(84.4,334.9) scale(1,1.1)" font-family='"Liberation Sans", sans-serif' font-size="10" text-anchor="start" stroke="#000" stroke-width="0.25" font-style="italic">p</text>
<text transform="translate(89.9,337.3) scale(1,1.1)" font-family='"Liberation Sans", sans-serif' font-size="6" text-anchor="start" stroke="#000" stroke-width="0.25">1</text>
<text transform="translate(84.4,350.4) scale(1,1.1)" font-family='"Liberation Sans", sans-serif' font-size="10" text-anchor="start" stroke="#000" stroke-width="0.25" font-style="italic">q</text>
<text transform="translate(89.9,352.8) scale(1,1.1)" font-family='"Liberation Sans", sans-serif' font-size="6" text-anchor="start" stroke="#000" stroke-width="0.25">1</text>
<rect x="38.4" y="316.6" width="245.9" height="191.1" fill="none" stroke="#222" stroke-width="1.0"/>
<path d="M38.4,507.7v-3.5M38.4,316.6v3.5M99.88,507.7v-3.5M99.88,316.6v3.5M161.35,507.7v-3.5M161.35,316.6v3.5M222.83,507.7v-3.5M222.83,316.6v3.5M284.3,507.7v-3.5M284.3,316.6v3.5M38.4,316.6h3.5M284.3,316.6h-3.5M38.4,364.38h3.5M284.3,364.38h-3.5M38.4,412.15h3.5M284.3,412.15h-3.5M38.4,459.93h3.5M284.3,459.93h-3.5M38.4,507.7h3.5M284.3,507.7h-3.5" stroke="#222" stroke-width="1.0" fill="none"/>
<text transform="translate(38.4,523.1) scale(1,1.07)" font-family='"Liberation Sans", sans-serif' font-size="13" text-anchor="middle" stroke="#000" stroke-width="0.25">8.0k</text>
<text transform="translate(99.88,523.1) scale(1,1.07)" font-family='"Liberation Sans", sans-serif' font-size="13" text-anchor="middle" stroke="#000" stroke-width="0.25">8.5k</text>
<text transform="translate(161.35,523.1) scale(1,1.07)" font-family='"Liberation Sans", sans-serif' font-size="13" text-anchor="middle" stroke="#000" stroke-width="0.25">9.0k</text>
<text transform="translate(222.83,523.1) scale(1,1.07)" font-family='"Liberation Sans", sans-serif' font-size="13" text-anchor="middle" stroke="#000" stroke-width="0.25">9.5k</text>
<text transform="translate(284.3,523.1) scale(1,1.07)" font-family='"Liberation Sans", sans-serif' font-size="13" text-anchor="middle" stroke="#000" stroke-width="0.25">10.0k</text>
<text transform="translate(33.8,320.6) scale(1,1.07)" font-family='"Liberation Sans", sans-serif' font-size="13" text-anchor="end" stroke="#000" stroke-width="0.25">4</text>
<text transform="translate(33.8,368.38) scale(1,1.07)" font-family='"Liberation Sans", sans-serif' font-size="13" text-anchor="end" stroke="#000" stroke-width="0.25">2</text>
<text transform="translate(33.8,416.15) scale(1,1.07)" font-family='"Liberation Sans", sans-serif' font-size="13" text-anchor="end" stroke="#000" stroke-width="0.25">0</text>
<text transform="translate(33.8,463.93) scale(1,1.07)" font-family='"Liberation Sans", sans-serif' font-size="13" text-anchor="end" stroke="#000" stroke-width="0.25">-2</text>
<text transform="translate(33.8,511.7) scale(1,1.07)" font-family='"Liberation Sans", sans-serif' font-size="13" text-anchor="end" stroke="#000" stroke-width="0.25">-4</text>
<text transform="translate(99.2,546.2) scale(1,1.07)" font-family='"Liberation Sans", sans-serif' font-size="13.1" text-anchor="start" stroke="#000" stroke-width="0.25">Dimensionless time</text>
<text transform="translate(218.3,546.2) scale(1,1.07)" font-family='"Liberation Serif", serif' font-size="13.5" text-anchor="start" stroke="#000" stroke-width="0.25" font-style="italic">&#964;</text>
<text transform="translate(10.2,404.3) rotate(-90) scale(1.0369,1)" font-family='"Liberation Sans", sans-serif' font-size="13" text-anchor="middle" stroke="#000" stroke-width="0.25">Dimensionless displacement</text>
<text transform="translate(2.6,304.1) scale(1,1.0)" font-family='"Liberation Sans", sans-serif' font-size="17.5" text-anchor="start" stroke="#000" stroke-width="0.25">(e1)</text>
<clipPath id="ce2"><rect x="362.5" y="326.7" width="245.9" height="183.7"/></clipPath>
<polyline points="362.5,460.45 362.75,459.08 363,459.35 363.25,458.37 363.5,459.2 363.75,460.2 364,457.52 364.25,459.01 364.5,458.88 364.75,459.93 365,457.75 365.25,457.9 365.5,457.95 365.75,458.56 366,458.19 366.25,458.25 366.42,458.79 366.5,459.72 366.66,447.81 366.75,457.87 366.87,458.79 367,459.56 367.12,467.2 367.25,458.28 367.36,458.79 367.5,460.31 367.75,458.09 368,459.76 368.21,458.6 368.25,457.95 368.38,456.95 368.5,458.26 368.63,476.75 368.75,458.3 368.87,458.6 369,458.74 369.25,458.34 369.5,457.86 369.75,458.98 370,459.16 370.02,458.41 370.25,457.69 370.27,452.26 370.48,458.41 370.5,459.81 370.72,474.74 370.75,457.55 370.97,458.41 371,459.77 371.25,458.36 371.5,457.39 371.75,457.44 371.81,458.21 371.98,433.13 372,459.16 372.23,481.71 372.25,458.49 372.47,458.21 372.5,457.51 372.75,457.54 373,460.11 373.25,457.78 373.5,458.71 373.72,458.01 373.75,456.76 373.97,448.53 374,458.48 374.18,458.01 374.25,456.68 374.42,474.85 374.5,457.54 374.67,458.01 374.75,457.21 375,457.07 375.25,457.11 375.5,457.53 375.51,456.96 375.69,447.89 375.75,457.24 375.93,478.76 376,457.06 376.18,456.96 376.25,457.08 376.5,456.33 376.75,455.74 377,455.71 377.25,454.57 377.32,455.03 377.5,455.19 377.57,446.32 377.75,454.11 377.78,455.03 378,454.16 378.02,465.46 378.25,453.15 378.27,455.03 378.5,453.55 378.75,452.85 379,452.88 379.11,453.12 379.25,453.11 379.29,431.94 379.5,452.18 379.53,454.19 379.75,453.3 379.78,453.12 380,452.19 380.25,451.91 380.42,451.72 380.5,451.15 380.67,451.2 380.75,452.45 380.88,451.72 381,451.25 381.12,456.73 381.25,450.55 381.37,451.72 381.5,450.16 381.75,450.81 382,449.92 382.21,449.81 382.25,450.83 382.39,446.52 382.5,449.59 382.63,467.23 382.75,449.41 382.88,449.81 383,448.96 383.25,447.98 383.5,447.96 383.75,448 384,447.57 384.03,447.88 384.25,447.86 384.27,429.57 384.48,447.88 384.5,447.26 384.73,454.62 384.75,446.81 384.97,447.88 385,446.61 385.25,445.41 385.5,443.57 385.75,444.06 385.81,443.36 385.99,432.21 386,443.14 386.23,450.4 386.25,443.14 386.48,443.36 386.5,442.33 386.75,441.82 387,440.76 387.25,438.5 387.5,437.88 387.73,437.64 387.75,438.02 387.97,403.44 388,438.7 388.18,437.64 388.25,435.74 388.43,461.77 388.5,436.18 388.67,437.64 388.75,435.71 389,433.38 389.25,433.5 389.5,431.57 389.51,432.3 389.69,417.17 389.75,431.9 389.93,435.21 390,431.76 390.18,432.3 390.25,431.01 390.5,431.14 390.75,429.02 391,428.7 391.02,427.79 391.25,427.18 391.27,404.27 391.48,427.79 391.5,426.93 391.72,431.68 391.75,424.9 391.97,427.79 392,425.67 392.25,424.33 392.5,422.63 392.75,422.58 392.81,422.42 392.98,414.14 393,421.3 393.23,427 393.25,420.6 393.47,422.42 393.5,420.92 393.75,420.36 394,420.85 394.25,418.56 394.5,417.89 394.62,417.53 394.75,417.1 394.87,405.67 395,417.1 395.08,417.53 395.25,419.16 395.32,436.44 395.5,420.07 395.57,417.53 395.75,420.4 396,421.71 396.25,422.75 396.41,423.67 396.5,423.81 396.59,420.64 396.75,424.18 396.83,445.91 397,424.79 397.08,423.67 397.25,426.51 397.5,427.08 397.75,427.56 398,429.05 398.25,428.99 398.32,431.01 398.5,430.38 398.57,397.6 398.75,432.58 398.78,431.01 399,432.13 399.02,440.38 399.25,434.59 399.27,431.01 399.5,436.3 399.75,437.83 400,438.72 400.11,440.11 400.25,439.02 400.29,437.02 400.5,440.2 400.53,449.57 400.75,439.33 400.78,440.11 401,441.43 401.25,442.3 401.5,442.98 401.62,443.09 401.75,443.23 401.86,413.22 402,443.56 402.07,443.09 402.25,444.16 402.32,457.1 402.5,444.79 402.56,443.09 402.75,444.53 403,446.21 403.25,446.75 403.41,446.62 403.5,446.41 403.58,433.19 403.75,447.46 403.83,448.01 404,446.12 404.07,446.62 404.25,448.05 404.5,448.15 404.75,449.68 405,447.21 405.22,449.73 405.25,449.75 405.47,438.01 405.5,449.18 405.68,449.73 405.75,449.88 405.92,490.9 406,449.88 406.17,449.73 406.25,450.89 406.5,452.34 406.75,451.98 407,450.24 407.01,451.5 407.19,440.68 407.25,451.16 407.43,455.41 407.5,451.35 407.68,451.5 407.75,452.36 408,452.45 408.25,452.74 408.5,453.48 408.75,452.54 408.92,453.39 409,453.68 409.17,417.54 409.25,454.58 409.38,453.39 409.5,453.7 409.62,470.64 409.75,454.05 409.87,453.39 410,454.65 410.25,454.32 410.5,454.36 410.71,455.16 410.75,454.26 410.89,441.35 411,455.58 411.13,470.29 411.25,455.91 411.38,455.16 411.5,455.28 411.75,455.92 412,456.46 412.25,455.92 412.5,455.84 412.53,456.95 412.75,456.51 412.77,431.62 412.98,456.95 413,457.82 413.23,492.45 413.25,459.15 413.47,456.95 413.5,457.12 413.75,458.11 414,458.25 414.25,457.09 414.31,458.72 414.49,440.34 414.5,458.13 414.73,464.63 414.75,458.8 414.98,458.72 415,459.17 415.25,460.47 415.5,459.29 415.75,460.02 416,459.92 416.03,460.42 416.25,459.53 416.27,428.36 416.48,460.42 416.5,461.14 416.73,477.76 416.75,460.58 416.97,460.42 417,462.53 417.25,462.58 417.5,461.4 417.75,461.37 417.82,462.19 417.99,453.3 418,462.58 418.24,478.14 418.25,461.67 418.48,462.19 418.5,462.65 418.75,462.19 419,463.63 419.25,463.95 419.42,463.77 419.5,462.86 419.67,435.06 419.75,463.02 419.88,463.77 420,464.72 420.12,476.01 420.25,463.35 420.37,463.77 420.5,465.29 420.75,464.23 421,465.26 421.21,464.83 421.25,465.24 421.39,462.67 421.5,464.88 421.63,482.39 421.75,464.58 421.88,464.83 422,464.98 422.25,465.63 422.5,465.6 422.75,465.03 423,465.65 423.03,465.66 423.25,465.15 423.27,441.2 423.48,465.66 423.5,466.52 423.73,470.52 423.75,465.8 423.97,465.66 424,466.71 424.25,466.61 424.5,467.07 424.75,466.59 424.81,466.48 424.99,459.46 425,468.11 425.23,476.38 425.25,467.18 425.48,466.48 425.5,467.42 425.75,467.76 426,467.05 426.25,467.73 426.5,467.31 426.73,467.36 426.75,468.2 426.97,425.78 427,467.8 427.18,467.36 427.25,467.1 427.43,493.86 427.5,467.46 427.67,467.36 427.75,468.11 428,468.89 428.25,468.45 428.5,467.62 428.51,468.18 428.69,459.98 428.75,467.9 428.93,480.51 429,469.81 429.18,468.18 429.25,468.44 429.5,469.36 429.75,467.94 430,468.83 430.02,468.87 430.25,468.31 430.27,443.95 430.48,468.87 430.5,468.23 430.72,486.75 430.75,469.06 430.97,468.87 431,469.09 431.25,468.86 431.5,469.96 431.75,469.94 431.81,469.69 431.98,443.37 432,470.99 432.23,481.3 432.25,469.81 432.47,469.69 432.5,469.63 432.75,470.47 433,470.43 433.25,469.12 433.5,470.32 433.75,469.84 434,471.3 434.03,470.7 434.25,470.15 434.27,423.07 434.48,470.7 434.5,470.1 434.73,482.1 434.75,469.25 434.97,470.7 435,471.41 435.25,471.73 435.5,471.27 435.75,471.36 435.82,471.52 435.99,438.5 436,472.03 436.24,482.03 436.25,470.92 436.48,471.52 436.5,471.84 436.75,471.86 437,471.42 437.25,472.01 437.5,472.07 437.75,473.73 438,472.15 438.22,472.63 438.25,473.55 438.47,448.05 438.5,472.51 438.68,472.63 438.75,472.96 438.92,481.04 439,472.36 439.17,472.63 439.25,472.45 439.5,473.71 439.75,472.42 440,474.07 440.01,473.4 440.19,470.91 440.25,473.27 440.43,479.72 440.5,472.27 440.68,473.4 440.75,473.01 441,474.01 441.25,473.59 441.5,474.08 441.63,473.51 441.75,472.84 441.87,443.76 442,473.73 442.08,473.51 442.25,473.36 442.33,498.74 442.5,473.72 442.57,473.51 442.75,473.15 443,473.36 443.25,473.38 443.5,473.5 443.75,474.3 444,472.99 444.25,473.15 444.5,474.62 444.75,474.84 444.92,473.73 445,474.58 445.17,458.2 445.25,473.85 445.38,473.73 445.5,473.3 445.62,486.69 445.75,474.65 445.87,473.73 446,473.34 446.25,473.27 446.5,473.15 446.75,473.94 447,473.36 447.25,474.16 447.5,474.13 447.75,473.78 448,473.98 448.23,473.95 448.25,473.83 448.48,464.68 448.5,473.2 448.69,473.95 448.75,473.71 448.93,479.33 449,474.06 449.18,473.95 449.25,474.41 449.5,475.58 449.75,473.3 450,473.74 450.25,473.9 450.5,474.24 450.75,475.62 451,474.22 451.25,473.73 451.5,474.03 451.75,474.44 452,474.48 452.03,474.2 452.25,472.81 452.27,448.7 452.48,474.2 452.5,474.54 452.73,505.72 452.75,474.04 452.97,474.2 453,474.7 453.25,473.05 453.5,475.28 453.75,474.84 454,473.98 454.25,475.38 454.5,473.98 454.75,474.7 455,474.44 455.25,474.36 455.42,474.42 455.5,473.82 455.67,457.44 455.75,475.08 455.88,474.42 456,473.67 456.12,502.49 456.25,474.57 456.37,474.42 456.5,475.49 456.75,475.43 457,476.07 457.25,474.89 457.5,474.32 457.75,473.85 458,474.13 458.25,474.71 458.5,473.18 458.75,474.17 459,474.92 459.25,474.92 459.43,474.68 459.5,473.3 459.68,460.47 459.75,474.48 459.89,474.68 460,475.15 460.13,492.24 460.25,475.03 460.38,474.68 460.5,475.37 460.75,475.71 461,475.91 461.25,475.93 461.5,475.43 461.75,474.47 462,476.53 462.25,477.25 462.5,475.71 462.73,475.55 462.75,475.47 462.97,459.39 463,474.29 463.18,475.55 463.25,474.41 463.43,487.54 463.5,476.13 463.67,475.55 463.75,474.95 464,475.78 464.25,476.74 464.5,476.65 464.75,476.29 465,475.12 465.25,476.15 465.5,475.43 465.75,476.7 466,475.72 466.23,476.56 466.25,476.94 466.48,462.54 466.5,476.07 466.69,476.56 466.75,476.58 466.93,485.26 467,476.7 467.18,476.56 467.25,478.1 467.5,477.65 467.75,477.79 468,477.99 468.25,477.4 468.5,476.3 468.75,477.81 469,477.08 469.25,477 469.5,476.8 469.75,477.03 469.82,477.59 470,478.01 470.07,472.88 470.25,477.62 470.28,477.59 470.5,477.55 470.52,492.88 470.75,478.1 470.77,477.59 471,477.35 471.25,478.54 471.5,477.78 471.75,479.32 472,478.58 472.25,478.82 472.5,479.05 472.75,478.18 473,480.33 473.25,478.52 473.5,477.98 473.62,478.68 473.75,480.06 473.86,457.99 474,478.03 474.07,478.68 474.25,479.04 474.32,500.44 474.5,479.08 474.56,478.68 474.75,479.43 475,478.69 475.25,478.46 475.5,479.16 475.75,479.47 476,478.6 476.25,479.47 476.5,479.33 476.75,479.81 477,479.41 477.12,479.69 477.25,479.38 477.37,468.41 477.5,480.25 477.58,479.69 477.75,480.69 477.82,491.24 478,480.03 478.07,479.69 478.25,480.81 478.5,480.14 478.75,479.45 479,480.37 479.25,481.86 479.5,480.95 479.75,480.27 480,480.36 480.25,481.01 480.5,478.25 480.75,480.21 480.92,480.59 481,481.07 481.17,469.91 481.25,479.62 481.38,480.59 481.5,480.06 481.62,492.11 481.75,479.02 481.87,480.59 482,480.31 482.25,480.55 482.5,481.49 482.75,480.71 483,481.49 483.25,480.14 483.5,481.3 483.75,479.24 484,480.94 484.23,480.91 484.25,479.41 484.47,473.78 484.5,481.88 484.68,480.91 484.75,481.24 484.93,487.38 485,481.79 485.17,480.91 485.25,481.73 485.5,481.02 485.75,482.19 486,480.67 486.25,481.16 486.5,481.47 486.75,481.39 487,481.48 487.25,479.43 487.5,481.37 487.75,481.35 488,481.56 488.03,481.29 488.25,480.64 488.27,474.07 488.48,481.29 488.5,481.14 488.73,485.21 488.75,481.22 488.97,481.29 489,482.54 489.25,481.46 489.5,480.73 489.75,482 490,480.72 490.25,481.29 490.5,481.33 490.75,482.93 491,481.17 491.25,481.92 491.5,481.7 491.62,481.64 491.75,480.94 491.86,471.51 492,480.74 492.07,481.64 492.25,480.93 492.32,489.23 492.5,481.51 492.56,481.64 492.75,481.69 493,482 493.25,482.73 493.5,481.68 493.75,481.41 494,483.09 494.25,480.93 494.5,481.94 494.75,482.58 495,481.87 495.25,483.11 495.43,482.02 495.5,483.84 495.68,475.46 495.75,482.21 495.89,482.02 496,481.1 496.13,492.61 496.25,482.28 496.38,482.02 496.5,481.12 496.75,481.74 497,482.4 497.25,482.72 497.5,481.79 497.75,482.43 498,481.95 498.25,481.8 498.5,481.35 498.73,482.34 498.75,481.79 498.97,473.49 499,482.3 499.18,482.34 499.25,480.53 499.43,484.44 499.5,482.06 499.67,482.34 499.75,483.34 500,482.73 500.25,483.33 500.5,481.67 500.75,482.52 501,483.66 501.25,482.31 501.5,482.48 501.75,482.98 502,483.11 502.25,482.39 502.5,482.5 502.72,482.73 502.75,483.01 502.97,478.74 503,483.99 503.18,482.73 503.25,482.56 503.42,488.74 503.5,483.15 503.67,482.73 503.75,483.62 504,482.94 504.25,482.34 504.5,485.17 504.75,482.76 505,482.89 505.25,482.5 505.5,481.84 505.75,482.47 506,483.14 506.03,483.06 506.25,482.17 506.27,474.34 506.48,483.06 506.5,482.75 506.73,494.44 506.75,483.21 506.97,483.06 507,483.03 507.25,482.55 507.5,482.31 507.75,483.6 508,483.43 508.25,484.15 508.5,482.71 508.75,483.44 509,482.29 509.25,482.42 509.5,483.24 509.75,483.23 509.83,483.43 510,483.9 510.07,475.69 510.25,484.7 510.28,483.43 510.5,483.37 510.53,486.63 510.75,483.92 510.77,483.43 511,480.38 511.25,484.69 511.5,482.41 511.75,483.93 512,483.37 512.25,482.88 512.5,485.68 512.75,482.28 513,481.39 513.12,483.76 513.25,481.69 513.37,475.92 513.5,484.05 513.58,483.76 513.75,485.28 513.82,505.33 514,482.19 514.07,483.76 514.25,484.76 514.5,483.42 514.75,487.11 515,486.61 515.25,484.26 515.5,484.33 515.75,485.76 515.89,484.04 516,487.14 516.19,478.8 516.25,483.39 516.49,515.54 516.5,487.05 516.75,485.38 516.79,484.04 516.92,484.13 517,482.76 517.17,477.07 517.25,484.2 517.38,484.13 517.5,483.53 517.62,497.24 517.75,483.94 517.87,484.13 518,483.9 518.25,484.57 518.35,484.29 518.5,486.04 518.65,479.04 518.75,482.29 518.95,507.9 519,483.96 519.25,484.29 519.25,484.11 519.5,478.99 519.75,486.21 520,482.39 520.23,484.45 520.25,484.02 520.47,471.44 520.5,486.75 520.68,484.45 520.75,485.49 520.93,518.41 521,485.19 521.17,484.45 521.25,487.11 521.5,485.42 521.75,483.05 522,482.19 522.03,484.6 522.25,484.01 522.34,476.73 522.5,484.37 522.63,505.6 522.75,484.88 522.93,484.6 523,485.95 523.25,485.36 523.5,484.02 523.75,487.21 523.82,484.73 524,485.11 524.06,474.9 524.25,484.51 524.27,484.73 524.5,484.33 524.52,526.2 524.75,487.45 524.76,484.73 525,482.04 525.25,483.81 525.5,486.38 525.75,485.65 526,483.46 526.25,483.15 526.5,486.24 526.75,486.66 527,482.67 527.25,484.06 527.5,485.12 527.62,485.03 527.75,485.88 527.86,472.27 528,485.3 528.07,485.03 528.25,486.75 528.32,489.99 528.5,483.34 528.56,485.03 528.75,484.69 529,484.48 529.25,480.69 529.5,484.43 529.75,487.04 530,486.24 530.25,483.29 530.5,482.89 530.75,484.82 530.93,485.29 531,485.82 531.17,480.25 531.25,483.65 531.38,485.29 531.5,487.15 531.63,532.43 531.75,486.96 531.87,485.29 532,485.58 532.25,485.08 532.5,485.27 532.75,485.22 533,486.22 533.25,485.7 533.5,485.52 533.75,485.74 534,485.89 534.25,485.17 534.5,485.74 534.75,485.84 534.92,485.61 535,485.26 535.17,485.06 535.25,485.58 535.38,485.61 535.5,486.15 535.62,488.43 535.75,485.52 535.87,485.61 536,485.06 536.25,485.41 536.5,485.35 536.75,485.32 537,485.62 537.25,485.98 537.5,485.46 537.75,486.17 538,485.8 538.23,485.87 538.25,485.66 538.47,484.89 538.5,485.77 538.68,485.87 538.75,486 538.93,486.14 539,486.26 539.17,485.87 539.25,485.33 539.5,485.72 539.75,486.14 540,486.31 540.25,485.96 540.5,486 540.75,485.99 541,485.62 541.25,486.31 541.43,486.12 541.5,485.96 541.67,483.96 541.75,485.54 541.88,486.12 542,486.64 542.13,488.63 542.25,486.24 542.37,486.12 542.5,485.72 542.75,486.6 543,485.97 543.25,486.86 543.5,486.38 543.75,486.33 544,486.47 544.25,486.16 544.5,486.16 544.75,486.06 545,486.49 545.13,486.41 545.25,486.62 545.37,485.46 545.5,486.05 545.58,486.41 545.75,486.62 545.83,489.6 546,486.28 546.07,486.41 546.25,486.68 546.5,486.33 546.75,485.61 547,486.29 547.25,485.64 547.5,486.8 547.75,486.57 548,486.53 548.25,486.65 548.5,486.4 548.75,486.42 548.83,486.71 549,486.61 549.07,484.96 549.25,486.19 549.28,486.71 549.5,487 549.53,489.48 549.75,486.94 549.77,486.71 550,487.46 550.25,486.72 550.5,486.9 550.75,486.69 551,487.08 551.25,487.13 551.5,486.87 551.75,487.1 552,486.83 552.05,486.96 552.25,486.85 552.3,485.3 552.5,486.99 552.51,486.96 552.75,486.75 552.75,490.68 553,486.96 553,487.44 553.25,487.06 553.5,486.63 553.75,486.81 554,487.21 554.25,487.55 554.5,487.1 554.75,487.12 555,487.09 555.25,487.58 555.5,487.42 555.63,487.24 555.75,486.92 555.88,486.92 556,488.33 556.09,487.24 556.25,486.98 556.33,489.36 556.5,486.75 556.58,487.24 556.75,487.12 557,487.27 557.25,487.18 557.5,487.97 557.75,487.78 558,487.63 558.25,487.73 558.5,487.8 558.75,486.64 559,487.75 559.21,487.52 559.25,487.19 559.45,485.33 559.5,488.13 559.66,487.52 559.75,488.2 559.91,491.91 560,487.53 560.15,487.52 560.25,487.36 560.5,487.95 560.75,487.67 561,487.17 561.25,487.23 561.5,487.91 561.75,487.06 562,487.15 562.25,487.35 562.5,488.14 562.75,487.91 562.78,487.72 563,487.56 563.03,486.46 563.24,487.72 563.25,487.73 563.48,489.73 563.5,487.7 563.73,487.72 563.75,487.58 564,487.67 564.25,487.51 564.5,487.26 564.75,487.7 565,487.91 565.25,487.8 565.5,488.18 565.75,487.79 566,487.46 566.25,488.48 566.36,487.89 566.5,488.45 566.61,487.45 566.75,487.56 566.82,487.89 567,488.1 567.06,489.49 567.25,487.94 567.31,487.89 567.5,487.77 567.75,487.36 568,487.63 568.25,487.64 568.5,487.74 568.75,488.24 569,487.84 569.25,487.51 569.5,488.84 569.75,488.65 569.94,488.06 570,487.85 570.18,487.39 570.25,488.42 570.39,488.06 570.5,488.16 570.64,491.18 570.75,487.98 570.88,488.06 571,487.54 571.25,488.1 571.5,488.03 571.75,487.7 572,488.36 572.25,488.59 572.5,487.74 572.75,488.86 573,488.69 573.25,488.59 573.5,487.96 573.51,488.24 573.75,487.96 573.76,486.3 573.97,488.24 574,488.06 574.21,490.11 574.25,487.9 574.46,488.24 574.5,488.51 574.75,488.34 575,488.47 575.25,488.28 575.5,488.3 575.75,488.69 576,488.22 576.25,488.15 576.5,488.12 576.75,488.42 577,488.31 577.09,488.41 577.25,488.49 577.34,487.51 577.5,488.99 577.55,488.41 577.75,488.03 577.79,492.46 578,488.03 578.04,488.41 578.25,488.74 578.5,488.54 578.75,488.39 579,488.33 579.25,488.45 579.33,488.53 579.5,488.51 579.63,474.88 579.75,488.43 579.93,499.02 580,488.99 580.23,488.53 580.25,488.46 580.5,488.62 580.67,488.59 580.75,487.91 580.91,486.27 581,488.03 581.12,488.59 581.25,488.45 581.37,490.93 581.5,489.16 581.61,488.59 581.75,486.97 582,490.15 582.25,485.92 582.5,489.05 582.75,488.37 583,490.3 583.25,489.98 583.5,485.24 583.75,487.57 584,489.13 584.24,488.76 584.25,486.68 584.49,485.78 584.5,488.98 584.7,488.76 584.75,488.18 584.94,491.87 585,487.99 585.19,488.76 585.25,485.18 585.5,489.03 585.75,488.21 586,488.45 586.25,486.1 586.5,490.75 586.58,488.88 586.75,490.25 586.88,449.52 587,489.99 587.18,511.19 587.25,486.73 587.48,488.88 587.5,491.57 587.75,486.72 587.82,488.94 588,491.58 588.07,486.74 588.25,488.54 588.28,488.94 588.5,486.92 588.52,491.7 588.75,487.55 588.77,488.94 589,489.83 589.25,488.83 589.5,489.7 589.66,489.03 589.75,488.82 589.96,483.78 590,491.18 590.25,485.03 590.26,504.78 590.5,491.01 590.56,489.03 590.75,489.51 591,491.21 591.25,489.25 591.4,489.11 591.5,491.14 591.64,487.3 591.75,486.99 591.85,489.11 592,490.15 592.1,496.94 592.12,489.15 592.25,489.6 592.34,489.11 592.42,483.9 592.5,487.01 592.72,502.27 592.75,489.83 593,487.16 593.02,489.15 593.22,489.21 593.25,488.64 593.5,490.45 593.52,465.59 593.75,490.25 593.82,502.33 594,488.2 594.12,489.21 594.25,487.73 594.5,487.68 594.75,486.8 594.97,489.28 595,487.8 595.22,484.94 595.25,488.07 595.43,489.28 595.5,489.58 595.67,493.12 595.75,489.23 595.92,489.28 596,491.1 596.25,490.23 596.5,489.22 596.75,489.89 597,492.69 597.25,491.41 597.5,486.57 597.75,491.61 598,486.98 598.25,488.66 598.5,488.21 598.55,489.46 598.75,488.16 598.8,485.68 599,490.17 599.01,489.46 599.25,490.81 599.25,494.9 599.5,489.46 599.5,490.29 599.75,488.06 600,491.36 600.25,489.29 600.5,488.89 600.75,488.47 601,488.7 601.25,491.91 601.5,486.12 601.75,490.58 602,488.22 602.13,489.63 602.25,489.66 602.37,488.42 602.5,489.83 602.58,489.63 602.75,490.55 602.83,493.88 603,486.8 603.07,489.63 603.25,490.2 603.5,491.83 603.75,491.97 604,490.7 604.25,487.67 604.5,490.27 604.75,489.48 605,487.61 605.25,488.15 605.5,488 605.7,489.81 605.75,488.49 605.95,487.29 606,489.58 606.16,489.81 606.25,489.26 606.4,492.69 606.5,488.76 606.65,489.81 606.75,489.26 607,489.52 607.25,490.62 607.5,491.37 607.75,490.18 608,491.17 608.25,492.48" fill="none" stroke="#ff0000" stroke-width="0.85" stroke-linejoin="round" clip-path="url(#ce2)"/>
<polyline points="362.5,459.69 363,459.03 363.5,459.26 364,458.74 364.5,458.86 365,458.79 365.5,458.85 366,458.5 366.5,458.89 367,459.01 367.5,458.6 368,459.37 368.5,458.68 369,458.47 369.5,458.59 370,458.08 370.5,458.18 371,458.29 371.5,458.37 372,457.91 372.5,458.34 373,458.22 373.5,457.85 374,457.84 374.5,457.39 375,457.75 375.5,457.67 376,456.45 376.5,455.75 377,455.6 377.5,454.6 378,454.01 378.5,454.14 379,453.55 379.5,453.23 380,452.21 380.5,451.63 381,451.13 381.5,451.09 382,450.43 382.5,450.08 383,449.59 383.5,448.99 384,448.52 384.5,447.6 385,446.2 385.5,444.65 386,443.33 386.5,442.01 387,440.34 387.5,438.69 388,437.43 388.5,435.84 389,434.44 389.5,433.01 390,431.36 390.5,430.18 391,428.1 391.5,427.3 392,425.26 392.5,424.25 393,421.97 393.5,420.64 394,419.6 394.5,418 395,418.53 395.5,419.95 396,421.54 396.5,422.68 397,425.45 397.5,426.46 398,428.67 398.5,430.93 399,433.62 399.5,436.55 400,439.43 400.5,440.59 401,441.52 401.5,442.47 402,443.17 402.5,444.88 403,445.6 403.5,446.79 404,447.7 404.5,448.64 405,449.04 405.5,449.25 406,449.96 406.5,451.14 407,451.29 407.5,452.11 408,452.18 408.5,452.45 409,453.13 409.5,453.55 410,454.32 410.5,455.31 411,455.81 411.5,455.79 412,456.1 412.5,456.41 413,457.34 413.5,457.72 414,458.17 414.5,458.45 415,459.25 415.5,460.02 416,459.92 416.5,460.6 417,461.1 417.5,462.04 418,462.2 418.5,463.15 419,463.72 419.5,463.74 420,464.29 420.5,464.27 421,464.26 421.5,464.89 422,464.63 422.5,465.5 423,465.36 423.5,466.14 424,465.99 424.5,466.34 425,466.54 425.5,466.56 426,467.45 426.5,467.14 427,467.62 427.5,467.6 428,467.75 428.5,468.19 429,468.42 429.5,468.86 430,468.63 430.5,469.19 431,469.12 431.5,469.85 432,469.33 432.5,470.2 433,469.84 433.5,470.5 434,470.46 434.5,470.88 435,470.89 435.5,471.3 436,471.19 436.5,471.58 437,471.8 437.5,471.77 438,472.63 438.5,472.32 439,472.88 439.5,473.53 440,473.23 440.5,473.48 441,473 441.5,473.62 442,473.51 442.5,473.49 443,474.1 443.5,473.49 444,473.92 444.5,473.31 445,473.27 445.5,473.76 446,474.21 446.5,473.77 447,473.81 447.5,473.69 448,474 448.5,474.27 449,474.02 449.5,474.27 450,473.57 450.5,474.27 451,474.29 451.5,474.16 452,474.52 452.5,474.34 453,474.29 453.5,474.41 454,474.38 454.5,474.01 455,474.26 455.5,474.77 456,474.56 456.5,474.28 457,474.69 457.5,474.52 458,474.59 458.5,474.47 459,474.69 459.5,474.71 460,474.94 460.5,474.76 461,475.25 461.5,474.68 462,475.29 462.5,475.49 463,475.36 463.5,475.74 464,475.84 464.5,476.02 465,476.35 465.5,476.54 466,476.63 466.5,476.28 467,476.9 467.5,476.98 468,477.14 468.5,476.97 469,476.77 469.5,477.7 470,477.44 470.5,477.7 471,477.96 471.5,477.89 472,478.51 472.5,478.09 473,478.4 473.5,478.87 474,478.31 474.5,478.66 475,478.72 475.5,479.57 476,479.39 476.5,479.6 477,479.44 477.5,479.39 478,480.41 478.5,480.03 479,480.22 479.5,480.06 480,480.48 480.5,480.87 481,480.63 481.5,480.91 482,480.89 482.5,480.71 483,480.9 483.5,480.75 484,481.28 484.5,480.3 485,480.63 485.5,480.83 486,481.42 486.5,481.7 487,481.4 487.5,481.28 488,480.67 488.5,480.97 489,481.51 489.5,481.09 490,481.14 490.5,481.51 491,481.24 491.5,481.52 492,481.84 492.5,482.03 493,481.79 493.5,481.54 494,482.22 494.5,482.34 495,481.81 495.5,482.74 496,481.57 496.5,482.22 497,481.96 497.5,481.7 498,482.64 498.5,482.58 499,481.75 499.5,482.48 500,482.48 500.5,482.44 501,482.26 501.5,482.24 502,482.62 502.5,482.79 503,482.75 503.5,482.71 504,482.49 504.5,482.86 505,482.45 505.5,483.22 506,482.9 506.5,482.62 507,482.79 507.5,483.1 508,483.47 508.5,483.48 509,483.38 509.5,483.3 510,483.5 510.5,483.87 511,483.73 511.5,483.44 512,483.41 512.5,484.06 513,483.83 513.5,484.23 514,483.98 514.5,482.93 515,483.91 515.5,484.07 516,484.18 516.5,484.4 517,484.62 517.5,484.18 518,484.3 518.5,483.88 519,484.76 519.5,484.25 520,484.06 520.5,484.98 521,484.32 521.5,484.97 522,484.44 522.5,484.22 523,484.66 523.5,484.62 524,484.92 524.5,484.7 525,484.51 525.5,484.9 526,484.93 526.5,484.83 527,484.75 527.5,485.45 528,485.03 528.5,485.27 529,485 529.5,484.89 530,485.12 530.5,484.9 531,485.55 531.5,485.44 532,485.63 532.5,485.39 533,485.42 533.5,485.54 534,485.85 534.5,485.58 535,485.72 535.5,485.48 536,485.75 536.5,485.41 537,485.7 537.5,486.3 538,485.88 538.5,486.26 539,485.66 539.5,485.57 540,486 540.5,485.92 541,486.46 541.5,486.72 542,486.3 542.5,486.26 543,486.64 543.5,486.25 544,486.23 544.5,486.18 545,485.97 545.5,486.21 546,486.57 546.5,486.48 547,486.39 547.5,486.87 548,486.27 548.5,486.42 549,486.77 549.5,486.92 550,485.76 550.5,486.6 551,486.61 551.5,486.42 552,486.68 552.5,486.92 553,486.83 553.5,487.3 554,486.91 554.5,487.55 555,487.06 555.5,487.07 556,487.67 556.5,486.78 557,487.64 557.5,487.09 558,487.55 558.5,487.37 559,487.67 559.5,486.86 560,487.29 560.5,487.11 561,487.41 561.5,487.45 562,487.62 562.5,487.75 563,487.55 563.5,487.69 564,487.8 564.5,488.16 565,487.89 565.5,487.67 566,487.98 566.5,487.79 567,487.95 567.5,488.21 568,488.2 568.5,488.18 569,488.08 569.5,488.1 570,487.75 570.5,488.37 571,488.65 571.5,487.94 572,488.27 572.5,488.21 573,487.51 573.5,487.83 574,488.09 574.5,488.02 575,488.26 575.5,488.06 576,488.51 576.5,488.56 577,488.52 577.5,487.99 578,488.02 578.5,488.63 579,488.18 579.5,488.56 580,488.25 580.5,488.65 581,488.33 581.5,488.64 582,488.71 582.5,488.67 583,488.64 583.5,488.86 584,489.1 584.5,488.3 585,488.89 585.5,489.29 586,489.44 586.5,489.61 587,489.04 587.5,488.54 588,489.37 588.5,489.04 589,489.47 589.5,488.7 590,488.93 590.5,488.96 591,488.71 591.5,488.65 592,488.84 592.5,489.3 593,489.53 593.5,489.48 594,489.69 594.5,488.76 595,489.32 595.5,489.26 596,489.26 596.5,488.8 597,489.52 597.5,489.07 598,489.33 598.5,489.48 599,489.98 599.5,489.24 600,489.71 600.5,489.66 601,489.5 601.5,489.56 602,489.3 602.5,489.81 603,489.61 603.5,489.61 604,489.7 604.5,489.55 605,489.82 605.5,489.45 606,489.99 606.5,490.22 607,489.86 607.5,489.56 608,490.04" fill="none" stroke="#ff0000" stroke-width="1.2" stroke-linejoin="round" clip-path="url(#ce2)"/>
<polyline points="362.5,438.37 362.75,436.74 363,438.24 363.25,435.67 363.5,438.67 363.75,438.57 364,437.48 364.25,436.39 364.5,437.87 364.75,436.77 365,438.99 365.25,437.31 365.5,437.33 365.75,437.97 366,436.28 366.25,437.82 366.38,434.65 366.5,437.97 366.59,418.8 366.75,437.03 366.8,437.45 367,436.76 367.01,446.06 367.25,436.73 367.29,437.45 367.5,437.75 367.75,436.58 368,436.97 368.25,438.5 368.5,436.7 368.75,437.5 369,437.71 369.25,437.95 369.5,437.59 369.75,436.68 369.99,435.83 370,435.79 370.2,428 370.25,436.86 370.41,437.21 370.5,436.19 370.62,437.38 370.75,436.39 370.9,437.21 371,436.03 371.25,437.68 371.5,437.48 371.75,437.65 372,436.66 372.25,437.86 372.5,436.99 372.75,437.19 373,438.27 373.25,437.28 373.5,437.29 373.69,432.33 373.75,436.65 373.9,406 374,437.05 374.11,436.98 374.25,437.62 374.32,453.51 374.5,436.97 374.6,436.98 374.75,435.96 375,437.51 375.25,435.95 375.5,435.65 375.75,436.34 376,435.52 376.25,435.64 376.5,435.88 376.75,435.71 377,435.59 377.25,436.91 377.29,432.47 377.5,417.5 377.5,435.61 377.71,435.12 377.75,435.6 377.92,438.94 378,435.49 378.2,435.12 378.25,433.69 378.5,433.51 378.75,435.22 379,433.18 379.25,433.32 379.5,434.18 379.75,432.61 380,432.73 380.25,432.58 380.39,425.87 380.5,432.24 380.6,385.2 380.75,432.24 380.81,433.05 381,432.13 381.02,443.11 381.25,433.49 381.3,433.05 381.5,433.51 381.75,430.94 382,431.38 382.25,431.42 382.5,431.29 382.75,431.02 383,430.57 383.25,430.73 383.5,430.95 383.75,430.75 383.99,424.7 384,431.17 384.2,391 384.25,429.64 384.41,430.65 384.5,429.81 384.62,448.01 384.75,430.94 384.9,430.65 385,428.52 385.25,430.4 385.5,428.98 385.75,427.98 386,427.9 386.25,427.31 386.5,426.39 386.75,424.79 387,425.33 387.25,425.81 387.5,425.83 387.69,412.52 387.75,424.77 387.9,351 388,421.39 388.11,423.38 388.25,423.67 388.32,458.28 388.5,421.94 388.6,423.38 388.75,421.56 389,420.91 389.25,420.77 389.5,419.01 389.75,419.86 390,419.31 390.25,418.65 390.5,419.14 390.75,417.83 390.99,410.4 391,415.9 391.2,375.6 391.25,416.55 391.41,416.54 391.5,415.44 391.62,426.99 391.75,415.63 391.9,416.54 392,415.43 392.25,416.01 392.5,414.54 392.75,414.18 393,412.79 393.25,414.1 393.5,412.66 393.75,412.49 394,412.1 394.25,411.03 394.5,411.74 394.59,401.23 394.75,408.98 394.8,346.4 395,411.71 395.01,410.91 395.22,416.97 395.25,412.7 395.5,410.91 395.5,413.18 395.75,412.85 396,414.65 396.25,414.69 396.5,415.45 396.75,416.65 397,417.55 397.25,417.57 397.5,418.56 397.75,418.88 398,419.58 398.25,419.28 398.29,415.43 398.5,379.2 398.5,421.71 398.71,421.82 398.75,422.97 398.92,426.47 399,424.58 399.2,421.82 399.25,425.31 399.5,427.79 399.75,427.19 400,429.52 400.25,430.11 400.5,430.69 400.75,431.62 401,431.17 401.25,430.61 401.5,431.94 401.58,423.22 401.75,432.19 401.79,371.9 402,432.06 402,432.28 402.21,451.4 402.25,433.2 402.49,432.28 402.5,433.1 402.75,432.56 403,433.43 403.25,433.41 403.5,433.93 403.75,434.79 404,435.14 404.25,435.08 404.5,434.41 404.75,434.6 405,436.47 405.19,430.06 405.25,435.83 405.4,396.9 405.5,435.83 405.61,435.91 405.75,437.01 405.82,452.37 406,436.28 406.1,435.91 406.25,436.29 406.5,437.23 406.75,435.99 407,437.19 407.25,437.36 407.5,437.36 407.75,437.33 408,436.49 408.25,438.68 408.5,437.42 408.75,437.39 408.89,430.73 409,436.53 409.1,388.3 409.25,437.79 409.31,438.22 409.5,438.77 409.52,465.61 409.75,438.3 409.8,438.22 410,438.83 410.25,439.26 410.5,438.65 410.75,438.48 411,440.75 411.25,439.67 411.5,438.91 411.75,439.94 412,439.06 412.25,440.41 412.49,437.16 412.5,439.97 412.7,418.4 412.75,440.2 412.91,440.47 413,441.05 413.12,443.99 413.25,440.8 413.4,440.47 413.5,440.64 413.75,441.05 414,440.44 414.25,440.68 414.5,441.03 414.75,441.36 415,441.68 415.25,441.23 415.5,442.4 415.75,442.99 415.99,437.52 416,443.03 416.2,408.4 416.25,442.02 416.41,442.66 416.5,442.44 416.62,447.57 416.75,442.79 416.9,442.66 417,442.07 417.25,443.01 417.5,442.91 417.75,443.23 418,443.47 418.25,443.65 418.5,444.16 418.75,445.14 419,444.76 419.25,444.88 419.39,442.46 419.5,444.89 419.6,429.3 419.75,444.26 419.81,444.78 420,443.89 420.02,457.26 420.25,444.77 420.3,444.78 420.5,443.52 420.75,446.44 421,445.74 421.25,445.32 421.5,447.43 421.75,445.75 422,445.25 422.25,446.26 422.5,447.43 422.75,445.56 422.99,443.54 423,444.89 423.2,426.5 423.25,447.89 423.41,446.54 423.5,445.89 423.62,453.95 423.75,448 423.9,446.54 424,446.37 424.25,447.28 424.5,448.03 424.75,447.15 425,447.88 425.25,446.18 425.5,447.72 425.75,447.45 426,447.78 426.25,447.28 426.5,448.58 426.69,447.08 426.75,446.63 426.9,440.2 427,448.11 427.11,448.29 427.25,448.21 427.32,455.23 427.5,448.46 427.6,448.29 427.75,448.47 428,448.96 428.25,449.18 428.5,449.23 428.75,448.87 429,448.44 429.25,449.07 429.5,449.58 429.75,449.21 429.99,448.67 430,448.97 430.2,442 430.25,449.38 430.41,449.84 430.5,448.61 430.62,464.37 430.75,449.99 430.9,449.84 431,450.09 431.25,450.71 431.5,450.97 431.75,450.3 432,450.87 432.25,450.21 432.5,451.02 432.75,450.89 433,449.66 433.25,450.55 433.5,451.86 433.75,452.13 433.99,450.83 434,451.89 434.2,445.7 434.25,450.76 434.41,451.73 434.5,452.54 434.62,455.32 434.75,451.84 434.9,451.73 435,450.82 435.25,452.43 435.5,452.24 435.75,451.91 436,453.68 436.25,451.63 436.5,452.93 436.75,453.06 437,454.31 437.25,453.66 437.5,455.18 437.75,452.4 438,452.38 438.19,449.36 438.25,454.19 438.4,424.7 438.5,452.88 438.61,453.71 438.75,453.43 438.82,470.06 439,454.59 439.1,453.71 439.25,454.83 439.5,455.48 439.75,455.44 440,455.78 440.25,454.05 440.5,452.97 440.75,454.22 441,456.13 441.25,455.07 441.5,455.93 441.59,450.9 441.75,455.6 441.8,427.8 442,454.71 442.01,454.98 442.22,472.3 442.25,455.31 442.5,455.7 442.5,454.98 442.75,456.54 443,454.59 443.25,455.02 443.5,453.91 443.75,456.51 444,455.05 444.25,455.08 444.5,455.59 444.75,456.33 444.89,448.2 445,456.16 445.1,404.6 445.25,455.86 445.31,455.89 445.5,457.47 445.52,461.12 445.75,455.5 445.8,455.89 446,456.03 446.25,456.43 446.5,456.14 446.75,456.21 447,456.04 447.25,456.3 447.5,457.16 447.75,457.07 448,456.57 448.2,451.43 448.25,456.77 448.41,421 448.5,455.66 448.62,456.81 448.75,457.35 448.83,466.74 449,457.23 449.11,456.81 449.25,457.24 449.5,458.15 449.75,457.04 450,457.95 450.25,457.62 450.5,458.01 450.75,457.55 451,457.37 451.25,459.49 451.5,457.7 451.75,457.47 451.99,449.01 452,458.63 452.2,398.9 452.25,458.21 452.41,457.86 452.5,456.55 452.62,461.72 452.75,458.34 452.9,457.86 453,457.67 453.25,458.93 453.5,457.43 453.75,459.65 454,458.21 454.25,458.7 454.5,458.35 454.75,458.58 455,458.21 455.25,459.58 455.39,452.14 455.5,459.78 455.6,414.4 455.75,458.5 455.81,458.8 456,458.77 456.02,470.5 456.25,460.64 456.3,458.8 456.5,457.81 456.75,459.27 457,459.26 457.25,460.52 457.5,459.24 457.75,459.09 458,458.95 458.25,460.31 458.5,457.17 458.75,459.05 459,459 459.25,458.32 459.4,451.41 459.5,459.96 459.61,403.3 459.75,461.57 459.82,459.9 460,461.37 460.03,486.1 460.25,460.15 460.31,459.9 460.5,459.99 460.75,460.25 461,460.52 461.25,459.76 461.5,459.78 461.75,460.59 462,460.32 462.25,460.06 462.5,460.29 462.69,453.8 462.75,461.63 462.9,415.6 463,460.83 463.11,460.55 463.25,460.97 463.32,482.97 463.5,459.6 463.6,460.55 463.75,461.36 464,460.88 464.25,461.01 464.5,461.15 464.75,462.1 465,459.56 465.25,461.05 465.5,460.65 465.75,460.84 466,461.44 466.2,453.79 466.25,459.15 466.41,411.9 466.5,462.83 466.62,461.19 466.75,461.33 466.83,477.26 467,460.35 467.11,461.19 467.25,462.4 467.5,461.45 467.75,461.23 468,461.78 468.25,461.83 468.5,461.13 468.75,461.78 469,460.15 469.25,461.25 469.5,460.64 469.75,461.29 469.79,457.23 470,431.1 470,462.54 470.21,461.85 470.25,462 470.42,469.82 470.5,461.94 470.7,461.85 470.75,461.98 471,463.33 471.25,461.64 471.5,461.75 471.75,462.13 472,463.18 472.25,461.01 472.5,462.6 472.75,462.76 473,464.05 473.25,461.94 473.5,462.98 473.58,457.5 473.75,461.79 473.79,428.9 474,462.73 474,462.54 474.21,467.74 474.25,463.17 474.49,462.54 474.5,461.94 474.75,463.68 475,463.83 475.25,464.19 475.5,464.17 475.75,464.08 476,462.16 476.25,461.99 476.5,462.98 476.75,462.62 477,462.29 477.09,459.54 477.25,462.3 477.3,438.9 477.5,462.71 477.51,463.19 477.72,469.63 477.75,463.62 478,463.19 478,463.57 478.25,462.72 478.5,460.88 478.75,462.48 479,465.5 479.25,462.4 479.5,463 479.75,464.02 480,465.17 480.25,464.23 480.5,463.19 480.75,463.49 480.89,459.86 481,463.81 481.1,437.8 481.25,463.59 481.31,463.76 481.5,463.66 481.52,471.17 481.75,464 481.8,463.76 482,465.14 482.25,463.43 482.5,464.75 482.75,464.08 483,464.86 483.25,463.48 483.5,464.38 483.75,464.53 484,463.59 484.19,462.04 484.25,463.2 484.4,451.1 484.5,463.09 484.61,463.98 484.75,464.09 484.82,467.4 485,464.31 485.1,463.98 485.25,464.37 485.5,463.81 485.75,465.21 486,464.49 486.25,463.74 486.5,466.75 486.75,464.74 487,465.14 487.25,464.72 487.5,463.66 487.75,464.26 487.99,462.09 488,464.09 488.2,450 488.25,464.27 488.41,464.23 488.5,463.62 488.62,470.1 488.75,463.24 488.9,464.23 489,465.08 489.25,464.88 489.5,464.03 489.75,464.81 490,463.77 490.25,464.77 490.5,463.32 490.75,464.47 491,463.39 491.25,464.36 491.5,465.46 491.58,463.96 491.75,464.58 491.79,461.1 492,465.46 492,464.46 492.21,465.74 492.25,464.5 492.49,464.46 492.5,465.31 492.75,463.59 493,465.73 493.25,464.17 493.5,465.75 493.75,465.37 494,465.57 494.25,465.27 494.5,465.35 494.75,464.49 495,463.84 495.25,464.37 495.4,463.35 495.5,466.12 495.61,455.6 495.75,464.9 495.82,464.71 496,464.2 496.03,466.21 496.25,464.99 496.31,464.71 496.5,464.45 496.75,465.47 497,465.03 497.25,464.21 497.5,465.71 497.75,464.9 498,465 498.25,465.21 498.5,464.61 498.69,464.52 498.75,463.95 498.9,462.2 499,465.12 499.11,464.93 499.25,465.45 499.32,472.93 499.5,465.17 499.6,464.93 499.75,463.94 500,465.68 500.25,465.85 500.5,465.51 500.75,464.57 501,465.15 501.25,464.66 501.5,466.1 501.75,465.43 502,466.1 502.25,466.1 502.5,465.1 502.69,461.94 502.75,465.57 502.9,442.2 503,463.85 503.11,465.42 503.25,464.56 503.32,476.84 503.5,465.48 503.6,465.42 503.75,465.74 504,466.7 504.25,466.95 504.5,464.8 504.75,466.94 505,465.58 505.25,465.45 505.5,465.14 505.75,465.84 505.99,463.84 506,467.17 506.2,452.2 506.25,466.89 506.41,465.9 506.5,464.12 506.62,468.59 506.75,467.02 506.9,465.9 507,466.01 507.25,465.21 507.5,468.19 507.75,466.53 508,465.06 508.25,467.29 508.5,466.2 508.75,465.1 509,466.69 509.25,466.72 509.5,466.21 509.75,466.61 509.79,461.82 510,466.83 510,435.6 510.21,466.45 510.25,466.61 510.42,474.09 510.5,466.3 510.7,466.45 510.75,466.78 511,466.79 511.25,466.65 511.5,466.91 511.75,466.87 512,466.95 512.25,466.48 512.5,468.11 512.75,468.93 513,466.02 513.09,463.05 513.25,466.82 513.3,441.1 513.5,467 513.51,466.92 513.72,470.95 513.75,468.22 514,466.92 514,467.51 514.25,465.77 514.5,466.82 514.75,467.76 515,467.78 515.25,467.47 515.5,467.4 515.75,466.91 516,466.63 516.25,467.32 516.5,468.03 516.75,466.94 516.89,463.02 517,466.86 517.1,437.8 517.25,467.52 517.31,467.47 517.5,466.77 517.52,472.31 517.75,468.32 517.8,467.47 518,467.19 518.25,467.51 518.5,467.79 518.75,468.85 519,468.26 519.25,468.98 519.5,468.49 519.75,468.67 520,467.17 520.19,464.76 520.25,469.6 520.4,446.7 520.5,467.3 520.61,467.95 520.75,467.49 520.82,468.71 521,468.85 521.1,467.95 521.25,468.47 521.5,466.39 521.75,468.77 522,468.28 522.25,468.47 522.5,468.26 522.75,468.41 523,467.72 523.25,468.63 523.5,468.23 523.75,468.13 523.78,465.74 523.99,450 524,468.43 524.2,468.52 524.25,468.68 524.41,468.68 524.5,469.38 524.69,468.52 524.75,468.59 525,468.73 525.25,468.88 525.5,468.86 525.75,469.17 526,468.34 526.25,469.16 526.5,468.98 526.75,468.8 527,469.62 527.25,469.76 527.5,469.68 527.58,466.75 527.75,469.2 527.79,453.3 528,470.01 528,469.12 528.21,472.04 528.25,469.22 528.49,469.12 528.5,469.27 528.75,469.56 529,469.77 529.25,469.11 529.5,469.05 529.75,468.89 530,469.06 530.25,469.76 530.5,469.47 530.75,470.16 530.89,467.36 531,469.84 531.1,454.4 531.25,470.41 531.31,469.64 531.5,469.63 531.52,472.02 531.75,470.28 531.8,469.64 532,469.25 532.25,469.96 532.5,469.87 532.75,469.62 533,469.61 533.25,469.96 533.5,469.99 533.75,470.31 534,469.74 534.25,470.63 534.5,469.81 534.75,470.17 534.89,467.89 535,470.34 535.1,454.4 535.25,469.99 535.31,470.27 535.5,470.45 535.52,494.97 535.75,470.26 535.8,470.27 536,470.01 536.25,470.31 536.5,470.93 536.75,470.2 537,470.31 537.25,470.04 537.5,470.41 537.75,470.99 538,470.56 538.19,468.68 538.25,470.54 538.4,456.7 538.5,471.1 538.61,470.8 538.75,470.42 538.82,478.78 539,471 539.1,470.8 539.25,470.61 539.5,471.49 539.75,470.66 540,471.18 540.25,471.36 540.5,470.83 540.75,470.77 541,471.56 541.25,470.68 541.39,469.82 541.5,470.47 541.6,462.2 541.75,471.12 541.81,471.17 542,472.15 542.02,476.22 542.25,470.94 542.3,471.17 542.5,471.59 542.75,471.06 543,471.52 543.25,470.6 543.5,471.21 543.75,472 544,471.96 544.25,470.74 544.5,471.08 544.75,471.27 545,471.87 545.09,470.53 545.25,471.12 545.3,465.3 545.5,471.63 545.51,471.46 545.72,480.22 545.75,470.89 546,471.81 546,471.46 546.25,471.42 546.5,471.31 546.75,471.53 547,471.06 547.25,471.2 547.5,471.19 547.75,471.51 548,471.87 548.25,471.58 548.5,471.88 548.75,472.33 548.79,471.25 549,471.73 549,468.4 549.21,471.75 549.25,472.67 549.42,475.16 549.5,472.44 549.7,471.75 549.75,471.54 550,471.97 550.25,472 550.5,471.59 550.75,471.79 551,472.15 551.25,471.15 551.5,471.45 551.75,471.38 552,471.77 552.02,471.35 552.23,467.67 552.25,472.07 552.44,472 552.5,472.3 552.65,490.6 552.75,472.18 552.93,472 553,472.08 553.25,472.21 553.5,472.43 553.75,471.95 554,472.42 554.25,471.76 554.5,472.02 554.75,472.38 555,472.62 555.25,472.69 555.5,471.7 555.6,471.79 555.75,473.08 555.81,468.99 556,472.58 556.02,472.28 556.23,473.85 556.25,472.32 556.5,472.18 556.51,472.28 556.75,472.39 557,472.75 557.25,471.79 557.5,472.34 557.75,472.56 558,472.14 558.25,472.32 558.5,471.75 558.75,472.44 559,472.43 559.17,472.2 559.25,472.3 559.38,470.12 559.5,472.22 559.59,472.57 559.75,472.49 559.8,476.8 560,471.86 560.08,472.57 560.25,472.79 560.5,472.44 560.75,472.01 561,473.34 561.25,472.08 561.5,472.48 561.75,472.34 562,472.41 562.25,473.04 562.5,472.39 562.75,472.46 562.75,473.41 562.96,470.48 563,472.76 563.17,472.81 563.25,472.89 563.38,474.1 563.5,472.86 563.66,472.81 563.75,472.61 564,472.87 564.25,473.04 564.5,473.08 564.75,472.91 565,473.21 565.25,472.87 565.5,473.19 565.75,472.95 566,472.77 566.25,473.12 566.33,472.8 566.5,473.07 566.54,471.44 566.75,473.04 566.75,473.53 566.96,476.61 567,472.83 567.24,473.04 567.25,473.31 567.5,473.77 567.75,473.23 568,473.53 568.25,473.39 568.5,473.53 568.75,473.33 569,473.24 569.25,473.03 569.5,472.89 569.75,473.38 569.9,472.87 570,473.39 570.11,470.59 570.25,473.78 570.32,473.27 570.5,473.22 570.53,477.86 570.75,472.67 570.81,473.27 571,473.1 571.25,473.52 571.5,473.73 571.75,472.95 572,473.38 572.25,473.69 572.5,473.36 572.75,474.35 573,472.88 573.25,473.32 573.48,473.31 573.5,473.16 573.69,472.19 573.75,473.42 573.9,473.5 574,473.48 574.11,476.34 574.25,472.8 574.39,473.5 574.5,473.79 574.75,473.64 575,473.53 575.25,473.32 575.5,473.45 575.75,473.37 576,473.01 576.25,473.47 576.5,473.23 576.75,473.58 577,474.34 577.06,473.54 577.25,473.83 577.27,472.42 577.48,473.74 577.5,472.78 577.69,478.05 577.75,473.72 577.97,473.74 578,473.38 578.25,474.27 578.5,473.54 578.75,473.13 579,473.74 579.25,473.94 579.5,474.11 579.75,474.06 580,474.44 580.25,473.72 580.5,474.29 580.63,473.53 580.75,474.34 580.84,471.03 581,474.56 581.05,473.97 581.25,474.28 581.26,474.89 581.5,474.08 581.54,473.97 581.75,473.62 582,474.12 582.25,473.21 582.5,473.99 582.75,473.94 583,473.6 583.25,474.08 583.5,473.59 583.75,474.16 584,473.58 584.21,474 584.25,474.52 584.42,472.89 584.5,473.97 584.63,474.2 584.75,473.61 584.84,478.17 585,474.9 585.11,474.26 585.12,474.2 585.25,474.24 585.41,491.06 585.5,474.24 585.71,474.26 585.75,474.08 586,474.82 586.25,474.41 586.5,473.35 586.75,474.7 587,474.59 587.25,474.33 587.5,474.88 587.75,475.11 587.79,474.17 588,472.67 588,473.87 588.21,474.43 588.25,475.06 588.42,478.13 588.5,474 588.7,474.43 588.75,474.37 589,474.33 589.25,473.73 589.5,474.93 589.75,475.12 590,474.09 590.25,474.1 590.5,474.41 590.75,474.91 591,475.1 591.25,474.71 591.36,474.32 591.5,474.39 591.57,472.36 591.75,473.9 591.78,474.67 591.99,477.75 592,474.31 592.25,473.99 592.27,474.67 592.5,473.97 592.75,475.06 593,473.98 593.25,474.8 593.5,474.68 593.75,474.85 594,474.95 594.25,475.18 594.5,474.78 594.75,474.48 594.94,474.7 595,474.6 595.15,473.59 595.25,474.94 595.36,474.9 595.5,475.24 595.57,477.8 595.75,474.6 595.85,474.9 596,474.74 596.25,474.39 596.5,474.79 596.75,474.6 597,475.38 597.25,475.12 597.5,474.8 597.75,475.91 598,474.92 598.25,474.94 598.5,474.88 598.52,474.93 598.73,473.82 598.75,474.45 598.94,475.13 599,475.6 599.15,475.86 599.25,475.04 599.43,475.13 599.5,475.25 599.75,475.44 600,475.33 600.25,475.48 600.5,474.37 600.75,474.64 601,476.09 601.25,475.59 601.5,475.7 601.75,475.91 602,474.85 602.09,475.17 602.25,476 602.3,474.05 602.5,475.54 602.51,475.36 602.72,480.56 602.75,475.06 603,475.5 603,475.36 603.25,476.12 603.5,475.22 603.75,475.67 604,475.38 604.25,475.14 604.5,475.45 604.75,475.38 605,475.99 605.25,475.43 605.5,476.08 605.67,475.4 605.75,474.72 605.88,474.28 606,476.14 606.09,475.6 606.25,475.61 606.3,477.3 606.5,475.69 606.58,475.6 606.75,475.8 607,475.91 607.25,475.25 607.5,475.4 607.75,475.83 608,475.2 608.25,475.23" fill="none" stroke="#0000ff" stroke-width="0.9" stroke-linejoin="round" clip-path="url(#ce2)"/>
<polyline points="362.5,437.87 363,437.76 363.5,437.59 364,437.65 364.5,437.48 365,438 365.5,437.1 366,437.31 366.5,437.67 367,437.04 367.5,437.25 368,436.95 368.5,437.63 369,436.83 369.5,437.24 370,437.77 370.5,436.98 371,437.23 371.5,437.39 372,437.15 372.5,437.58 373,436.87 373.5,437.05 374,437.03 374.5,436.55 375,436.76 375.5,436.62 376,436.36 376.5,435.79 377,435.15 377.5,435.26 378,435.05 378.5,434.19 379,434.09 379.5,433.78 380,432.87 380.5,433.43 381,432.72 381.5,432.92 382,432.18 382.5,431.61 383,431.13 383.5,431.45 384,430.54 384.5,430.22 385,429.59 385.5,427.83 386,427.43 386.5,426.6 387,425.18 387.5,424.73 388,422.74 388.5,421.82 389,421.13 389.5,419.79 390,418.74 390.5,417.3 391,417.02 391.5,416.37 392,415.74 392.5,414.44 393,413.95 393.5,412.74 394,411.74 394.5,411.14 395,411.69 395.5,412.44 396,414.15 396.5,415.37 397,416.51 397.5,418.45 398,419.69 398.5,421.14 399,424.7 399.5,427.79 400,430.42 400.5,431.04 401,431.75 401.5,432.06 402,432.49 402.5,433.02 403,433.41 403.5,434.55 404,435.02 404.5,434.94 405,435.77 405.5,435.63 406,436.19 406.5,436.97 407,436.75 407.5,437.48 408,437.45 408.5,437.5 409,437.58 409.5,438.48 410,438.58 410.5,439 411,439.18 411.5,440.4 412,440.13 412.5,440.26 413,440.52 413.5,441.16 414,441.05 414.5,441.29 415,441.88 415.5,442.27 416,442.62 416.5,442.8 417,442.83 417.5,443.05 418,443.9 418.5,444.33 419,444.61 419.5,444.44 420,444.96 420.5,445.18 421,445.37 421.5,445.63 422,446 422.5,446.48 423,446.61 423.5,446.64 424,446.81 424.5,447.25 425,447.49 425.5,447.25 426,447.98 426.5,448.03 427,448.41 427.5,448.79 428,449.2 428.5,449.18 429,449.49 429.5,449.28 430,450.05 430.5,450.09 431,450.03 431.5,450.48 432,450.55 432.5,450.69 433,451.6 433.5,451.5 434,451.88 434.5,451.5 435,452.13 435.5,452.2 436,452.11 436.5,452.9 437,453.02 437.5,453.17 438,453.58 438.5,453.41 439,453.76 439.5,453.95 440,454.44 440.5,454.7 441,454.84 441.5,454.98 442,455.46 442.5,455.06 443,455.08 443.5,455.44 444,455.71 444.5,455.7 445,455.79 445.5,455.9 446,455.65 446.5,456.5 447,456.31 447.5,456.36 448,456.66 448.5,456.88 449,457.23 449.5,457.26 450,457.05 450.5,456.99 451,457.69 451.5,457.53 452,457.65 452.5,457.66 453,458 453.5,458.09 454,458.11 454.5,458.79 455,458.61 455.5,459.23 456,459.42 456.5,459.25 457,459.58 457.5,459.18 458,459.19 458.5,459.67 459,459.76 459.5,459.93 460,460.07 460.5,460.06 461,460.09 461.5,460.4 462,460.58 462.5,460.6 463,460.34 463.5,460.76 464,460.35 464.5,460.89 465,460.56 465.5,461.33 466,461.29 466.5,461.07 467,461.16 467.5,461.42 468,460.93 468.5,461.54 469,461.58 469.5,461.9 470,461.4 470.5,461.7 471,461.91 471.5,462.55 472,462.11 472.5,462.42 473,462.28 473.5,462.24 474,462.77 474.5,462.61 475,462.52 475.5,462.8 476,463.02 476.5,463.31 477,463.3 477.5,463.55 478,463.04 478.5,463.37 479,463.81 479.5,463.58 480,464.01 480.5,464.58 481,463.42 481.5,463.47 482,464.2 482.5,464.03 483,463.82 483.5,464.01 484,464.17 484.5,464.11 485,464.07 485.5,464.18 486,464.02 486.5,464.17 487,464.34 487.5,464.16 488,464.64 488.5,463.86 489,464.73 489.5,464.32 490,464.25 490.5,464.26 491,464.33 491.5,464.1 492,464.76 492.5,464.52 493,464.5 493.5,464.7 494,464.76 494.5,464.29 495,464.85 495.5,464.82 496,464.8 496.5,464.82 497,464.76 497.5,464.89 498,464.77 498.5,464.86 499,464.8 499.5,464.6 500,465.22 500.5,464.64 501,465.26 501.5,465.04 502,465.25 502.5,465.44 503,465.95 503.5,465.08 504,465.77 504.5,465.85 505,465.44 505.5,465.77 506,465.37 506.5,465.5 507,465.82 507.5,466.01 508,465.95 508.5,466.57 509,466.25 509.5,466.33 510,466.56 510.5,466.45 511,466.97 511.5,466.42 512,466.39 512.5,467.14 513,466.83 513.5,466.54 514,466.91 514.5,467.36 515,467.42 515.5,467.01 516,466.83 516.5,467.66 517,467.44 517.5,467.72 518,467.67 518.5,467.58 519,467.75 519.5,467.99 520,467.33 520.5,468 521,468.09 521.5,467.83 522,468.19 522.5,468.33 523,468.11 523.5,468.7 524,468.32 524.5,468.32 525,468.5 525.5,468.8 526,468.83 526.5,469.36 527,469.02 527.5,468.99 528,468.92 528.5,469.19 529,469.41 529.5,469.6 530,469.47 530.5,469.51 531,469.31 531.5,469.7 532,469.91 532.5,469.89 533,470.06 533.5,470.08 534,470.67 534.5,470.59 535,470.56 535.5,470.21 536,470.43 536.5,470.45 537,470.27 537.5,470.92 538,470.43 538.5,470.71 539,471.07 539.5,470.58 540,471.41 540.5,471.37 541,471.17 541.5,471.05 542,471.24 542.5,471.79 543,471.35 543.5,471.33 544,470.69 544.5,471.03 545,471.4 545.5,471.75 546,471.42 546.5,471.85 547,471.54 547.5,471.53 548,471.77 548.5,471.64 549,471.83 549.5,471.93 550,471.43 550.5,471.71 551,471.98 551.5,472.14 552,471.93 552.5,471.87 553,471.84 553.5,471.72 554,472.02 554.5,472.47 555,471.69 555.5,471.96 556,472.08 556.5,471.99 557,472.76 557.5,472.51 558,472.58 558.5,472.18 559,472.84 559.5,472.65 560,472.22 560.5,472.47 561,472.77 561.5,472.22 562,473.08 562.5,472.65 563,472.86 563.5,472.7 564,472.94 564.5,473.12 565,472.88 565.5,473.31 566,472.86 566.5,473.11 567,472.83 567.5,473.21 568,473.3 568.5,473.06 569,472.88 569.5,473.76 570,473.23 570.5,473.13 571,473.69 571.5,473.59 572,473.22 572.5,473.64 573,473.62 573.5,473.04 574,473.76 574.5,473.78 575,474.18 575.5,473.9 576,473.97 576.5,473.24 577,473.4 577.5,474.08 578,473.27 578.5,473.61 579,473.89 579.5,473.67 580,473.81 580.5,474.14 581,474.43 581.5,474.24 582,474.04 582.5,474.17 583,474.3 583.5,473.89 584,474.45 584.5,473.97 585,474.36 585.5,474.24 586,474.59 586.5,474.34 587,474.57 587.5,474.85 588,474.44 588.5,474.48 589,474.28 589.5,474.46 590,474.82 590.5,474.75 591,475.27 591.5,474.95 592,474.36 592.5,474.33 593,474.56 593.5,474.71 594,474.67 594.5,474.73 595,475.34 595.5,475.14 596,474.64 596.5,474.68 597,474.95 597.5,475.13 598,475.18 598.5,475.25 599,475.39 599.5,475.68 600,475.17 600.5,475.36 601,475.33 601.5,474.87 602,475.19 602.5,475.56 603,475.26 603.5,475.83 604,475.2 604.5,475.44 605,475.59 605.5,475.42 606,475.22 606.5,475.75 607,475.92 607.5,475.15 608,475.73" fill="none" stroke="#0000ff" stroke-width="1.3" stroke-linejoin="round" clip-path="url(#ce2)"/>
<circle cx="394.84" cy="346.56" r="1.8" fill="#0000ff"/>
<text transform="translate(402,348.2) scale(1,1.0)" font-family='"Liberation Sans", sans-serif' font-size="13.35" text-anchor="start" stroke="#000" stroke-width="0.25">(0.263,1.75)</text>
<circle cx="387.7" cy="351.75" r="1.8" fill="#0000ff"/>
<text transform="translate(355.6,370.3) scale(1,1.0)" font-family='"Liberation Sans", sans-serif' font-size="13.35" text-anchor="start" stroke="#000" stroke-width="0.25">(0.205,1.11)</text>
<circle cx="452.38" cy="399.05" r="1.8" fill="#0000ff"/>
<text transform="translate(452.6,403.6) scale(1,1.0)" font-family='"Liberation Sans", sans-serif' font-size="13.35" text-anchor="start" stroke="#000" stroke-width="0.25">(0.731,0.0175)</text>
<rect x="558.1" y="332.9" width="38.1" height="31" fill="#fff" stroke="#111" stroke-width="1.0"/>
<line x1="558.7" y1="339.8" x2="582.6" y2="339.8" stroke="#ff6666" stroke-width="1.6"/>
<line x1="558.7" y1="354.8" x2="582.6" y2="354.8" stroke="#6666ff" stroke-width="1.6"/>
<text transform="translate(585.3,344.5) scale(1,1.1)" font-family='"Liberation Sans", sans-serif' font-size="10" text-anchor="start" stroke="#000" stroke-width="0.25" font-style="italic">p</text>
<text transform="translate(591.3,346.9) scale(1,1.1)" font-family='"Liberation Sans", sans-serif' font-size="6" text-anchor="start" stroke="#000" stroke-width="0.25">1</text>
<text transform="translate(585.3,359.5) scale(1,1.1)" font-family='"Liberation Sans", sans-serif' font-size="10" text-anchor="start" stroke="#000" stroke-width="0.25" font-style="italic">q</text>
<text transform="translate(591.3,361.9) scale(1,1.1)" font-family='"Liberation Sans", sans-serif' font-size="6" text-anchor="start" stroke="#000" stroke-width="0.25">1</text>
<rect x="362.5" y="326.7" width="245.9" height="183.7" fill="none" stroke="#111" stroke-width="1.0"/>
<path d="M362.5,510.4v-3.5M362.5,326.7v3.5M423.98,510.4v-3.5M423.98,326.7v3.5M485.45,510.4v-3.5M485.45,326.7v3.5M546.92,510.4v-3.5M546.92,326.7v3.5M608.4,510.4v-3.5M608.4,326.7v3.5M362.5,326.7h3.5M608.4,326.7h-3.5M362.5,352.94h3.5M608.4,352.94h-3.5M362.5,379.19h3.5M608.4,379.19h-3.5M362.5,405.43h3.5M608.4,405.43h-3.5M362.5,431.67h3.5M608.4,431.67h-3.5M362.5,457.91h3.5M608.4,457.91h-3.5M362.5,484.16h3.5M608.4,484.16h-3.5M362.5,510.4h3.5M608.4,510.4h-3.5" stroke="#111" stroke-width="1.0" fill="none"/>
<text transform="translate(362.5,525.4) scale(1,1.0)" font-family='"Liberation Sans", sans-serif' font-size="13" text-anchor="middle" stroke="#000" stroke-width="0.25">0.0</text>
<text transform="translate(423.98,525.4) scale(1,1.0)" font-family='"Liberation Sans", sans-serif' font-size="13" text-anchor="middle" stroke="#000" stroke-width="0.25">0.5</text>
<text transform="translate(485.45,525.4) scale(1,1.0)" font-family='"Liberation Sans", sans-serif' font-size="13" text-anchor="middle" stroke="#000" stroke-width="0.25">1.0</text>
<text transform="translate(546.92,525.4) scale(1,1.0)" font-family='"Liberation Sans", sans-serif' font-size="13" text-anchor="middle" stroke="#000" stroke-width="0.25">1.5</text>
<text transform="translate(608.4,525.4) scale(1,1.0)" font-family='"Liberation Sans", sans-serif' font-size="13" text-anchor="middle" stroke="#000" stroke-width="0.25">2.0</text>
<text transform="translate(357.9,331) scale(1,1.0)" font-family='"Liberation Sans", sans-serif' font-size="13" text-anchor="end" stroke="#000" stroke-width="0.25">10</text>
<text transform="translate(357.9,357.24) scale(1,1.0)" font-family='"Liberation Sans", sans-serif' font-size="13" text-anchor="end" stroke="#000" stroke-width="0.25">1</text>
<text transform="translate(357.9,383.49) scale(1,1.0)" font-family='"Liberation Sans", sans-serif' font-size="13" text-anchor="end" stroke="#000" stroke-width="0.25">0.1</text>
<text transform="translate(357.9,409.73) scale(1,1.0)" font-family='"Liberation Sans", sans-serif' font-size="13" text-anchor="end" stroke="#000" stroke-width="0.25">0.01</text>
<text transform="translate(357.9,435.97) scale(1,1.0)" font-family='"Liberation Sans", sans-serif' font-size="13" text-anchor="end" stroke="#000" stroke-width="0.25">0.001</text>
<text transform="translate(357.9,462.21) scale(1,1.0)" font-family='"Liberation Sans", sans-serif' font-size="13" text-anchor="end" stroke="#000" stroke-width="0.25">1E-4</text>
<text transform="translate(357.9,488.46) scale(1,1.0)" font-family='"Liberation Sans", sans-serif' font-size="13" text-anchor="end" stroke="#000" stroke-width="0.25">1E-5</text>
<text transform="translate(357.9,514.7) scale(1,1.0)" font-family='"Liberation Sans", sans-serif' font-size="13" text-anchor="end" stroke="#000" stroke-width="0.25">1E-6</text>
<text transform="translate(485.45,546.3) scale(1,1.0)" font-family='"Liberation Sans", sans-serif' font-size="13" text-anchor="middle" stroke="#000" stroke-width="0.25">Dimensionless frequency</text>
<text transform="translate(314,409.9) rotate(-90)" font-family='"Liberation Sans", sans-serif' font-size="13" text-anchor="middle" stroke="#000" stroke-width="0.25">P(f)</text>
<text transform="translate(303,317.3) scale(1,1.0)" font-family='"Liberation Sans", sans-serif' font-size="17.5" text-anchor="start" stroke="#000" stroke-width="0.25">(e2)</text>
</svg>
</body></html>
